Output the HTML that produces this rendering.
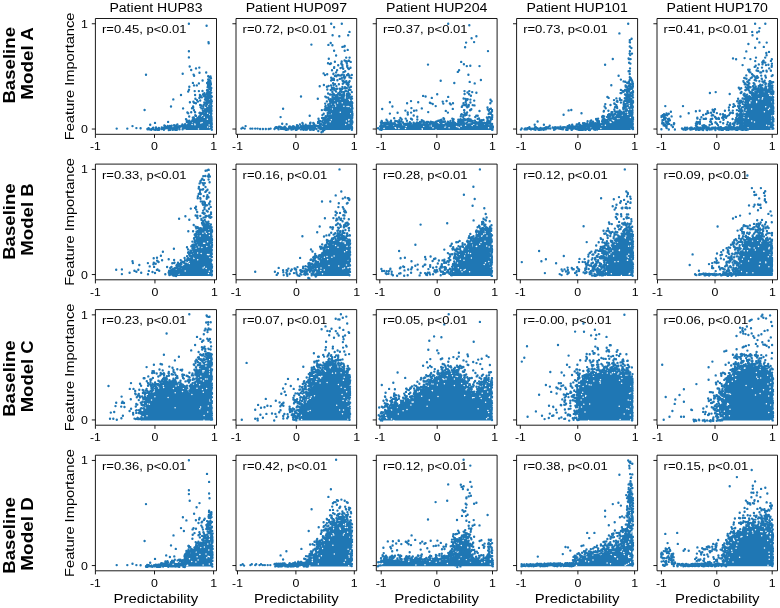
<!DOCTYPE html><html><head><meta charset="utf-8"><style>html,body{margin:0;padding:0;background:#fff;overflow:hidden;}svg{display:block;will-change:transform;}text{font-family:"Liberation Sans",sans-serif;fill:#000;}</style></head><body>
<svg width="780" height="608" viewBox="0 0 780 608">
<rect width="780" height="608" fill="#fff"/>
<defs><clipPath id="c00"><rect x="95.40" y="18.50" width="121.10" height="115.80"/></clipPath><clipPath id="c01"><rect x="236.00" y="18.50" width="120.70" height="115.80"/></clipPath><clipPath id="c02"><rect x="376.30" y="18.50" width="120.80" height="115.80"/></clipPath><clipPath id="c03"><rect x="516.60" y="18.50" width="121.00" height="115.80"/></clipPath><clipPath id="c04"><rect x="657.00" y="18.50" width="120.50" height="115.80"/></clipPath><clipPath id="c10"><rect x="95.40" y="164.10" width="121.10" height="115.70"/></clipPath><clipPath id="c11"><rect x="236.00" y="164.10" width="120.70" height="115.70"/></clipPath><clipPath id="c12"><rect x="376.30" y="164.10" width="120.80" height="115.70"/></clipPath><clipPath id="c13"><rect x="516.60" y="164.10" width="121.00" height="115.70"/></clipPath><clipPath id="c14"><rect x="657.00" y="164.10" width="120.50" height="115.70"/></clipPath><clipPath id="c20"><rect x="95.40" y="309.60" width="121.10" height="115.60"/></clipPath><clipPath id="c21"><rect x="236.00" y="309.60" width="120.70" height="115.60"/></clipPath><clipPath id="c22"><rect x="376.30" y="309.60" width="120.80" height="115.60"/></clipPath><clipPath id="c23"><rect x="516.60" y="309.60" width="121.00" height="115.60"/></clipPath><clipPath id="c24"><rect x="657.00" y="309.60" width="120.50" height="115.60"/></clipPath><clipPath id="c30"><rect x="95.40" y="455.20" width="121.10" height="115.60"/></clipPath><clipPath id="c31"><rect x="236.00" y="455.20" width="120.70" height="115.60"/></clipPath><clipPath id="c32"><rect x="376.30" y="455.20" width="120.80" height="115.60"/></clipPath><clipPath id="c33"><rect x="516.60" y="455.20" width="121.00" height="115.60"/></clipPath><clipPath id="c34"><rect x="657.00" y="455.20" width="120.50" height="115.60"/></clipPath></defs><g clip-path="url(#c00)"><path d="M185.4 130.0L211.2 130.0L211.2 98.8L209.5 95.0L207.6 102.7L204.7 112.3L198.9 117.1L192.2 120.9L187.4 124.8Z" fill="#1f77b4"/><path d="M209.8 127.5h0M209.5 99.8h0M209.2 124.9h0M207.6 113.2h0M210.5 129.9h0M209.7 114.5h0M207.7 127.0h0M204.3 117.3h0M208.4 100.2h0M202.1 122.4h0M210.5 98.9h0M209.8 97.2h0M207.5 106.0h0M208.6 104.0h0M210.9 105.8h0M201.4 116.0h0M202.5 115.2h0M207.4 119.3h0M194.8 124.0h0M195.0 124.8h0M200.8 122.9h0M192.2 122.0h0M192.1 124.5h0M198.5 129.1h0" stroke="#fff" stroke-width="1.5" stroke-linecap="round"/><path d="M211.8 129.7h0M211.6 120.7h0M211.8 124.0h0M210.9 124.9h0M211.3 116.5h0M211.1 124.6h0M211.6 118.9h0M211.4 127.1h0M211.5 117.1h0M211.4 125.4h0M211.5 124.1h0M211.5 129.3h0M211.2 99.8h0M210.6 106.8h0M211.1 100.7h0M211.1 106.0h0M211.8 126.9h0M211.4 102.4h0M211.2 107.0h0M211.4 113.7h0M211.1 104.3h0M211.5 122.7h0M211.6 123.2h0M211.1 112.7h0M211.4 111.6h0M210.7 100.1h0M211.3 124.9h0M211.0 104.0h0M211.6 122.8h0M211.5 125.1h0M211.2 128.5h0M211.5 127.5h0M211.8 101.3h0M211.6 105.9h0M211.3 108.8h0M210.8 115.0h0M211.5 110.5h0M211.1 111.0h0M211.1 100.3h0M211.1 106.0h0M211.1 97.3h0M211.0 97.3h0M210.4 96.8h0M211.8 96.4h0M210.3 97.7h0M205.0 95.0h0M208.7 97.5h0M206.5 98.6h0M205.4 99.4h0M208.4 96.8h0M207.8 97.5h0M206.8 99.0h0M209.0 95.4h0M208.6 100.5h0M206.2 100.2h0M203.1 111.0h0M200.6 107.1h0M206.1 102.5h0M206.5 104.3h0M206.7 104.3h0M202.8 110.7h0M205.5 110.9h0M204.0 104.8h0M207.6 103.1h0M204.3 102.5h0M206.3 104.7h0M207.8 102.9h0M203.4 106.8h0M198.9 116.9h0M200.0 116.7h0M200.9 113.9h0M200.5 115.0h0M199.9 112.7h0M203.1 112.2h0M199.5 113.0h0M203.4 112.6h0M203.4 111.0h0M199.4 116.2h0M195.3 119.7h0M195.1 112.2h0M198.3 117.6h0M192.5 120.5h0M197.6 118.3h0M195.8 119.4h0M197.4 118.0h0M194.0 120.1h0M194.9 119.4h0M187.4 112.5h0M192.2 121.1h0M186.8 121.9h0M189.7 123.3h0M190.9 122.0h0M187.5 124.7h0M189.2 120.8h0M188.2 122.5h0M186.7 120.5h0M186.9 127.1h0M186.7 126.0h0M186.4 127.8h0M179.3 126.1h0M185.4 126.4h0M183.4 127.1h0M185.2 127.7h0M210.2 89.4h0M208.9 76.6h0M210.2 93.5h0M207.4 91.2h0M206.9 97.1h0M211.4 103.0h0M211.2 113.8h0M210.9 84.3h0M207.2 92.8h0M208.0 97.0h0M210.0 84.2h0M207.9 92.7h0M209.3 92.9h0M207.6 97.0h0M210.2 82.9h0M208.2 76.3h0M210.0 88.2h0M211.3 88.0h0M210.7 93.1h0M210.1 82.5h0M211.3 92.6h0M206.3 99.5h0M209.3 88.5h0M211.0 78.3h0M210.2 88.4h0M211.2 119.6h0M208.5 81.4h0M207.6 87.2h0M206.8 93.7h0M208.9 82.9h0M210.8 83.1h0M208.6 95.7h0M208.0 86.7h0M209.3 84.9h0M210.3 85.7h0M208.2 82.3h0M207.1 82.9h0M208.1 90.8h0M207.2 96.0h0M207.4 91.6h0M208.4 81.4h0M211.4 125.3h0M210.3 87.0h0M210.4 81.3h0M210.9 89.9h0M210.4 91.9h0M210.5 76.4h0M209.2 87.9h0M209.3 77.1h0M209.4 81.1h0M208.2 79.5h0M207.9 84.2h0M207.5 101.2h0M208.0 83.5h0M209.6 95.1h0M211.0 96.9h0M210.4 95.7h0M209.2 79.8h0M208.0 93.3h0M207.0 90.3h0M206.7 97.9h0M208.1 93.7h0M207.9 90.5h0M208.0 85.8h0M210.9 95.6h0M207.2 93.3h0M208.9 80.6h0M207.2 93.1h0M210.2 94.5h0M209.6 94.1h0M205.0 109.3h0M210.2 86.2h0M202.5 91.0h0M210.8 97.6h0M202.8 108.5h0M206.1 106.0h0M204.4 93.3h0M211.3 116.8h0M201.5 108.4h0M211.4 124.2h0M201.8 113.2h0M195.3 115.2h0M204.6 110.9h0M193.6 119.7h0M205.5 98.9h0M206.3 103.0h0M196.0 115.9h0M205.0 95.9h0M201.8 97.2h0M197.1 100.3h0M197.9 101.6h0M202.6 113.6h0M209.0 94.3h0M188.7 121.3h0M192.0 108.2h0M203.2 94.2h0M201.6 105.5h0M188.5 123.7h0M208.1 98.5h0M210.8 95.9h0M205.9 102.9h0M211.3 97.0h0M199.4 97.9h0M193.3 118.9h0M211.3 117.6h0M189.2 116.5h0M207.9 96.8h0M199.9 96.9h0M209.1 94.5h0M201.1 114.3h0M210.2 93.0h0M204.1 96.2h0M205.2 96.7h0M191.0 121.8h0M200.2 100.5h0M192.8 117.6h0M206.2 72.5h0M200.7 95.8h0M195.9 103.2h0M189.3 86.8h0M193.4 101.8h0M186.4 119.8h0M189.0 89.8h0M194.0 110.3h0M189.9 102.2h0M192.9 82.9h0M204.3 111.4h0M186.0 119.1h0M188.2 91.5h0M188.2 113.2h0M193.2 107.8h0M202.6 80.5h0M192.7 119.7h0M194.0 85.4h0M200.1 104.9h0M205.0 99.5h0M208.4 91.6h0M193.6 74.6h0M193.8 117.4h0M203.1 94.8h0M199.5 72.7h0M196.8 85.4h0M210.3 93.9h0M161.8 129.1h0M172.8 129.7h0M168.9 127.3h0M182.8 126.6h0M165.3 127.1h0M167.9 127.8h0M180.8 126.6h0M164.3 127.4h0M150.3 129.4h0M171.6 127.6h0M167.0 128.0h0M179.5 129.2h0M180.8 126.6h0M155.6 129.4h0M168.6 127.9h0M176.8 129.7h0M168.8 129.7h0M148.7 128.2h0M173.1 129.4h0M164.8 128.6h0M157.4 129.0h0M168.8 130.0h0M166.8 127.0h0M177.3 128.0h0M151.2 129.8h0M182.6 129.3h0M147.4 128.9h0M158.9 127.9h0M175.3 127.4h0M157.5 129.7h0M177.1 129.4h0M175.3 129.8h0M175.8 129.1h0M157.5 128.9h0M183.0 128.4h0M174.3 127.0h0M164.3 128.3h0M174.8 128.2h0M155.3 129.9h0M179.2 127.7h0M183.5 126.4h0M176.0 128.8h0M165.9 128.2h0M170.2 127.7h0M184.9 127.2h0M161.4 128.7h0M149.5 129.4h0M177.0 126.8h0M157.1 128.8h0M153.4 129.2h0M155.8 129.1h0M152.4 128.7h0M172.6 128.7h0M152.9 128.0h0M156.0 127.5h0M159.1 129.7h0M153.3 127.8h0M176.7 129.6h0M170.4 129.7h0M163.9 129.2h0M185.3 128.1h0M163.9 129.8h0M173.4 128.2h0M161.6 129.0h0M184.3 128.2h0M164.3 128.2h0M147.6 129.3h0M174.6 128.6h0M173.5 129.3h0M163.1 128.4h0M165.0 126.0h0M176.0 126.0h0M174.1 125.1h0M176.5 125.2h0M164.4 125.4h0M175.7 125.8h0M164.6 126.1h0M177.4 124.4h0M161.8 127.5h0M167.7 126.0h0M171.7 125.8h0M177.3 126.6h0M183.7 125.7h0M181.4 125.8h0M185.1 124.2h0M166.6 127.0h0M169.9 126.0h0M182.4 124.4h0M116.7 128.6h0M127.3 128.6h0M132.5 126.1h0M136.4 128.1h0M140.6 128.3h0M146.0 74.8h0M144.6 110.0h0M173.3 99.4h0M171.0 106.5h0M188.9 23.8h0M206.6 25.7h0M208.5 42.1h0M208.7 43.2h0M188.9 51.3h0M188.9 57.4h0M182.7 73.8h0M189.7 66.5h0M191.2 70.0h0M196.0 68.4h0M199.3 67.6h0M155.0 122.9h0M150.2 124.8h0M168.1 121.9h0M183.1 108.4h0M181.0 95.0h0M198.9 83.4h0M194.1 75.7h0M194.7 91.1h0M195.1 95.0h0M195.4 98.8h0M194.1 102.7h0M193.1 106.5h0M198.9 91.1h0M199.9 95.0h0M191.2 112.3h0" stroke="#1f77b4" stroke-width="2.4" stroke-linecap="round"/></g><g clip-path="url(#c01)"><path d="M324.5 130.0L351.8 130.0L351.8 98.8L347.6 95.0L341.8 96.9L336.1 98.8L332.2 104.6L329.3 114.2L326.4 121.9L320.7 126.1Z" fill="#1f77b4"/><path d="M348.8 120.1h0M349.7 100.5h0M348.9 122.9h0M349.0 119.6h0M350.7 113.6h0M347.1 106.4h0M348.8 106.5h0M345.7 124.5h0M342.2 102.8h0M350.6 107.5h0M346.4 120.9h0M347.8 96.5h0M349.1 99.4h0M345.2 98.1h0M345.2 96.8h0M343.9 106.3h0M340.2 98.7h0M335.6 105.9h0M337.6 103.0h0M335.0 104.3h0M331.1 113.7h0M340.3 112.2h0M332.5 106.6h0M332.4 109.1h0M331.3 119.8h0M350.8 129.6h0M330.2 121.7h0M326.1 124.0h0M322.4 126.8h0" stroke="#fff" stroke-width="1.5" stroke-linecap="round"/><path d="M351.8 101.9h0M351.9 129.7h0M351.9 123.8h0M351.4 121.4h0M352.1 111.7h0M352.4 113.4h0M352.1 127.9h0M351.8 129.7h0M351.9 126.9h0M351.9 111.8h0M351.9 106.5h0M352.3 103.0h0M352.0 108.6h0M351.5 120.0h0M351.4 110.9h0M352.4 115.4h0M351.9 120.9h0M352.4 114.8h0M352.0 105.2h0M352.1 111.4h0M352.2 107.5h0M351.6 128.0h0M351.9 105.4h0M351.4 112.3h0M352.0 111.9h0M351.3 128.7h0M352.4 122.5h0M351.3 106.5h0M352.1 114.2h0M352.0 111.1h0M351.9 127.4h0M352.1 102.9h0M351.6 124.8h0M351.6 118.7h0M352.2 117.3h0M351.7 109.5h0M352.3 121.5h0M352.0 118.5h0M352.2 117.7h0M352.4 108.6h0M351.3 127.9h0M351.0 97.4h0M348.1 96.2h0M351.8 96.6h0M352.0 98.6h0M349.2 95.4h0M348.7 95.9h0M348.7 96.2h0M347.0 94.6h0M342.0 97.3h0M342.2 97.2h0M344.2 95.3h0M343.6 96.1h0M343.7 92.2h0M345.3 91.1h0M347.1 95.3h0M341.9 97.2h0M337.7 97.0h0M339.3 98.3h0M337.6 98.7h0M337.6 97.7h0M336.9 98.9h0M340.0 98.0h0M335.9 97.3h0M332.0 99.2h0M333.7 97.7h0M333.0 104.2h0M331.6 101.5h0M329.9 101.0h0M332.9 100.6h0M333.2 101.8h0M334.6 99.0h0M333.8 101.7h0M328.3 110.4h0M330.9 110.4h0M326.7 109.7h0M327.0 110.0h0M331.1 105.8h0M324.5 109.8h0M332.1 105.4h0M331.5 106.9h0M329.8 110.7h0M327.7 112.9h0M325.8 110.0h0M330.2 113.0h0M329.4 108.2h0M326.7 116.7h0M324.0 117.9h0M328.4 116.3h0M327.2 121.3h0M327.9 118.9h0M327.4 120.2h0M326.8 120.6h0M325.1 120.8h0M327.2 120.2h0M325.7 118.8h0M318.5 118.7h0M325.4 123.0h0M325.6 123.0h0M323.5 124.2h0M318.8 122.2h0M320.8 124.7h0M322.8 122.3h0M323.4 122.6h0M325.4 121.2h0M318.3 131.0h0M320.7 128.2h0M323.4 129.0h0M324.2 129.7h0M323.0 131.4h0M321.8 129.1h0M321.5 132.2h0M332.8 99.5h0M328.6 110.0h0M342.5 95.2h0M341.3 63.4h0M344.5 78.5h0M330.5 101.8h0M325.7 108.1h0M340.4 94.2h0M338.3 93.3h0M328.1 93.5h0M330.5 109.3h0M328.2 104.4h0M348.6 95.2h0M349.4 96.1h0M346.9 93.9h0M342.4 87.0h0M332.4 101.4h0M330.6 105.5h0M332.8 79.2h0M325.5 108.7h0M322.5 122.0h0M328.6 108.2h0M332.3 103.1h0M328.2 97.6h0M339.8 95.3h0M326.7 108.6h0M325.7 106.0h0M341.8 95.4h0M335.4 90.5h0M328.7 111.5h0M322.9 120.1h0M322.1 117.9h0M342.5 94.4h0M325.9 119.2h0M331.4 89.6h0M334.8 88.6h0M332.1 87.9h0M348.9 69.0h0M347.8 82.9h0M329.0 111.9h0M345.0 87.3h0M322.4 115.1h0M340.0 91.5h0M348.6 95.8h0M332.8 88.0h0M348.4 94.1h0M333.7 87.8h0M344.0 93.9h0M339.3 93.8h0M328.8 106.5h0M346.1 81.7h0M344.9 88.2h0M332.5 96.9h0M331.8 99.4h0M341.7 91.7h0M333.4 89.6h0M325.9 110.3h0M327.7 114.9h0M347.9 85.6h0M334.6 95.3h0M346.3 91.1h0M331.9 87.8h0M335.9 97.7h0M330.7 102.2h0M347.7 84.6h0M342.6 88.2h0M332.4 92.0h0M327.1 116.3h0M349.0 82.3h0M328.9 99.3h0M323.7 113.8h0M346.5 83.7h0M337.9 94.3h0M327.6 108.8h0M335.6 99.1h0M326.5 97.4h0M343.7 77.0h0M330.7 90.0h0M332.5 92.2h0M339.8 78.9h0M326.9 101.4h0M324.0 119.0h0M325.6 116.3h0M328.3 105.7h0M325.2 103.6h0M330.0 94.5h0M325.4 120.7h0M330.3 99.2h0M345.1 81.8h0M346.8 87.9h0M336.1 95.2h0M328.5 113.2h0M326.8 108.8h0M342.6 95.4h0M325.2 120.7h0M324.4 122.1h0M325.1 109.8h0M350.5 89.9h0M335.1 84.1h0M327.3 89.5h0M336.1 91.5h0M333.9 94.3h0M329.9 103.5h0M348.6 84.7h0M331.6 101.8h0M328.3 107.2h0M340.8 90.2h0M348.7 82.6h0M325.1 109.1h0M334.3 95.1h0M342.5 66.9h0M331.2 77.8h0M341.4 91.8h0M336.4 86.1h0M336.1 72.4h0M336.4 76.3h0M331.1 80.5h0M349.4 75.8h0M343.0 81.1h0M341.7 61.4h0M349.0 60.6h0M342.4 65.0h0M344.6 60.5h0M339.7 88.7h0M344.0 75.2h0M349.6 81.1h0M334.2 67.1h0M348.1 68.2h0M337.1 88.8h0M342.2 74.6h0M338.9 84.3h0M346.8 63.2h0M338.2 65.3h0M348.9 75.3h0M340.8 88.9h0M346.7 61.4h0M342.5 80.4h0M348.7 93.1h0M344.0 77.2h0M348.2 74.0h0M346.9 75.3h0M333.8 78.6h0M349.9 94.5h0M342.4 67.3h0M351.8 74.9h0M337.1 70.2h0M338.1 75.0h0M349.3 87.5h0M334.0 80.0h0M333.2 78.6h0M337.6 96.8h0M344.0 92.3h0M343.4 72.3h0M340.9 95.2h0M336.5 95.5h0M343.2 68.8h0M333.1 83.2h0M343.6 82.0h0M335.0 75.9h0M345.1 77.2h0M331.0 85.4h0M333.7 94.8h0M337.4 80.2h0M346.4 81.9h0M332.4 79.8h0M351.3 78.0h0M331.2 94.6h0M343.8 72.1h0M350.5 67.8h0M345.2 71.2h0M334.1 67.9h0M342.3 89.0h0M336.8 95.8h0M341.7 78.2h0M343.3 80.9h0M348.7 60.7h0M347.2 66.7h0M345.8 61.3h0M333.5 73.8h0M333.6 85.1h0M342.8 83.7h0M350.7 61.9h0M341.6 64.3h0M335.9 75.5h0M346.5 88.1h0M332.0 70.2h0M343.7 82.8h0M331.4 78.0h0M328.6 86.0h0M319.2 120.6h0M347.7 49.9h0M334.9 61.7h0M325.0 75.1h0M340.5 68.1h0M330.0 64.0h0M330.3 110.1h0M329.8 106.9h0M333.0 79.8h0M341.6 63.4h0M328.8 58.7h0M344.4 46.5h0M345.7 88.5h0M341.0 75.5h0M351.0 86.7h0M323.9 85.0h0M325.3 96.6h0M326.9 86.8h0M332.4 45.2h0M349.6 57.6h0M332.8 94.6h0M347.2 65.4h0M348.0 91.6h0M327.2 74.2h0M333.4 74.0h0M346.2 57.6h0M321.2 124.1h0M346.2 61.8h0M325.3 106.8h0M321.9 110.1h0M331.0 63.4h0M349.5 77.2h0M339.2 75.4h0M348.7 89.8h0M346.4 81.2h0M351.8 92.1h0M281.9 127.6h0M312.1 126.2h0M314.7 128.4h0M312.8 127.8h0M299.1 127.8h0M298.6 127.7h0M298.0 126.0h0M292.3 127.6h0M285.7 127.8h0M276.0 127.3h0M305.9 128.1h0M320.7 128.7h0M311.3 129.5h0M313.2 129.8h0M316.2 125.6h0M294.2 126.8h0M302.6 128.8h0M308.9 127.0h0M310.1 129.7h0M316.4 129.1h0M306.0 129.7h0M298.7 127.8h0M291.4 127.9h0M289.8 128.3h0M298.6 128.6h0M305.5 129.6h0M301.3 126.1h0M308.9 126.7h0M276.7 127.3h0M280.9 128.7h0M312.0 128.6h0M284.6 127.2h0M284.0 128.5h0M274.5 129.0h0M310.6 128.0h0M298.1 127.7h0M300.8 126.7h0M322.3 128.5h0M314.5 127.4h0M286.4 129.0h0M305.9 126.5h0M288.2 129.4h0M295.9 128.4h0M297.0 127.7h0M312.1 128.4h0M297.5 128.7h0M286.2 129.9h0M318.4 127.4h0M279.0 126.7h0M300.9 129.4h0M280.9 128.1h0M301.3 129.0h0M288.8 128.0h0M321.9 127.8h0M293.6 126.4h0M313.4 128.3h0M308.7 128.2h0M307.5 127.4h0M277.2 127.4h0M301.6 128.6h0M296.6 129.7h0M295.5 128.0h0M303.3 127.9h0M277.5 128.2h0M306.9 129.4h0M319.3 128.2h0M304.1 128.7h0M310.1 126.8h0M284.7 127.7h0M295.8 129.7h0M303.3 126.4h0M307.6 127.6h0M286.8 129.7h0M320.4 129.1h0M275.6 127.5h0M291.0 127.3h0M303.5 129.7h0M289.2 126.6h0M310.4 126.7h0M291.0 127.7h0M284.8 126.6h0M285.1 128.0h0M289.4 127.4h0M310.6 125.6h0M311.8 128.0h0M308.1 125.8h0M316.5 129.1h0M319.6 127.6h0M313.8 129.7h0M314.8 125.6h0M283.5 128.5h0M307.2 129.3h0M312.2 126.4h0M306.3 128.0h0M324.3 129.9h0M301.2 127.1h0M308.7 127.4h0M283.3 127.6h0M295.8 127.5h0M312.7 125.7h0M288.3 128.9h0M290.4 126.6h0M321.5 127.4h0M304.1 127.9h0M312.3 128.9h0M319.5 127.9h0M278.0 128.5h0M296.2 127.5h0M313.7 129.6h0M309.2 128.0h0M303.3 126.1h0M293.4 129.1h0M291.4 129.5h0M307.1 129.5h0M307.3 128.0h0M303.2 129.6h0M285.8 129.4h0M289.4 127.2h0M284.0 129.0h0M281.7 127.9h0M319.0 125.9h0M280.6 127.0h0M306.6 125.9h0M322.2 127.8h0M305.1 128.3h0M307.8 127.8h0M306.4 126.1h0M312.3 128.7h0M305.9 126.6h0M293.1 126.2h0M276.6 127.6h0M319.7 127.6h0M276.3 127.9h0M286.0 129.2h0M292.3 129.3h0M322.9 129.9h0M291.0 128.8h0M309.6 125.6h0M315.0 128.0h0M280.0 127.0h0M289.9 127.3h0M275.0 128.2h0M289.8 126.4h0M307.5 128.5h0M295.9 129.8h0M315.4 126.9h0M282.3 128.9h0M278.6 129.3h0M291.5 128.7h0M294.5 127.6h0M303.3 125.7h0M319.7 125.1h0M319.8 121.2h0M305.7 124.6h0M297.0 125.1h0M305.0 126.1h0M314.8 125.3h0M306.7 126.3h0M310.1 123.2h0M309.5 126.0h0M310.5 122.7h0M313.3 123.0h0M305.7 125.7h0M325.5 122.2h0M313.6 123.8h0M320.7 125.0h0M318.1 121.6h0M319.9 123.7h0M320.6 121.2h0M305.4 126.0h0M307.6 126.3h0M299.9 124.4h0M318.0 122.9h0M317.5 125.9h0M297.6 126.2h0M302.7 123.7h0M296.9 126.3h0M320.1 125.7h0M314.0 123.7h0M326.1 121.2h0M241.4 128.6h0M242.7 127.7h0M244.7 128.6h0M245.6 126.1h0M250.4 128.6h0M252.4 128.6h0M255.2 128.6h0M257.6 128.6h0M260.1 129.0h0M262.9 129.0h0M265.8 129.0h0M268.7 129.0h0M270.6 128.6h0M311.4 44.6h0M301.0 96.5h0M283.1 108.8h0M280.6 117.1h0M317.8 98.8h0M319.7 86.3h0M323.6 73.4h0M328.0 63.2h0M328.4 44.9h0M330.7 43.0h0M331.2 23.8h0M334.1 27.2h0M341.8 23.8h0M349.5 31.9h0M348.2 35.3h0M339.3 36.3h0M332.6 35.3h0M344.7 45.9h0M342.4 46.9h0M334.1 50.7h0M336.1 55.5h0M344.7 50.7h0M309.7 115.7h0M282.2 123.8h0M286.6 124.2h0M302.4 122.9h0" stroke="#1f77b4" stroke-width="2.4" stroke-linecap="round"/></g><g clip-path="url(#c02)"><path d="M380.8 130.0L492.4 130.0L492.4 125.8L483.8 124.8L472.2 122.9L460.7 123.8L449.1 124.8L433.7 124.8L414.5 124.8L395.2 125.4L380.8 125.8Z" fill="#1f77b4"/><path d="M491.7 126.4h0M488.6 127.8h0M473.8 124.3h0M477.1 125.1h0M461.1 126.3h0M472.2 125.6h0M465.6 125.3h0M461.8 124.5h0M459.3 127.7h0M456.5 126.4h0M458.0 127.0h0M436.0 130.0h0M446.0 125.8h0M449.1 127.8h0M445.0 127.3h0M423.7 126.2h0M431.3 125.9h0M433.0 127.8h0M422.2 128.8h0M422.4 129.9h0M429.6 125.5h0M398.9 128.6h0M405.5 128.6h0M395.8 128.2h0M406.2 126.4h0M395.2 127.5h0M384.0 128.4h0M384.1 128.5h0" stroke="#fff" stroke-width="1.5" stroke-linecap="round"/><path d="M492.9 127.6h0M492.3 129.9h0M492.9 126.5h0M492.2 127.1h0M492.6 129.0h0M487.7 125.6h0M489.8 122.9h0M489.0 123.5h0M490.9 119.1h0M491.9 124.2h0M490.7 125.0h0M489.8 126.1h0M484.3 122.8h0M485.4 125.6h0M486.7 123.3h0M490.7 126.0h0M480.3 124.8h0M476.0 123.6h0M478.0 123.6h0M481.5 121.9h0M481.3 122.8h0M477.7 118.9h0M481.6 124.8h0M475.3 123.0h0M474.7 123.1h0M483.5 119.9h0M476.3 115.6h0M472.3 123.0h0M483.0 124.7h0M481.1 121.5h0M475.7 123.5h0M463.4 123.8h0M467.1 112.5h0M467.8 120.1h0M466.3 119.6h0M460.9 120.3h0M461.6 123.4h0M470.5 120.4h0M462.1 123.1h0M467.7 121.5h0M461.2 124.1h0M462.6 120.8h0M463.9 120.6h0M465.2 120.2h0M465.1 119.5h0M461.4 124.3h0M451.3 124.6h0M458.5 123.8h0M458.2 121.7h0M450.7 124.7h0M450.5 121.0h0M456.0 123.7h0M450.5 124.6h0M452.3 118.6h0M454.1 124.3h0M454.3 123.1h0M455.1 124.4h0M460.1 120.5h0M460.5 121.9h0M457.3 123.9h0M460.0 122.6h0M444.1 124.9h0M437.7 124.9h0M446.6 123.4h0M441.5 125.3h0M449.1 125.4h0M445.0 121.5h0M436.7 124.6h0M434.7 124.2h0M440.1 122.4h0M447.4 124.9h0M436.0 124.7h0M437.7 124.1h0M444.1 119.0h0M439.2 125.2h0M444.7 124.8h0M434.6 123.2h0M445.8 124.2h0M447.2 125.4h0M440.9 124.2h0M443.7 121.5h0M433.1 122.9h0M426.3 125.3h0M424.2 122.3h0M430.7 122.7h0M416.4 124.8h0M416.0 124.8h0M426.5 122.9h0M430.4 124.2h0M421.1 124.6h0M432.2 122.2h0M420.0 124.8h0M426.9 124.9h0M423.6 121.1h0M420.9 122.1h0M421.4 124.3h0M428.7 125.2h0M420.4 124.5h0M433.1 124.4h0M416.5 123.2h0M425.6 125.3h0M419.3 123.6h0M430.6 123.0h0M418.6 124.9h0M415.6 123.6h0M414.6 124.8h0M395.3 120.9h0M395.9 125.2h0M399.8 123.4h0M413.5 124.1h0M410.2 122.6h0M409.5 123.8h0M403.6 123.8h0M397.0 125.7h0M401.0 124.3h0M412.1 119.5h0M407.7 123.5h0M409.2 125.3h0M398.5 125.6h0M400.4 117.9h0M410.0 125.4h0M407.9 125.3h0M395.3 125.7h0M411.3 125.4h0M395.2 124.0h0M413.0 125.4h0M406.3 124.9h0M398.3 122.5h0M409.8 125.5h0M409.5 125.2h0M410.1 125.0h0M383.3 125.8h0M395.2 123.5h0M384.4 124.4h0M387.5 124.4h0M394.7 124.2h0M382.8 126.3h0M391.5 124.5h0M389.5 123.6h0M393.0 123.9h0M387.9 122.8h0M386.0 123.7h0M391.0 120.7h0M390.0 124.0h0M390.3 121.9h0M384.7 124.4h0M381.7 121.0h0M389.9 125.4h0M390.6 125.5h0M391.1 125.8h0M380.1 126.4h0M378.1 128.2h0M380.9 128.2h0M379.9 129.4h0M381.4 128.5h0M381.4 129.9h0M486.2 123.0h0M460.8 122.2h0M420.0 121.9h0M427.1 123.9h0M463.2 116.9h0M456.3 124.0h0M413.6 122.8h0M383.2 123.3h0M418.1 123.9h0M426.2 122.7h0M394.4 122.8h0M428.0 121.9h0M426.9 121.9h0M472.7 121.0h0M477.6 122.8h0M462.5 119.6h0M490.9 125.4h0M414.4 123.5h0M461.8 123.2h0M448.0 123.7h0M447.9 121.8h0M401.7 119.5h0M479.6 123.4h0M410.5 123.3h0M406.9 120.7h0M475.9 123.3h0M397.4 125.0h0M460.8 116.4h0M451.8 123.1h0M452.2 122.9h0M432.2 123.0h0M436.7 121.4h0M400.2 121.7h0M436.0 121.8h0M471.2 120.5h0M410.9 123.5h0M410.3 123.9h0M423.3 122.3h0M400.7 124.5h0M434.4 122.7h0M443.5 118.1h0M442.2 124.4h0M387.3 123.5h0M414.7 124.7h0M483.7 123.3h0M380.9 122.4h0M461.1 123.7h0M405.7 118.6h0M454.8 123.1h0M441.6 124.3h0M472.4 121.2h0M392.1 125.1h0M384.3 122.9h0M391.0 124.8h0M481.8 120.1h0M430.8 121.8h0M453.9 122.4h0M391.0 124.5h0M409.9 122.3h0M452.8 118.9h0M397.0 121.1h0M407.3 124.1h0M463.1 121.0h0M399.5 121.1h0M406.2 123.7h0M480.0 122.8h0M426.1 124.3h0M389.0 124.8h0M404.8 124.2h0M413.3 124.3h0M453.6 119.3h0M387.6 121.5h0M403.0 122.4h0M399.3 120.3h0M426.3 123.9h0M385.6 122.7h0M381.3 124.2h0M380.9 125.6h0M482.6 122.8h0M443.3 121.8h0M430.6 123.9h0M479.3 123.7h0M382.0 122.0h0M398.0 125.1h0M464.1 123.3h0M463.5 122.2h0M418.4 123.2h0M436.3 123.0h0M390.3 122.4h0M480.0 120.1h0M452.8 124.2h0M401.3 121.6h0M409.7 124.2h0M381.8 125.6h0M395.9 125.1h0M399.2 124.6h0M450.3 122.6h0M462.8 121.6h0M460.5 119.2h0M433.5 122.4h0M459.2 121.1h0M480.8 123.8h0M386.3 124.6h0M434.0 123.4h0M451.0 124.0h0M423.3 124.4h0M449.2 122.9h0M475.3 117.0h0M440.4 122.6h0M461.5 121.8h0M474.2 122.9h0M486.9 124.2h0M419.5 122.6h0M394.2 118.2h0M469.7 121.0h0M438.3 120.8h0M468.7 118.8h0M417.3 119.5h0M421.8 120.2h0M408.2 124.0h0M476.3 122.1h0M391.6 122.8h0M399.4 123.3h0M449.5 124.1h0M422.7 120.6h0M423.9 124.4h0M486.3 124.1h0M400.3 125.1h0M467.7 119.3h0M487.7 122.6h0M466.3 123.3h0M459.8 121.1h0M445.5 124.2h0M482.5 124.2h0M453.3 121.2h0M464.2 119.7h0M425.8 122.6h0M441.7 121.8h0M470.3 121.6h0M400.9 125.0h0M474.9 120.8h0M422.2 124.7h0M462.4 122.9h0M386.5 119.7h0M453.0 119.9h0M446.1 124.1h0M487.0 123.9h0M467.6 121.7h0M444.4 121.7h0M487.9 120.4h0M420.8 123.8h0M485.9 124.4h0M429.3 122.8h0M433.8 123.5h0M479.0 118.4h0M479.5 121.5h0M417.0 122.4h0M455.0 122.9h0M475.8 123.1h0M385.0 124.9h0M441.5 119.8h0M436.9 124.3h0M417.6 124.0h0M411.0 118.7h0M440.7 120.9h0M458.3 119.7h0M440.3 120.1h0M479.3 122.9h0M441.6 120.6h0M424.1 124.7h0M468.5 106.5h0M464.1 110.3h0M470.6 119.4h0M466.9 100.1h0M466.6 114.8h0M468.8 104.9h0M461.7 114.2h0M467.7 99.2h0M467.2 107.3h0M462.7 119.9h0M470.4 99.6h0M463.9 119.0h0M466.0 100.4h0M470.9 95.8h0M462.5 105.6h0M461.2 114.6h0M471.3 109.3h0M464.6 94.0h0M465.7 101.9h0M466.4 100.2h0M468.4 105.5h0M463.6 103.6h0M465.7 98.9h0M467.5 92.5h0M463.5 103.3h0M469.1 94.3h0M470.1 110.3h0M472.7 105.1h0M463.5 115.3h0M463.6 98.5h0M464.4 112.6h0M469.5 115.6h0M464.3 110.2h0M466.2 104.1h0M465.0 115.4h0M487.5 118.9h0M490.6 123.8h0M489.2 113.4h0M490.9 108.6h0M487.6 123.2h0M487.3 124.5h0M490.5 120.5h0M492.2 117.0h0M492.0 110.0h0M487.5 122.4h0M490.0 121.1h0M486.9 117.5h0M487.8 109.5h0M490.8 113.7h0M488.9 110.8h0M490.2 121.8h0M492.0 119.0h0M490.1 117.4h0M487.2 121.2h0M491.3 112.3h0M489.4 113.2h0M492.2 115.3h0M492.1 123.9h0M490.1 108.9h0M489.1 122.0h0M461.8 106.9h0M413.7 115.5h0M430.6 103.1h0M491.6 101.2h0M470.6 110.0h0M470.4 102.5h0M490.3 103.3h0M488.9 117.3h0M405.4 110.6h0M452.8 108.9h0M435.7 106.1h0M474.2 100.6h0M466.7 106.3h0M474.5 105.4h0M492.0 111.3h0M477.7 115.7h0M489.2 117.1h0M411.4 108.1h0M411.1 112.6h0M446.6 101.0h0M407.8 114.5h0M447.9 112.6h0M465.2 113.6h0M479.5 111.0h0M449.9 103.4h0M407.1 103.3h0M487.5 107.5h0M432.7 104.0h0M414.0 110.8h0M428.2 112.1h0M417.3 116.7h0M467.4 106.6h0M445.8 110.9h0M488.6 114.1h0M450.8 104.4h0M464.7 105.1h0M442.7 101.6h0M453.0 103.2h0M418.2 102.3h0M407.7 112.4h0M448.2 23.8h0M469.3 25.3h0M471.6 38.2h0M476.4 36.3h0M474.1 42.1h0M466.1 42.6h0M465.1 47.2h0M488.0 51.1h0M428.0 64.6h0M461.2 61.9h0M463.9 64.2h0M466.8 66.1h0M470.3 65.7h0M479.5 66.1h0M459.1 70.3h0M457.8 71.9h0M468.4 74.8h0M440.7 80.7h0M454.3 83.0h0M469.7 81.9h0M480.9 80.0h0M474.7 83.4h0M464.5 91.1h0M469.3 91.1h0M472.2 92.1h0M476.4 92.7h0M423.1 95.9h0M425.6 96.5h0M411.0 101.1h0M389.9 102.3h0M392.4 106.5h0M382.2 109.0h0M431.8 97.9h0M437.2 94.2h0M448.2 96.9h0M443.3 103.6h0M429.9 102.7h0M421.8 108.4h0M397.6 112.7h0M389.9 113.6h0M416.4 110.4h0M490.5 99.8h0" stroke="#1f77b4" stroke-width="2.4" stroke-linecap="round"/></g><g clip-path="url(#c03)"><path d="M595.9 130.0L632.5 130.0L632.5 81.5L630.5 81.5L628.6 98.8L625.7 110.4L619.9 116.1L612.2 119.0L603.6 122.3Z" fill="#1f77b4"/><path d="M629.1 103.8h0M627.8 114.2h0M627.4 112.3h0M630.4 117.5h0M631.4 83.0h0M630.7 81.5h0M631.3 128.9h0M630.6 91.2h0M631.4 97.0h0M630.9 82.3h0M631.3 109.2h0M632.0 83.2h0M631.7 94.2h0M631.5 90.5h0M631.9 85.5h0M627.6 107.8h0M629.4 105.7h0M628.5 109.4h0M622.2 114.9h0M625.5 112.1h0M618.9 118.6h0M617.3 118.4h0M613.7 120.7h0M612.5 120.0h0M610.1 121.9h0M610.9 122.5h0M600.9 128.4h0M601.6 125.3h0M605.4 125.3h0" stroke="#fff" stroke-width="1.5" stroke-linecap="round"/><path d="M633.0 102.3h0M632.6 106.3h0M632.7 121.8h0M632.8 124.0h0M632.7 85.3h0M633.0 117.8h0M632.9 119.2h0M632.0 128.1h0M632.5 103.3h0M633.0 129.1h0M632.4 81.6h0M632.9 84.0h0M632.7 95.1h0M632.8 106.7h0M632.3 88.5h0M633.0 101.7h0M632.4 102.5h0M632.4 111.4h0M632.4 108.2h0M632.3 120.1h0M632.4 113.7h0M632.6 93.1h0M633.0 97.4h0M632.8 86.3h0M632.5 85.3h0M632.3 82.6h0M632.5 87.2h0M633.0 102.5h0M632.5 101.7h0M632.6 93.9h0M632.4 84.0h0M632.8 119.9h0M632.6 125.0h0M632.5 121.7h0M632.5 110.2h0M632.6 121.4h0M632.1 125.4h0M632.4 86.0h0M632.8 100.8h0M632.8 101.7h0M632.8 107.3h0M632.8 129.0h0M632.1 93.8h0M632.2 105.6h0M632.7 117.2h0M632.6 96.7h0M632.3 111.0h0M633.0 127.2h0M632.8 85.4h0M632.1 118.7h0M633.0 91.2h0M633.0 92.2h0M632.9 83.4h0M632.6 93.1h0M633.0 119.2h0M632.4 94.7h0M632.5 112.5h0M632.3 114.7h0M632.3 120.6h0M632.9 86.8h0M631.9 95.9h0M632.6 84.1h0M632.9 119.8h0M631.8 80.6h0M631.0 78.5h0M628.8 86.0h0M629.0 91.5h0M628.3 97.2h0M629.7 86.3h0M627.0 91.4h0M627.6 95.7h0M625.2 81.8h0M629.4 96.0h0M628.5 83.4h0M626.6 87.0h0M629.1 95.1h0M623.6 91.5h0M630.2 84.1h0M627.7 93.7h0M626.9 87.5h0M627.1 82.8h0M627.7 98.2h0M628.6 97.1h0M628.9 90.3h0M629.1 91.4h0M624.8 98.2h0M623.6 81.4h0M626.3 110.4h0M626.3 100.2h0M627.4 106.1h0M617.2 108.1h0M626.9 99.8h0M614.3 103.4h0M628.1 98.8h0M626.9 100.7h0M625.3 105.2h0M626.3 106.1h0M628.5 100.4h0M619.8 98.4h0M626.3 106.6h0M626.3 109.8h0M624.7 104.6h0M623.7 102.1h0M620.9 111.7h0M619.5 113.3h0M625.5 110.6h0M618.9 113.8h0M624.1 112.5h0M619.1 114.7h0M621.2 113.9h0M622.2 113.5h0M617.0 107.0h0M625.7 111.1h0M617.6 111.7h0M619.0 117.1h0M612.4 115.8h0M619.5 116.3h0M616.5 116.6h0M619.0 116.3h0M612.8 114.3h0M615.2 117.8h0M612.8 118.3h0M618.1 114.1h0M615.5 118.3h0M617.3 117.1h0M610.7 118.4h0M605.8 121.0h0M609.9 119.1h0M605.6 120.9h0M608.1 117.8h0M605.3 119.7h0M609.2 119.5h0M602.3 117.4h0M604.1 121.6h0M605.1 119.9h0M603.9 118.6h0M604.2 116.4h0M598.5 126.9h0M599.8 124.8h0M597.1 129.5h0M598.4 127.5h0M600.4 125.5h0M597.3 125.3h0M600.9 124.3h0M602.1 121.3h0M602.7 123.1h0M599.1 122.2h0M597.5 125.4h0M602.7 122.4h0M598.8 127.9h0M602.1 123.8h0M625.8 103.9h0M625.6 86.6h0M619.9 113.4h0M629.6 88.7h0M615.6 112.1h0M613.8 117.5h0M615.0 107.2h0M602.5 123.0h0M623.4 109.2h0M618.2 116.0h0M623.7 107.6h0M603.7 111.5h0M605.1 121.3h0M625.5 106.8h0M623.4 112.0h0M607.2 120.0h0M622.6 90.9h0M623.7 103.0h0M613.6 114.4h0M620.3 114.9h0M628.1 99.2h0M619.7 110.5h0M618.1 115.6h0M621.5 100.1h0M625.0 89.9h0M615.6 114.1h0M605.7 108.3h0M616.9 111.8h0M629.9 86.1h0M629.2 88.5h0M620.1 113.2h0M626.4 87.4h0M626.0 95.5h0M618.1 112.6h0M604.6 119.9h0M623.2 107.9h0M614.3 109.4h0M625.6 85.5h0M603.9 110.9h0M607.1 116.9h0M626.7 97.1h0M627.6 89.1h0M603.0 117.7h0M627.6 91.3h0M608.4 110.8h0M622.7 91.5h0M627.0 95.2h0M626.0 90.2h0M613.5 115.2h0M603.6 120.1h0M626.3 94.5h0M624.1 105.2h0M617.3 101.0h0M608.1 115.0h0M610.7 114.3h0M614.0 100.1h0M610.1 116.3h0M627.8 97.6h0M626.4 101.1h0M616.4 105.2h0M603.4 119.3h0M604.0 120.8h0M608.6 97.9h0M605.3 104.1h0M616.8 101.4h0M616.4 98.4h0M624.7 108.4h0M608.8 117.4h0M614.9 114.0h0M627.2 101.7h0M608.6 117.5h0M611.9 114.0h0M627.4 88.0h0M612.5 114.2h0M614.8 111.3h0M620.9 102.6h0M620.1 100.1h0M619.1 111.5h0M614.7 104.0h0M620.9 89.9h0M625.0 94.5h0M613.7 115.3h0M617.5 101.8h0M626.6 94.1h0M627.0 92.1h0M603.0 115.9h0M611.5 112.3h0M617.0 115.6h0M626.9 99.9h0M625.5 98.5h0M623.9 105.6h0M623.6 91.8h0M624.5 101.0h0M627.4 102.8h0M627.2 90.1h0M610.5 105.0h0M612.5 117.7h0M602.2 116.5h0M623.7 104.6h0M621.4 93.1h0M625.0 90.6h0M620.1 114.1h0M612.4 112.1h0M609.3 116.0h0M626.3 86.2h0M623.7 106.4h0M602.6 119.9h0M609.2 114.2h0M620.5 93.1h0M602.3 117.0h0M631.9 80.2h0M629.0 81.7h0M629.1 62.8h0M628.9 59.1h0M629.7 80.3h0M630.2 55.1h0M629.9 51.2h0M629.7 74.0h0M629.8 79.7h0M629.8 77.3h0M628.6 71.3h0M628.9 82.7h0M631.6 38.7h0M629.0 81.6h0M630.6 59.1h0M631.4 48.0h0M630.4 63.6h0M632.0 53.6h0M630.0 68.4h0M630.0 42.4h0M629.7 71.3h0M629.7 42.1h0M525.1 128.8h0M578.5 129.2h0M589.6 125.8h0M595.9 128.7h0M575.8 126.3h0M584.5 125.1h0M592.8 124.3h0M570.1 128.1h0M538.3 129.6h0M571.7 129.9h0M576.1 128.9h0M566.6 128.4h0M561.6 128.0h0M534.8 127.8h0M532.4 128.9h0M588.5 124.6h0M579.9 129.9h0M527.3 129.0h0M520.9 129.6h0M555.1 127.2h0M594.9 125.1h0M577.2 129.2h0M587.7 125.8h0M588.1 125.2h0M567.6 129.7h0M590.5 125.2h0M540.7 128.0h0M590.9 124.4h0M526.0 129.4h0M588.1 126.1h0M586.9 125.9h0M592.8 127.9h0M542.9 128.5h0M577.9 128.8h0M579.3 127.6h0M577.0 126.6h0M593.7 128.2h0M589.7 130.0h0M583.7 126.3h0M582.6 127.9h0M564.8 127.1h0M595.1 127.2h0M586.7 128.7h0M597.4 122.1h0M531.0 128.6h0M525.4 128.4h0M578.9 129.7h0M595.7 123.7h0M587.3 128.7h0M524.5 129.2h0M563.4 128.5h0M590.1 126.6h0M545.3 127.7h0M544.3 128.3h0M560.5 126.8h0M595.5 126.4h0M597.2 126.2h0M521.7 128.4h0M541.6 129.6h0M538.6 129.7h0M580.0 127.3h0M566.1 127.6h0M585.6 126.0h0M558.3 127.4h0M583.5 129.3h0M583.5 129.4h0M534.3 128.6h0M592.3 126.0h0M577.7 126.8h0M589.9 130.0h0M578.9 127.9h0M596.7 124.6h0M594.9 123.9h0M584.3 124.8h0M547.6 128.2h0M544.8 128.9h0M558.9 128.6h0M570.1 126.4h0M570.6 127.0h0M527.4 128.2h0M557.1 127.4h0M529.7 128.9h0M589.7 129.9h0M577.9 127.8h0M585.3 128.3h0M595.3 129.6h0M535.9 127.2h0M555.7 128.7h0M548.1 127.3h0M595.7 126.2h0M596.7 126.8h0M583.7 129.0h0M574.0 128.2h0M555.3 129.1h0M532.3 128.8h0M583.4 125.7h0M583.4 125.7h0M571.9 128.5h0M585.6 124.9h0M595.6 123.9h0M595.4 125.5h0M591.8 128.6h0M594.8 125.4h0M546.1 127.1h0M552.8 127.5h0M593.8 123.1h0M580.3 128.3h0M532.9 128.9h0M592.0 124.7h0M597.2 126.9h0M582.9 128.8h0M531.0 129.4h0M595.2 123.2h0M589.0 129.9h0M535.1 127.2h0M590.3 125.0h0M537.2 128.2h0M577.6 127.9h0M580.2 129.1h0M594.0 129.3h0M589.4 129.2h0M526.0 129.1h0M555.9 127.5h0M571.5 127.2h0M546.7 128.2h0M587.8 128.9h0M570.0 127.0h0M563.0 129.3h0M540.0 129.7h0M582.5 125.9h0M585.0 128.7h0M543.7 129.7h0M554.0 129.7h0M578.2 129.3h0M535.5 129.8h0M585.5 129.9h0M553.6 128.3h0M582.3 127.7h0M548.7 128.3h0M534.1 129.3h0M595.1 126.3h0M545.8 129.3h0M558.0 128.2h0M528.7 127.9h0M594.6 124.3h0M595.9 127.7h0M592.7 125.0h0M563.7 127.7h0M555.5 128.0h0M590.0 124.1h0M577.7 127.9h0M577.5 127.4h0M578.8 129.4h0M571.6 129.2h0M585.9 127.9h0M589.9 129.2h0M570.5 128.5h0M588.8 128.3h0M573.1 127.9h0M554.5 129.6h0M595.7 123.7h0M545.2 128.2h0M566.2 129.8h0M583.0 125.7h0M588.2 124.9h0M579.4 125.8h0M593.8 123.5h0M597.7 122.1h0M567.4 128.8h0M584.2 127.0h0M561.8 129.1h0M534.6 128.6h0M592.8 127.0h0M582.1 129.9h0M594.1 129.4h0M550.4 128.5h0M592.4 127.6h0M539.1 129.9h0M556.3 127.8h0M563.1 127.2h0M526.8 129.4h0M529.4 127.3h0M586.8 129.0h0M591.3 125.9h0M542.2 128.6h0M568.5 128.2h0M560.2 128.7h0M575.1 127.4h0M589.2 129.0h0M597.0 127.6h0M580.9 129.7h0M567.6 129.8h0M539.1 128.7h0M581.0 126.7h0M595.2 129.7h0M575.0 128.6h0M582.1 127.1h0M572.6 128.9h0M588.1 127.0h0M582.7 129.9h0M570.6 127.1h0M573.6 126.4h0M584.3 123.3h0M597.9 124.1h0M580.6 125.2h0M593.0 126.2h0M591.9 122.9h0M590.1 123.0h0M598.8 120.9h0M587.6 121.4h0M579.8 125.3h0M587.6 121.2h0M597.4 124.9h0M571.6 126.2h0M597.2 120.4h0M591.2 120.4h0M598.1 121.7h0M596.5 123.8h0M590.3 121.1h0M567.4 127.3h0M596.6 120.3h0M587.3 123.8h0M598.1 118.6h0M567.7 126.1h0M590.4 121.3h0M599.8 124.3h0M569.4 125.1h0M586.0 123.7h0M572.2 124.6h0M576.7 124.4h0M583.0 123.3h0M577.5 127.0h0M568.9 126.1h0M593.1 121.7h0M578.6 124.0h0M596.1 119.0h0M583.2 124.9h0M579.2 123.2h0M598.9 125.9h0M588.0 125.7h0M628.2 23.8h0M619.4 33.4h0M612.8 59.0h0M605.1 64.8h0M629.8 40.1h0M629.8 46.5h0M629.6 53.6h0M628.6 58.4h0M618.6 75.7h0M620.9 79.6h0M611.3 85.3h0M607.4 96.9h0M604.6 106.5h0M563.6 114.8h0M568.6 110.4h0M571.3 110.0h0M581.5 113.2h0M537.6 121.5h0M534.7 124.8h0M543.9 124.8h0M549.7 125.8h0" stroke="#1f77b4" stroke-width="2.4" stroke-linecap="round"/></g><g clip-path="url(#c04)"><path d="M747.4 130.0L772.8 130.0L772.8 91.1L768.6 89.2L760.9 91.1L753.2 95.0L747.4 100.7L743.6 110.4L741.7 121.9Z" fill="#1f77b4"/><path d="M768.5 109.5h0M766.6 125.3h0M771.5 120.9h0M769.5 108.2h0M754.5 122.0h0M762.2 99.0h0M769.0 125.8h0M771.2 95.7h0M769.7 95.3h0M765.7 106.7h0M771.8 116.1h0M771.0 128.9h0M771.7 118.3h0M771.7 101.9h0M768.9 93.4h0M769.9 94.9h0M762.7 97.8h0M764.1 91.6h0M758.8 98.8h0M756.6 101.4h0M758.0 93.6h0M756.6 102.5h0M750.9 100.8h0M764.4 111.7h0M746.1 110.0h0M749.7 102.3h0M751.6 109.1h0M749.9 103.1h0M743.9 117.7h0M748.4 118.2h0M744.9 112.6h0M743.6 115.5h0M742.7 121.8h0M748.0 127.8h0M751.7 120.9h0" stroke="#fff" stroke-width="1.5" stroke-linecap="round"/><path d="M666.3 127.4h0M666.5 113.5h0M666.2 121.4h0M666.0 114.9h0M666.7 128.1h0M674.0 123.1h0M662.3 122.1h0M662.2 123.6h0M663.1 123.2h0M665.9 121.6h0M666.6 125.9h0M672.9 127.0h0M668.4 120.5h0M663.7 125.4h0M661.6 115.9h0M669.1 118.7h0M661.4 129.2h0M669.2 123.9h0M663.7 123.3h0M665.3 125.9h0M667.0 122.1h0M674.9 129.5h0M662.8 116.1h0M665.1 119.2h0M665.0 115.8h0M667.2 115.3h0M663.4 123.1h0M668.2 123.3h0M662.4 120.1h0M668.0 124.0h0M663.4 119.9h0M668.8 129.5h0M671.6 116.4h0M664.0 118.0h0M669.9 120.2h0M665.6 124.6h0M663.0 114.9h0M668.3 121.4h0M664.3 116.1h0M666.5 114.4h0M673.9 124.3h0M664.0 114.3h0M667.9 119.1h0M666.4 123.0h0M661.5 117.1h0M671.4 125.2h0M665.7 117.9h0M668.8 113.7h0M674.2 123.5h0M664.7 116.5h0M698.3 128.0h0M698.5 127.9h0M734.4 128.4h0M718.2 127.8h0M695.1 128.8h0M740.2 127.2h0M718.9 129.4h0M709.8 128.5h0M706.4 129.5h0M691.0 128.7h0M744.4 127.9h0M732.7 128.8h0M742.3 129.9h0M702.8 127.8h0M690.3 129.0h0M746.4 129.6h0M734.0 127.9h0M723.8 128.6h0M726.4 128.0h0M735.9 128.6h0M723.0 128.3h0M691.1 129.4h0M722.8 128.8h0M738.0 129.0h0M687.1 127.8h0M706.4 129.2h0M696.4 128.0h0M725.3 128.7h0M696.5 128.9h0M726.6 128.2h0M701.5 129.1h0M726.8 128.7h0M690.8 127.6h0M728.5 129.9h0M718.1 128.9h0M708.4 128.2h0M745.8 129.0h0M682.7 129.1h0M715.4 127.4h0M731.9 127.8h0M744.0 127.2h0M711.4 128.1h0M735.4 128.3h0M707.1 130.0h0M729.3 128.7h0M694.6 128.3h0M739.8 127.6h0M742.9 129.7h0M727.3 128.1h0M740.5 127.9h0M735.3 129.2h0M744.7 127.1h0M686.7 129.1h0M685.6 129.7h0M698.8 127.8h0M733.8 127.3h0M686.6 128.4h0M690.5 128.4h0M745.5 127.9h0M719.3 127.5h0M741.5 128.9h0M691.9 129.2h0M697.5 129.4h0M703.6 128.2h0M715.8 128.5h0M737.1 127.3h0M737.7 129.8h0M713.3 128.1h0M717.9 128.5h0M707.1 128.7h0M739.5 127.3h0M736.0 129.2h0M701.6 128.9h0M689.5 128.5h0M738.5 127.4h0M726.4 129.8h0M691.5 129.0h0M715.2 129.2h0M704.2 128.2h0M685.0 127.7h0M731.6 127.3h0M706.7 128.0h0M738.0 128.0h0M720.0 129.3h0M734.4 129.1h0M723.6 128.7h0M709.8 129.5h0M729.4 128.3h0M727.2 127.5h0M715.4 130.0h0M717.4 128.1h0M721.3 127.9h0M699.0 128.1h0M703.5 128.6h0M723.0 129.8h0M737.6 127.7h0M696.0 129.7h0M687.2 128.7h0M721.4 129.7h0M720.2 127.3h0M727.9 129.4h0M743.0 128.3h0M736.4 129.9h0M744.8 127.7h0M699.2 129.7h0M687.2 129.1h0M743.9 129.0h0M700.6 127.9h0M700.5 129.0h0M686.8 129.3h0M683.8 129.2h0M690.4 129.6h0M710.8 129.2h0M719.4 129.6h0M691.7 127.7h0M693.2 128.9h0M726.0 127.3h0M725.3 127.4h0M716.3 128.2h0M733.3 128.8h0M699.0 129.7h0M722.3 128.9h0M720.9 129.4h0M734.6 128.5h0M731.4 127.5h0M690.8 128.7h0M700.3 127.6h0M696.7 129.3h0M718.3 127.7h0M707.7 127.6h0M695.6 128.6h0M740.4 129.3h0M709.7 128.6h0M699.6 128.6h0M685.3 128.1h0M683.9 129.4h0M737.1 128.9h0M711.6 129.4h0M698.5 129.7h0M732.8 127.7h0M683.6 129.6h0M728.7 128.4h0M707.5 129.5h0M684.3 128.7h0M736.9 127.4h0M703.1 130.0h0M696.2 129.4h0M682.0 128.4h0M698.8 129.0h0M729.7 128.3h0M772.9 107.6h0M773.2 125.1h0M773.3 108.8h0M772.6 102.5h0M772.4 97.4h0M772.8 93.6h0M772.8 117.3h0M772.8 112.9h0M772.5 124.5h0M773.4 91.9h0M772.5 126.2h0M772.8 127.9h0M773.2 103.5h0M773.0 92.4h0M772.8 91.5h0M772.9 108.0h0M772.9 97.7h0M772.9 117.9h0M773.1 119.6h0M773.1 112.0h0M773.0 102.1h0M773.0 108.8h0M773.2 113.7h0M773.4 111.4h0M773.2 93.8h0M772.3 126.7h0M773.0 109.9h0M772.5 123.5h0M773.4 91.7h0M772.6 121.8h0M772.8 106.7h0M773.3 107.3h0M773.0 99.8h0M773.4 91.9h0M772.7 117.9h0M773.4 118.9h0M773.1 92.5h0M773.2 121.4h0M772.8 91.2h0M773.1 120.8h0M772.3 118.1h0M773.4 121.2h0M773.1 97.2h0M772.7 121.2h0M772.8 93.2h0M773.1 119.9h0M773.3 128.6h0M773.1 100.5h0M772.4 122.6h0M772.8 105.6h0M772.9 106.7h0M771.3 88.7h0M768.9 89.4h0M773.2 82.1h0M769.6 87.9h0M770.2 86.7h0M772.5 91.5h0M766.1 88.7h0M761.2 89.6h0M764.9 89.8h0M760.8 87.1h0M764.4 90.6h0M768.6 89.4h0M762.7 90.7h0M766.2 89.9h0M768.7 89.8h0M766.3 90.0h0M758.6 87.8h0M755.5 87.6h0M752.4 92.7h0M755.3 91.7h0M755.8 87.0h0M754.4 94.7h0M757.6 89.0h0M753.8 93.6h0M754.3 94.9h0M755.3 94.1h0M760.9 91.4h0M749.2 98.2h0M744.3 93.6h0M747.2 97.8h0M747.5 100.2h0M748.4 99.4h0M745.6 98.5h0M745.8 99.0h0M749.7 99.3h0M747.3 97.4h0M749.0 98.5h0M752.0 95.0h0M745.7 104.3h0M745.9 105.2h0M745.6 105.5h0M740.9 109.3h0M745.2 102.7h0M739.8 103.3h0M745.4 106.6h0M737.2 101.2h0M747.2 102.1h0M742.9 107.1h0M739.4 106.5h0M744.8 108.8h0M747.7 101.2h0M742.8 114.9h0M741.5 121.3h0M740.0 115.5h0M741.8 119.9h0M742.7 119.0h0M736.2 118.0h0M736.3 118.8h0M741.4 116.6h0M736.9 115.9h0M741.8 113.8h0M739.7 115.4h0M742.4 110.5h0M742.4 120.9h0M742.2 116.6h0M741.5 114.2h0M743.8 128.8h0M744.5 128.5h0M742.8 124.8h0M742.0 127.0h0M742.2 124.6h0M742.4 122.0h0M745.1 126.2h0M746.8 128.7h0M740.7 122.6h0M742.6 122.5h0M744.0 128.5h0M747.9 129.6h0M742.1 126.4h0M746.3 98.0h0M744.8 126.3h0M745.6 129.3h0M744.7 84.2h0M748.8 80.4h0M744.7 93.9h0M742.6 98.5h0M765.8 83.5h0M752.8 89.9h0M758.3 91.3h0M760.8 88.3h0M745.6 128.2h0M758.2 71.0h0M757.2 92.5h0M738.6 103.5h0M739.9 129.0h0M763.1 61.1h0M743.4 81.1h0M753.6 88.2h0M748.4 88.4h0M742.3 110.8h0M759.8 85.5h0M745.3 90.1h0M746.3 95.6h0M772.5 90.2h0M750.7 92.9h0M753.7 94.3h0M764.4 81.9h0M771.2 86.2h0M747.3 98.7h0M738.9 117.5h0M752.7 89.8h0M756.6 92.7h0M736.9 120.5h0M740.9 100.8h0M739.3 128.6h0M738.7 106.9h0M746.1 129.9h0M761.8 79.1h0M741.3 121.9h0M743.7 82.1h0M771.8 86.1h0M770.1 81.2h0M759.8 89.6h0M744.1 129.6h0M745.8 101.6h0M749.2 96.1h0M740.7 93.0h0M758.6 89.7h0M765.4 84.5h0M739.5 100.9h0M765.3 75.8h0M745.5 104.9h0M742.6 125.3h0M739.2 103.0h0M763.5 89.9h0M768.7 83.9h0M768.5 86.3h0M769.0 89.3h0M770.0 85.1h0M763.5 82.5h0M772.4 87.8h0M757.1 76.3h0M750.5 97.1h0M742.6 103.7h0M753.0 86.2h0M740.8 112.2h0M757.2 77.9h0M759.0 91.3h0M739.4 117.4h0M747.8 85.0h0M765.5 84.6h0M755.6 77.5h0M766.5 70.7h0M747.5 100.6h0M766.0 65.1h0M759.4 81.3h0M748.1 86.5h0M745.6 95.7h0M744.6 106.4h0M765.9 87.0h0M747.0 89.5h0M739.0 111.0h0M762.5 88.3h0M738.7 119.3h0M748.0 97.7h0M738.4 127.8h0M760.3 84.8h0M747.9 97.3h0M742.0 123.2h0M745.7 96.9h0M750.1 92.0h0M769.5 81.6h0M743.1 101.4h0M738.8 114.7h0M752.8 93.1h0M746.5 101.8h0M761.3 90.3h0M742.7 114.8h0M738.0 106.3h0M756.7 89.0h0M742.0 118.1h0M741.4 126.6h0M745.7 101.8h0M762.4 85.3h0M744.8 127.3h0M748.5 98.1h0M764.1 89.6h0M757.4 90.8h0M744.4 104.9h0M751.8 94.5h0M748.8 86.2h0M754.4 84.5h0M741.0 126.4h0M765.9 77.5h0M757.7 89.4h0M742.1 111.1h0M750.6 87.2h0M741.2 88.3h0M761.9 79.1h0M770.8 88.9h0M742.4 123.3h0M749.1 90.4h0M771.7 76.1h0M754.9 89.3h0M737.6 121.2h0M742.6 124.4h0M741.5 91.9h0M749.8 92.5h0M751.5 93.3h0M744.8 127.9h0M746.0 100.9h0M769.9 85.7h0M763.8 62.4h0M739.5 110.2h0M758.7 86.1h0M771.0 89.1h0M745.7 87.2h0M737.3 124.1h0M741.5 123.2h0M741.8 107.4h0M744.6 96.4h0M736.7 114.0h0M749.1 98.1h0M747.1 94.6h0M741.8 110.7h0M771.6 83.3h0M746.2 84.5h0M756.2 78.1h0M740.4 125.3h0M743.3 126.6h0M755.2 87.2h0M743.9 126.1h0M747.7 98.6h0M741.9 123.7h0M740.9 100.9h0M749.8 87.3h0M753.0 90.1h0M739.1 123.3h0M741.5 119.0h0M741.2 113.7h0M744.5 99.1h0M749.6 69.8h0M768.9 86.0h0M738.1 122.9h0M743.8 95.1h0M742.1 115.2h0M751.7 92.3h0M743.6 94.8h0M742.5 129.9h0M756.2 92.0h0M746.2 99.3h0M738.1 128.7h0M739.9 105.7h0M747.1 100.4h0M764.9 88.6h0M739.8 89.3h0M739.5 118.7h0M757.5 92.5h0M766.7 71.6h0M771.5 81.9h0M757.3 92.8h0M771.9 63.6h0M747.9 96.7h0M741.5 124.6h0M754.7 80.1h0M745.7 129.4h0M738.1 98.7h0M742.3 111.1h0M740.9 116.8h0M761.7 78.7h0M757.5 91.5h0M758.6 87.8h0M739.1 108.3h0M772.5 85.6h0M738.8 87.8h0M741.2 92.7h0M760.7 85.4h0M746.2 129.1h0M752.3 90.2h0M697.1 122.2h0M719.0 118.9h0M721.1 129.3h0M716.9 113.1h0M728.9 107.6h0M715.0 109.2h0M702.4 125.8h0M724.7 116.8h0M732.8 110.6h0M723.1 116.9h0M723.0 114.2h0M729.8 105.0h0M697.3 118.4h0M697.0 126.5h0M715.1 117.0h0M731.8 127.1h0M734.1 123.7h0M740.2 125.6h0M706.0 114.0h0M721.0 127.3h0M715.4 122.5h0M734.5 123.4h0M723.6 115.9h0M716.6 118.7h0M707.4 113.1h0M723.2 118.3h0M712.6 109.8h0M713.9 112.1h0M700.2 119.6h0M713.8 127.7h0M722.2 117.8h0M710.7 119.5h0M733.8 126.3h0M740.8 109.6h0M713.3 115.4h0M712.3 115.0h0M736.1 128.1h0M717.6 118.6h0M734.3 125.0h0M724.7 127.9h0M712.2 118.7h0M738.9 107.4h0M734.5 122.4h0M697.4 123.7h0M729.0 110.3h0M711.1 122.0h0M726.1 117.8h0M739.4 116.9h0M723.2 116.3h0M707.6 111.2h0M738.7 118.4h0M733.2 106.9h0M704.4 127.0h0M728.7 125.4h0M715.0 128.3h0M711.9 124.1h0M715.7 122.5h0M725.0 115.1h0M723.4 119.7h0M720.3 122.0h0M714.0 111.2h0M733.6 104.3h0M729.9 126.1h0M713.1 128.6h0M712.9 110.6h0M698.4 122.3h0M736.9 110.1h0M706.4 127.4h0M711.1 112.8h0M737.2 113.7h0M735.6 122.3h0M728.9 107.5h0M741.1 101.9h0M706.4 113.7h0M741.1 114.0h0M695.9 125.6h0M726.7 127.6h0M703.2 126.9h0M734.8 105.9h0M696.2 126.1h0M723.2 123.3h0M718.6 118.0h0M697.3 117.8h0M703.7 118.9h0M736.2 127.4h0M708.7 127.4h0M741.2 124.3h0M720.3 114.3h0M714.7 128.3h0M741.5 112.0h0M738.2 121.4h0M732.9 113.0h0M699.9 123.7h0M727.0 124.4h0M735.4 119.9h0M705.6 125.9h0M712.2 127.8h0M739.5 126.8h0M716.9 123.7h0M737.9 118.6h0M718.0 125.1h0M727.3 116.1h0M708.4 112.9h0M740.3 113.4h0M727.8 122.3h0M710.8 119.5h0M703.3 129.2h0M697.5 118.6h0M713.8 110.5h0M701.4 117.3h0M723.7 119.6h0M701.3 128.7h0M732.9 123.8h0M715.8 117.8h0M716.0 118.4h0M703.4 128.9h0M735.6 129.1h0M729.9 125.2h0M704.0 125.2h0M725.7 116.7h0M739.7 114.2h0M741.5 126.2h0M695.9 123.5h0M730.8 112.8h0M732.9 129.3h0M728.9 115.1h0M724.9 110.7h0M701.1 129.4h0M730.4 125.0h0M703.2 115.0h0M729.3 126.8h0M740.2 110.6h0M706.0 118.8h0M711.7 115.6h0M726.2 128.8h0M729.9 113.6h0M711.9 123.6h0M740.1 120.4h0M709.6 125.0h0M730.2 123.3h0M699.9 122.0h0M731.2 129.4h0M705.5 118.7h0M740.2 122.1h0M706.3 126.7h0M730.2 112.9h0M726.8 129.5h0M710.1 121.6h0M732.6 119.0h0M696.7 122.0h0M736.1 59.3h0M759.0 31.4h0M766.6 55.2h0M759.6 28.1h0M759.4 42.4h0M750.4 59.1h0M756.0 57.6h0M744.6 58.1h0M771.8 59.3h0M769.0 51.9h0M752.5 35.3h0M746.3 51.4h0M744.9 78.1h0M769.6 84.0h0M761.2 72.4h0M755.7 65.8h0M754.6 84.2h0M751.8 77.4h0M762.4 81.4h0M765.2 89.0h0M771.7 66.8h0M748.7 82.9h0M765.3 62.6h0M750.8 78.1h0M771.0 82.5h0M754.7 66.9h0M758.0 88.4h0M758.8 64.4h0M764.7 80.7h0M746.3 75.4h0M749.1 71.4h0M768.4 64.7h0M760.3 72.5h0M745.1 83.4h0M769.2 68.4h0M753.3 75.5h0M755.2 61.1h0M753.6 83.1h0M761.9 89.1h0M763.2 71.0h0M757.7 68.1h0M749.4 71.6h0M770.9 70.8h0M746.5 78.8h0M744.3 78.0h0M747.3 87.8h0M755.2 79.4h0M761.2 75.6h0M754.0 83.4h0M765.4 87.1h0M762.0 67.6h0M748.2 69.7h0M745.6 90.3h0M772.6 75.2h0M755.7 86.5h0M769.8 81.3h0M754.6 76.5h0M752.1 74.3h0M756.2 80.6h0M749.3 83.5h0M765.2 57.6h0M770.8 70.6h0M750.4 72.4h0M762.3 62.3h0M747.3 81.7h0M749.4 79.9h0M770.9 60.9h0M758.1 77.4h0M756.6 70.5h0M771.8 65.6h0M763.6 60.7h0M762.5 64.2h0M665.3 106.1h0M670.9 111.7h0M683.0 106.1h0M680.5 116.5h0M688.7 113.2h0M695.9 111.3h0M699.7 110.7h0M709.9 93.0h0M715.7 92.1h0M729.7 94.0h0M733.0 58.4h0M742.6 65.1h0M755.1 23.8h0M765.3 23.8h0M752.2 31.9h0M757.1 32.4h0M757.1 38.8h0M766.7 42.6h0M763.8 46.9h0M766.3 53.0h0M748.4 44.0h0M755.1 47.8h0" stroke="#1f77b4" stroke-width="2.4" stroke-linecap="round"/></g><g clip-path="url(#c10)"><path d="M175.8 276.0L211.4 276.0L211.4 229.4L208.5 227.5L202.8 229.4L197.9 235.2L196.0 244.8L193.1 256.4L187.4 264.1L181.6 267.9Z" fill="#1f77b4"/><path d="M210.0 257.6h0M209.5 235.4h0M201.2 253.6h0M206.2 268.4h0M210.7 244.8h0M209.2 232.4h0M197.8 237.7h0M208.5 273.4h0M207.6 241.8h0M208.7 254.7h0M197.7 259.8h0M207.5 254.4h0M209.0 254.6h0M209.3 271.3h0M204.4 267.1h0M203.6 243.2h0M208.6 229.1h0M208.5 228.8h0M206.4 233.4h0M205.2 232.1h0M200.2 235.9h0M202.9 233.3h0M204.7 243.2h0M197.2 244.8h0M206.8 246.4h0M197.6 253.0h0M201.9 247.6h0M198.9 246.9h0M195.9 248.3h0M193.2 257.5h0M189.3 263.4h0M203.1 268.1h0M193.9 258.5h0M185.2 271.1h0M179.0 274.1h0M178.5 273.7h0" stroke="#fff" stroke-width="1.5" stroke-linecap="round"/><path d="M211.9 267.8h0M211.2 229.7h0M211.8 256.8h0M211.0 255.5h0M211.8 257.1h0M211.1 253.5h0M212.0 245.0h0M211.5 250.2h0M211.5 238.6h0M211.1 235.8h0M211.0 261.1h0M211.7 264.5h0M211.4 232.7h0M212.0 231.4h0M212.0 245.0h0M211.8 239.2h0M211.6 260.2h0M211.8 253.9h0M211.9 274.4h0M212.0 266.4h0M212.0 230.2h0M212.0 239.7h0M211.8 244.8h0M211.0 271.2h0M211.7 249.9h0M211.3 269.6h0M211.1 243.5h0M212.0 231.7h0M211.8 249.9h0M211.6 242.2h0M211.6 236.8h0M210.8 250.5h0M211.7 272.3h0M211.9 240.1h0M210.9 249.5h0M210.8 263.5h0M211.8 247.0h0M211.3 270.3h0M211.5 252.0h0M211.2 256.2h0M211.1 232.4h0M211.6 241.6h0M211.4 235.1h0M211.9 242.7h0M211.4 265.1h0M210.9 250.1h0M211.9 239.0h0M211.0 254.4h0M211.0 267.9h0M211.3 246.5h0M211.0 231.9h0M212.0 271.0h0M211.9 245.6h0M211.8 275.2h0M211.5 247.8h0M211.1 247.0h0M211.3 241.6h0M211.9 239.8h0M211.9 240.2h0M211.5 253.1h0M211.6 227.2h0M210.7 226.8h0M211.3 229.3h0M209.8 226.4h0M209.9 227.8h0M204.0 227.7h0M202.8 229.5h0M206.6 226.0h0M204.7 220.0h0M206.9 226.4h0M206.3 224.3h0M205.4 227.8h0M208.3 228.1h0M200.8 229.2h0M199.6 232.5h0M201.6 231.0h0M195.7 226.8h0M196.3 228.4h0M202.2 230.6h0M193.7 225.0h0M196.5 231.7h0M198.2 234.3h0M195.5 244.7h0M197.8 237.7h0M197.1 237.7h0M196.9 239.0h0M196.6 244.2h0M194.9 241.7h0M196.5 236.2h0M192.4 241.6h0M196.7 243.5h0M197.1 240.5h0M197.8 238.3h0M195.5 236.4h0M196.1 243.6h0M194.5 249.5h0M194.8 250.8h0M192.5 247.8h0M187.0 247.3h0M193.7 252.3h0M188.1 249.4h0M192.1 246.5h0M194.0 250.9h0M188.4 252.2h0M193.6 244.7h0M192.2 252.9h0M193.6 255.2h0M192.4 248.2h0M190.4 255.6h0M192.8 246.1h0M193.0 254.8h0M192.5 257.3h0M191.3 257.6h0M187.2 260.8h0M189.4 255.3h0M189.7 259.1h0M187.4 259.0h0M191.5 259.0h0M189.9 259.8h0M188.9 259.3h0M190.5 258.5h0M190.3 255.7h0M187.3 259.5h0M182.4 267.6h0M186.0 264.2h0M182.8 267.3h0M186.8 264.5h0M181.2 267.2h0M184.1 262.0h0M187.3 264.8h0M184.8 266.2h0M186.5 264.4h0M179.3 271.9h0M175.6 273.8h0M176.1 276.1h0M171.8 270.9h0M180.7 269.9h0M175.3 272.1h0M173.5 271.3h0M178.4 272.3h0M178.3 272.2h0M178.7 272.7h0M180.2 266.9h0M174.1 270.6h0M174.1 271.5h0M210.9 224.4h0M180.4 265.4h0M197.8 231.0h0M198.7 231.5h0M196.3 240.9h0M194.0 238.2h0M178.0 272.3h0M191.4 250.7h0M200.7 231.8h0M177.7 273.2h0M180.7 260.2h0M196.4 236.8h0M206.0 226.5h0M176.5 274.0h0M177.0 265.0h0M186.5 263.6h0M196.5 236.6h0M208.4 225.5h0M174.8 274.5h0M197.7 231.8h0M200.8 228.1h0M173.4 275.5h0M192.1 255.4h0M176.4 265.5h0M174.2 268.4h0M177.0 264.7h0M193.0 246.1h0M205.0 225.7h0M194.3 250.9h0M205.1 226.4h0M195.2 234.2h0M196.3 233.8h0M192.6 256.4h0M178.6 264.5h0M197.7 227.1h0M181.4 266.8h0M206.6 227.8h0M192.1 252.6h0M197.1 238.4h0M182.5 261.8h0M206.6 222.5h0M194.7 234.8h0M177.8 268.1h0M194.7 242.4h0M201.7 229.9h0M170.3 268.0h0M203.4 228.3h0M198.4 227.9h0M202.0 222.9h0M200.6 230.8h0M208.0 223.7h0M174.8 273.5h0M194.3 248.3h0M180.5 266.3h0M208.7 227.5h0M193.8 248.3h0M197.3 237.9h0M191.4 256.3h0M172.1 272.2h0M207.6 227.4h0M190.1 255.3h0M169.4 275.1h0M183.5 262.3h0M197.1 237.6h0M197.6 227.1h0M184.6 258.0h0M203.8 227.3h0M192.7 255.2h0M184.0 262.7h0M190.4 250.7h0M196.9 239.8h0M171.5 267.0h0M191.3 246.3h0M184.9 265.1h0M204.1 226.8h0M193.3 249.5h0M194.4 239.6h0M194.9 245.2h0M189.1 254.0h0M179.5 264.3h0M190.3 252.9h0M194.3 247.5h0M194.9 242.2h0M176.5 273.6h0M189.7 255.8h0M175.1 275.5h0M188.1 252.7h0M183.8 266.2h0M188.6 258.8h0M180.9 262.9h0M185.0 260.3h0M197.5 227.7h0M179.9 268.6h0M197.6 227.9h0M199.3 232.6h0M184.4 262.7h0M177.0 268.0h0M203.5 222.8h0M198.7 230.2h0M194.8 246.9h0M188.3 258.3h0M176.8 266.9h0M204.9 224.4h0M181.4 264.0h0M195.8 236.6h0M187.1 256.3h0M189.6 259.2h0M178.4 269.1h0M178.7 266.1h0M178.0 262.7h0M190.5 259.8h0M189.2 253.5h0M195.6 237.1h0M185.7 260.4h0M175.6 272.7h0M172.7 269.1h0M192.4 244.9h0M174.4 272.1h0M201.0 228.8h0M188.6 259.7h0M203.8 224.3h0M205.5 227.5h0M208.5 197.3h0M202.5 224.6h0M200.1 190.6h0M200.7 194.0h0M207.5 223.5h0M205.7 221.6h0M202.6 212.9h0M205.5 216.2h0M210.3 217.1h0M207.7 211.5h0M209.0 208.7h0M211.0 228.0h0M200.5 198.7h0M202.9 221.0h0M202.5 201.7h0M206.9 205.2h0M204.6 208.9h0M203.2 189.2h0M200.6 182.2h0M197.5 218.0h0M209.4 217.3h0M196.2 209.6h0M203.6 223.0h0M196.0 206.7h0M197.2 212.0h0M197.1 216.0h0M203.7 196.1h0M203.5 217.6h0M204.0 201.6h0M204.7 213.5h0M211.4 217.1h0M199.6 229.0h0M210.7 206.9h0M204.9 203.5h0M208.8 223.6h0M200.3 216.0h0M209.6 215.8h0M204.5 207.5h0M203.6 185.0h0M204.0 213.7h0M208.4 221.6h0M203.2 210.6h0M206.3 191.0h0M206.7 198.7h0M198.7 188.5h0M206.7 215.9h0M203.3 225.3h0M199.6 183.4h0M204.6 227.7h0M204.0 180.1h0M204.9 202.4h0M201.4 218.9h0M210.2 201.5h0M211.0 214.0h0M206.6 225.5h0M197.4 215.7h0M206.7 210.8h0M198.9 186.9h0M205.7 205.5h0M205.4 191.9h0M197.7 198.3h0M202.5 203.6h0M200.8 201.4h0M203.5 213.2h0M195.6 215.5h0M209.1 203.4h0M202.6 189.5h0M209.4 204.4h0M211.0 212.5h0M207.4 195.3h0M208.9 216.2h0M200.0 192.4h0M205.5 187.0h0M198.7 194.0h0M200.2 197.9h0M210.5 217.8h0M207.6 226.1h0M203.1 204.8h0M207.5 189.8h0M200.5 189.7h0M209.4 192.8h0M209.2 215.5h0M206.9 196.9h0M197.1 216.5h0M201.5 220.0h0M197.9 196.2h0M204.9 204.8h0M205.6 217.2h0M208.6 176.7h0M207.9 176.3h0M208.8 174.5h0M207.1 170.4h0M201.6 179.7h0M209.6 182.2h0M208.6 179.5h0M205.3 176.0h0M208.7 169.9h0M204.8 183.1h0M202.3 178.6h0M203.3 176.1h0M173.8 274.1h0M154.1 266.9h0M156.9 269.9h0M152.5 272.0h0M162.1 260.3h0M158.6 262.0h0M165.3 274.2h0M148.8 270.9h0M149.7 266.4h0M148.0 274.3h0M174.2 263.1h0M160.9 255.8h0M157.0 257.8h0M174.5 262.6h0M174.1 260.0h0M157.1 260.6h0M153.4 264.3h0M155.0 273.0h0M155.7 263.8h0M157.5 269.4h0M167.1 267.0h0M153.8 262.6h0M159.2 270.7h0M175.1 268.0h0M172.3 263.3h0M175.3 270.4h0M168.8 272.3h0M178.3 269.5h0M169.1 271.9h0M171.8 274.2h0M176.2 271.0h0M171.4 270.1h0M178.8 270.9h0M174.3 275.2h0M171.1 271.8h0M176.2 274.8h0M171.2 271.8h0M175.7 273.1h0M173.7 271.9h0M169.8 274.9h0M169.0 273.7h0M172.2 270.7h0M174.4 272.9h0M168.7 272.5h0M172.7 275.1h0M177.3 272.3h0M173.3 275.1h0M169.2 270.7h0M177.5 268.9h0M170.1 274.1h0M170.0 274.7h0M170.8 270.5h0M169.6 274.9h0M176.9 271.4h0M170.9 270.6h0M170.8 272.5h0M172.3 274.6h0M173.6 272.9h0M176.6 273.8h0M169.4 271.9h0M175.4 271.3h0M175.2 271.1h0M177.7 269.7h0M179.5 270.7h0M173.1 269.4h0M116.2 269.8h0M121.9 269.4h0M121.9 274.1h0M132.5 261.2h0M132.9 263.1h0M129.6 272.7h0M134.4 270.8h0M136.4 271.8h0M138.3 269.8h0M141.2 272.7h0M139.3 265.0h0M147.9 263.1h0M153.7 258.3h0M157.5 261.2h0M162.9 251.7h0M168.7 259.2h0M173.9 248.7h0M179.1 218.8h0M185.4 216.3h0M189.3 219.8h0M190.8 208.6h0M195.1 207.9h0M193.1 231.3h0M188.3 231.3h0M205.6 170.7h0M208.5 169.8h0M209.9 176.5h0M200.4 181.3h0M202.8 183.2h0" stroke="#1f77b4" stroke-width="2.4" stroke-linecap="round"/></g><g clip-path="url(#c11)"><path d="M316.8 276.0L349.5 276.0L349.5 239.0L343.8 237.1L338.0 239.0L332.2 242.9L326.4 248.7L322.6 256.4L318.7 264.1L313.0 269.8Z" fill="#1f77b4"/><path d="M346.5 264.9h0M348.4 260.4h0M347.9 267.7h0M340.2 241.6h0M338.7 266.0h0M344.6 251.7h0M346.7 250.6h0M344.5 267.9h0M342.9 268.8h0M347.0 246.6h0M348.5 245.3h0M345.4 243.0h0M348.8 267.7h0M346.5 239.2h0M343.2 241.8h0M345.1 243.5h0M341.1 241.0h0M344.8 242.0h0M338.0 247.3h0M335.6 245.6h0M332.9 244.1h0M328.3 248.4h0M334.1 256.1h0M331.9 257.3h0M327.0 256.5h0M329.0 265.6h0M327.6 259.5h0M324.4 257.3h0M321.0 268.1h0M322.5 273.7h0M324.3 270.1h0M320.8 270.6h0M317.3 268.7h0M315.5 272.1h0" stroke="#fff" stroke-width="1.5" stroke-linecap="round"/><path d="M350.1 243.3h0M349.6 264.6h0M350.1 254.8h0M349.3 261.0h0M349.4 275.3h0M349.3 243.7h0M349.1 275.1h0M349.9 240.9h0M349.7 241.0h0M349.4 252.3h0M350.0 265.5h0M349.1 265.1h0M350.0 252.4h0M349.6 239.8h0M349.3 250.0h0M349.8 259.5h0M349.5 240.5h0M349.4 256.2h0M349.3 243.4h0M349.6 244.3h0M349.4 271.9h0M349.7 258.4h0M349.2 241.2h0M349.3 257.5h0M349.1 264.6h0M349.9 261.2h0M349.4 275.0h0M349.9 259.3h0M349.3 257.0h0M349.7 269.0h0M349.0 262.2h0M349.9 244.4h0M350.0 271.9h0M349.0 245.0h0M350.0 247.4h0M349.7 248.4h0M349.5 251.0h0M348.9 258.3h0M350.0 251.9h0M349.2 275.1h0M349.4 252.9h0M349.2 251.3h0M349.4 241.1h0M349.2 248.7h0M349.7 250.0h0M349.9 240.7h0M349.5 270.4h0M349.7 261.4h0M346.3 238.5h0M346.6 235.7h0M349.7 235.1h0M346.0 237.4h0M349.5 235.6h0M347.6 235.7h0M345.1 238.0h0M349.9 235.5h0M339.3 237.2h0M343.7 237.2h0M343.8 237.2h0M340.1 238.3h0M339.8 238.7h0M341.9 235.1h0M340.5 235.0h0M338.8 235.2h0M334.8 237.0h0M333.5 238.2h0M332.6 243.4h0M333.8 242.4h0M329.2 235.2h0M334.6 241.6h0M336.2 240.9h0M333.1 242.3h0M332.2 242.4h0M324.7 246.7h0M324.0 236.5h0M329.1 244.6h0M326.7 246.4h0M331.9 242.8h0M330.4 243.9h0M328.3 246.9h0M331.7 243.7h0M330.5 245.0h0M325.0 247.2h0M323.7 251.3h0M324.0 247.7h0M322.6 255.7h0M324.6 251.4h0M324.5 248.6h0M324.1 254.5h0M325.6 250.8h0M322.3 255.5h0M323.0 254.9h0M321.7 255.2h0M323.9 249.9h0M319.7 259.1h0M320.7 260.5h0M320.2 258.5h0M318.1 257.1h0M312.5 251.5h0M318.4 258.5h0M322.2 257.1h0M319.4 258.9h0M314.3 259.8h0M321.4 256.7h0M315.6 260.9h0M319.1 264.4h0M315.6 263.7h0M312.3 266.1h0M314.9 264.1h0M318.0 265.3h0M317.6 264.7h0M316.2 265.3h0M315.8 266.1h0M318.1 265.2h0M318.7 264.0h0M311.6 267.8h0M312.8 273.2h0M315.8 276.5h0M308.3 277.9h0M316.4 275.5h0M309.4 278.4h0M316.6 274.9h0M312.3 270.3h0M316.3 275.2h0M312.7 273.9h0M315.2 274.5h0M310.6 259.9h0M343.8 236.1h0M321.8 256.9h0M342.0 234.4h0M334.6 233.8h0M308.5 264.0h0M316.0 255.9h0M343.1 232.7h0M311.7 275.3h0M315.3 267.1h0M337.9 223.5h0M329.3 234.7h0M331.4 240.6h0M310.5 270.0h0M337.7 236.3h0M305.6 269.2h0M343.4 236.2h0M345.6 226.0h0M314.3 275.0h0M316.8 264.0h0M339.1 234.7h0M317.7 262.4h0M324.4 248.3h0M315.2 253.9h0M307.7 274.2h0M342.8 230.9h0M349.0 230.4h0M301.2 270.4h0M319.2 255.6h0M312.7 270.1h0M312.2 270.7h0M343.8 226.8h0M338.2 230.1h0M349.0 228.0h0M305.5 266.2h0M313.4 257.8h0M316.0 265.2h0M313.9 266.9h0M329.9 241.7h0M342.6 221.3h0M318.1 262.0h0M320.9 257.4h0M340.1 237.4h0M326.4 235.4h0M332.5 227.5h0M322.2 244.4h0M342.1 236.3h0M315.1 258.3h0M306.8 274.0h0M315.5 262.4h0M337.5 234.9h0M328.3 240.8h0M319.4 255.2h0M331.5 243.5h0M323.4 254.4h0M348.0 224.8h0M338.0 227.6h0M344.7 237.2h0M332.0 240.3h0M305.4 274.8h0M319.5 259.2h0M304.5 273.7h0M344.1 225.1h0M311.1 259.5h0M343.0 230.7h0M348.7 224.1h0M327.6 240.5h0M313.1 261.2h0M319.5 259.0h0M313.2 257.4h0M322.2 253.2h0M333.6 234.6h0M326.9 240.0h0M343.2 236.5h0M326.3 247.6h0M314.0 271.5h0M322.5 248.3h0M330.3 241.2h0M302.1 271.7h0M347.2 233.4h0M314.0 266.2h0M345.4 230.0h0M336.6 224.6h0M320.3 256.2h0M329.4 245.2h0M313.8 274.3h0M344.5 233.0h0M321.7 247.1h0M341.1 237.4h0M333.5 238.6h0M331.5 239.6h0M331.2 232.7h0M329.3 244.6h0M338.1 238.8h0M315.2 255.7h0M310.5 270.1h0M313.8 258.9h0M314.8 266.2h0M309.2 266.8h0M324.3 249.8h0M347.1 233.4h0M329.1 243.5h0M338.6 237.5h0M314.5 256.4h0M320.5 247.1h0M327.4 243.3h0M321.6 254.9h0M325.6 246.2h0M340.4 231.1h0M326.2 244.7h0M313.1 260.2h0M321.2 254.8h0M324.1 252.0h0M326.9 240.5h0M308.4 263.5h0M313.0 265.8h0M312.4 264.0h0M315.4 275.1h0M325.0 245.4h0M318.7 255.8h0M316.3 257.0h0M340.0 224.5h0M322.2 255.7h0M332.1 238.4h0M320.8 248.8h0M342.7 236.8h0M311.7 270.2h0M327.1 242.2h0M303.2 266.7h0M315.5 263.2h0M340.0 212.9h0M345.1 210.8h0M340.3 219.1h0M336.2 220.4h0M346.0 212.3h0M338.2 237.6h0M333.0 227.4h0M347.6 203.0h0M344.8 212.2h0M336.7 218.7h0M344.5 215.5h0M346.9 203.5h0M336.3 236.4h0M346.3 222.9h0M343.6 208.7h0M345.1 197.5h0M339.2 234.2h0M342.8 207.1h0M345.5 223.5h0M340.6 219.9h0M348.8 219.2h0M347.8 198.3h0M335.6 211.8h0M339.8 231.7h0M349.4 199.2h0M336.0 225.1h0M341.2 218.7h0M349.2 200.1h0M332.5 229.0h0M337.5 219.5h0M346.6 226.0h0M333.4 238.8h0M337.4 230.8h0M330.4 227.2h0M339.9 238.3h0M337.8 233.2h0M333.4 218.1h0M340.5 232.4h0M347.5 222.7h0M343.3 215.3h0M335.6 215.2h0M347.7 223.7h0M344.2 218.5h0M335.8 239.3h0M338.4 207.1h0M340.7 225.7h0M338.8 203.2h0M340.7 226.7h0M338.9 228.1h0M343.9 227.4h0M335.3 233.3h0M339.0 217.4h0M336.8 213.0h0M348.6 228.1h0M344.2 211.2h0M283.3 272.2h0M296.4 272.2h0M276.7 274.9h0M299.4 275.9h0M294.0 273.1h0M294.6 268.5h0M288.4 268.6h0M295.1 269.2h0M283.7 275.1h0M286.9 274.1h0M297.5 267.1h0M300.3 270.3h0M287.3 271.0h0M296.5 273.5h0M287.3 275.7h0M297.6 275.3h0M286.6 270.3h0M296.1 269.8h0M290.9 270.8h0M301.0 271.5h0M289.7 273.8h0M289.6 274.0h0M307.6 266.6h0M317.0 262.0h0M314.7 267.1h0M311.6 263.7h0M304.3 271.2h0M310.0 264.6h0M314.0 264.9h0M308.4 269.7h0M309.8 271.8h0M317.0 263.7h0M309.5 263.0h0M305.7 271.9h0M311.1 266.2h0M300.4 273.7h0M308.6 267.9h0M310.4 268.7h0M311.6 273.7h0M304.2 274.2h0M301.5 274.6h0M310.2 264.4h0M313.2 267.4h0M306.7 273.0h0M313.1 268.1h0M303.0 268.2h0M307.2 270.8h0M303.3 268.4h0M302.8 271.2h0M305.6 274.5h0M306.2 269.5h0M309.0 265.1h0M255.2 271.8h0M274.9 271.8h0M277.9 273.3h0M278.7 267.9h0M283.1 270.2h0M286.4 272.7h0M291.8 269.4h0M295.6 268.9h0M300.1 257.9h0M302.4 236.2h0M311.0 249.4h0M317.2 232.3h0M319.7 226.5h0M320.1 246.7h0M322.0 201.5h0M330.3 201.5h0M324.9 218.3h0M335.7 195.4h0M341.3 191.5h0M339.5 169.4h0M348.6 198.1h0M342.8 198.6h0" stroke="#1f77b4" stroke-width="2.4" stroke-linecap="round"/></g><g clip-path="url(#c12)"><path d="M451.0 276.0L491.5 276.0L491.5 241.0L487.6 230.4L482.8 228.5L479.9 237.1L474.1 245.8L466.4 251.6L458.7 257.3L453.9 266.0Z" fill="#1f77b4"/><path d="M490.3 264.0h0M485.5 262.7h0M490.6 267.7h0M490.6 252.7h0M489.2 247.0h0M485.0 241.2h0M490.7 268.4h0M469.6 271.7h0M490.5 257.8h0M486.7 246.0h0M488.8 261.5h0M484.2 264.4h0M487.0 235.9h0M483.6 234.1h0M485.2 231.1h0M485.1 233.3h0M481.5 236.3h0M482.0 235.7h0M483.8 229.2h0M479.7 244.2h0M476.2 246.5h0M476.7 246.2h0M481.0 242.5h0M471.4 258.1h0M470.5 253.6h0M468.4 252.9h0M465.3 253.5h0M464.6 256.0h0M464.0 260.2h0M464.0 270.3h0M460.2 259.3h0M457.5 263.1h0M465.2 269.4h0M458.3 267.8h0M460.8 269.7h0M453.6 271.3h0M462.0 271.8h0" stroke="#fff" stroke-width="1.5" stroke-linecap="round"/><path d="M491.0 259.7h0M491.7 259.1h0M491.4 273.6h0M491.3 246.9h0M491.9 257.2h0M491.8 248.2h0M491.0 264.0h0M492.0 249.4h0M491.8 256.2h0M491.4 275.6h0M491.9 252.4h0M491.1 265.4h0M491.9 258.9h0M491.7 271.4h0M491.5 242.3h0M491.9 262.7h0M491.3 252.4h0M491.8 271.9h0M491.7 270.8h0M491.6 250.0h0M492.0 271.0h0M492.0 249.3h0M491.0 260.6h0M491.7 260.3h0M491.3 249.2h0M490.9 260.3h0M491.9 262.0h0M491.6 248.9h0M491.9 271.0h0M491.5 254.9h0M491.5 262.2h0M491.8 260.5h0M491.2 269.5h0M491.6 264.4h0M491.8 241.3h0M492.0 250.9h0M491.7 256.9h0M491.9 245.9h0M491.6 272.3h0M491.9 275.9h0M491.8 249.2h0M491.4 252.9h0M491.5 268.0h0M491.6 272.6h0M490.9 268.7h0M488.3 233.6h0M489.4 235.7h0M489.9 234.3h0M489.9 233.8h0M490.1 235.2h0M488.5 233.5h0M491.6 239.7h0M490.9 240.3h0M492.0 235.3h0M491.5 239.2h0M491.4 236.1h0M488.2 231.4h0M490.7 237.8h0M487.5 231.6h0M489.9 237.8h0M486.7 230.1h0M486.1 227.1h0M483.2 228.2h0M486.0 229.4h0M486.0 229.9h0M484.5 229.3h0M486.3 228.7h0M476.1 231.2h0M481.1 230.7h0M482.3 229.2h0M479.2 231.5h0M482.0 232.6h0M476.6 230.5h0M480.2 228.6h0M481.2 230.7h0M480.1 236.1h0M481.3 232.4h0M482.3 228.9h0M480.7 234.0h0M475.7 238.6h0M478.5 239.3h0M475.5 239.8h0M477.6 239.0h0M478.4 236.1h0M477.2 242.1h0M476.3 237.1h0M474.9 241.2h0M479.3 238.2h0M475.7 242.8h0M477.0 241.4h0M474.4 245.5h0M473.7 242.1h0M476.2 240.9h0M470.0 248.4h0M473.9 246.2h0M468.2 247.2h0M466.9 251.8h0M465.8 250.3h0M466.3 246.8h0M466.9 251.6h0M471.3 247.5h0M470.0 249.5h0M473.7 245.9h0M468.1 246.4h0M470.6 248.1h0M459.4 256.2h0M457.8 252.1h0M458.0 249.3h0M462.3 254.4h0M459.5 257.1h0M454.9 249.8h0M461.0 253.3h0M457.9 255.1h0M460.0 249.2h0M460.8 254.5h0M464.0 251.7h0M463.3 252.9h0M454.1 264.9h0M450.3 260.0h0M458.0 258.9h0M454.8 257.3h0M457.0 260.7h0M457.3 258.6h0M455.8 256.9h0M457.5 258.1h0M457.8 258.3h0M455.3 263.7h0M458.9 258.3h0M459.0 257.9h0M454.6 262.2h0M453.0 265.7h0M448.4 272.6h0M451.3 274.1h0M451.0 275.0h0M452.4 270.6h0M449.5 273.7h0M451.8 275.3h0M453.4 269.2h0M449.9 268.8h0M452.1 266.6h0M446.8 272.3h0M450.2 273.2h0M450.9 271.2h0M450.9 271.2h0M464.9 252.5h0M467.1 250.9h0M489.9 234.0h0M466.2 246.8h0M456.9 248.5h0M471.3 246.3h0M468.1 242.4h0M474.2 244.4h0M452.4 248.8h0M444.3 267.2h0M482.3 229.3h0M467.0 248.2h0M460.7 250.7h0M471.0 245.0h0M456.1 250.3h0M476.3 232.2h0M462.7 251.9h0M452.9 264.6h0M462.6 243.3h0M468.2 244.8h0M445.8 269.6h0M477.0 240.9h0M491.2 230.7h0M474.0 244.6h0M449.7 254.4h0M475.5 242.5h0M473.3 238.7h0M489.8 232.1h0M470.5 237.9h0M473.1 243.4h0M482.1 221.9h0M454.2 261.5h0M451.8 271.2h0M482.5 228.3h0M488.1 229.8h0M458.5 246.3h0M462.6 254.0h0M452.6 269.0h0M476.6 241.6h0M464.9 244.5h0M486.8 227.8h0M489.7 221.3h0M471.4 238.4h0M457.0 254.3h0M476.5 235.3h0M474.9 238.5h0M455.4 250.5h0M444.4 259.8h0M461.2 252.3h0M469.2 248.2h0M450.4 246.0h0M467.3 245.7h0M490.1 228.6h0M478.3 231.5h0M471.9 237.3h0M491.3 228.8h0M464.4 249.6h0M470.1 243.9h0M450.7 273.0h0M448.7 258.2h0M457.3 259.7h0M441.8 267.6h0M460.5 252.2h0M478.8 234.8h0M453.1 263.9h0M469.5 244.9h0M453.2 247.2h0M454.2 257.3h0M451.8 243.7h0M470.3 233.9h0M448.3 271.5h0M483.5 222.9h0M444.2 262.9h0M455.9 258.7h0M463.4 253.4h0M468.5 244.3h0M468.7 237.9h0M441.8 264.8h0M473.8 243.4h0M450.4 268.9h0M477.6 227.3h0M440.3 270.4h0M462.2 252.3h0M448.7 261.8h0M458.1 242.1h0M471.1 244.0h0M456.3 251.3h0M473.8 244.0h0M479.1 232.9h0M477.5 238.9h0M468.6 245.4h0M455.5 253.6h0M450.1 256.6h0M473.5 236.3h0M464.6 248.4h0M458.3 252.9h0M454.7 253.4h0M444.7 273.8h0M460.3 247.4h0M447.5 261.3h0M445.1 273.5h0M490.2 230.8h0M467.6 240.6h0M466.9 249.7h0M476.3 237.4h0M470.8 239.9h0M441.8 264.3h0M490.1 228.1h0M487.9 228.4h0M487.5 228.1h0M450.8 245.8h0M469.4 241.8h0M479.1 225.8h0M489.3 228.6h0M491.0 234.2h0M460.6 250.7h0M491.2 228.7h0M476.9 238.3h0M479.7 236.1h0M475.0 240.2h0M476.7 234.7h0M463.5 251.2h0M489.5 234.6h0M482.5 223.5h0M474.9 242.8h0M460.6 255.3h0M485.4 219.9h0M487.0 227.8h0M490.0 226.8h0M475.2 244.0h0M442.9 271.7h0M467.0 241.4h0M483.5 218.7h0M448.1 270.3h0M456.3 242.3h0M459.3 252.9h0M481.4 231.3h0M467.9 250.4h0M485.4 224.7h0M459.4 256.3h0M472.9 241.2h0M455.7 257.0h0M457.8 254.1h0M481.4 228.7h0M484.3 225.3h0M452.2 254.3h0M460.8 246.6h0M444.4 261.5h0M439.7 268.7h0M458.1 255.7h0M459.6 240.9h0M455.4 257.6h0M482.0 224.2h0M469.3 243.6h0M483.0 221.7h0M470.4 241.6h0M451.0 254.4h0M462.6 245.0h0M489.2 233.4h0M449.8 260.0h0M479.6 226.8h0M469.2 236.3h0M489.1 233.6h0M485.9 220.4h0M460.3 251.8h0M474.8 239.6h0M487.1 229.8h0M456.4 250.0h0M461.6 254.7h0M486.6 230.0h0M484.3 225.7h0M453.2 248.6h0M448.3 271.0h0M485.4 228.1h0M448.6 264.6h0M461.1 252.7h0M465.0 249.1h0M491.2 236.4h0M486.8 228.1h0M462.9 246.7h0M466.9 249.8h0M452.7 249.5h0M452.3 267.0h0M454.8 254.9h0M454.0 258.4h0M457.3 259.7h0M470.1 245.5h0M447.9 253.1h0M472.8 240.7h0M469.0 247.0h0M434.1 259.0h0M411.9 267.4h0M425.1 273.1h0M443.8 273.0h0M408.2 269.5h0M437.8 263.5h0M446.1 262.8h0M407.7 275.3h0M429.4 272.8h0M436.8 270.0h0M425.3 264.6h0M427.1 275.0h0M443.0 274.1h0M424.7 264.7h0M430.6 256.5h0M427.9 272.6h0M423.0 266.4h0M433.1 274.2h0M411.2 269.2h0M420.6 273.0h0M399.9 268.2h0M435.8 272.3h0M412.1 267.5h0M444.8 269.8h0M415.3 265.8h0M442.5 260.4h0M442.1 266.7h0M434.7 270.2h0M404.2 275.7h0M430.2 266.8h0M427.2 273.7h0M411.5 261.2h0M428.4 269.1h0M404.5 270.4h0M438.9 260.5h0M411.1 272.7h0M432.6 261.0h0M400.6 267.5h0M417.7 264.6h0M404.1 267.0h0M440.8 266.8h0M437.4 271.4h0M435.4 258.5h0M433.1 267.8h0M399.1 273.6h0M445.9 268.0h0M440.7 275.2h0M425.7 259.2h0M445.3 267.1h0M397.1 275.8h0M430.1 274.5h0M403.2 266.4h0M400.5 273.3h0M419.6 275.4h0M426.0 274.5h0M435.2 271.5h0M436.4 267.0h0M430.2 265.1h0M441.1 271.7h0M425.1 257.0h0M434.4 271.5h0M417.6 269.6h0M391.7 274.3h0M385.7 273.2h0M388.8 271.3h0M390.3 269.3h0M384.1 270.9h0M386.6 271.3h0M392.9 275.2h0M391.7 271.8h0M390.4 268.6h0M382.1 271.0h0M381.4 268.9h0M386.6 274.1h0M388.5 273.7h0M399.1 251.0h0M400.6 258.3h0M404.9 257.7h0M415.4 244.8h0M420.6 224.6h0M447.2 223.3h0M444.3 249.6h0M463.9 194.8h0M473.4 186.7h0M474.7 199.0h0M472.6 205.8h0M473.6 220.4h0M479.9 169.4h0M491.5 225.2h0M484.3 208.3h0M485.7 214.0h0M486.6 217.5h0" stroke="#1f77b4" stroke-width="2.4" stroke-linecap="round"/></g><g clip-path="url(#c13)"><path d="M604.6 276.0L632.5 276.0L632.5 231.3L629.6 228.5L624.8 233.3L619.0 239.0L613.2 244.8L608.4 253.5L605.5 264.1Z" fill="#1f77b4"/><path d="M628.8 254.2h0M630.7 245.9h0M627.4 260.2h0M627.2 256.0h0M629.7 273.4h0M628.6 246.3h0M627.6 260.2h0M631.6 258.6h0M629.9 241.3h0M621.4 275.5h0M629.1 274.0h0M628.2 257.4h0M631.4 271.9h0M631.2 232.2h0M631.9 238.1h0M631.6 230.7h0M625.3 237.9h0M625.9 236.0h0M625.1 237.6h0M617.5 241.9h0M619.3 250.5h0M615.1 244.2h0M612.8 251.1h0M610.9 252.8h0M619.5 250.0h0M618.1 261.6h0M613.6 255.9h0M609.6 254.2h0M614.9 261.8h0M606.0 275.7h0M607.6 264.5h0M611.3 273.7h0M606.4 271.5h0" stroke="#fff" stroke-width="1.5" stroke-linecap="round"/><path d="M632.3 270.8h0M632.9 255.0h0M632.5 266.0h0M632.4 246.0h0M632.7 255.7h0M632.5 269.3h0M632.8 266.5h0M632.7 258.3h0M633.0 264.3h0M632.3 257.7h0M632.1 270.8h0M632.8 268.5h0M632.3 275.0h0M632.4 269.1h0M631.9 272.4h0M632.6 272.4h0M632.7 270.9h0M632.4 255.3h0M632.7 248.5h0M632.6 242.7h0M632.6 238.8h0M632.4 250.5h0M633.0 255.8h0M632.0 251.7h0M631.9 246.2h0M632.4 266.4h0M632.7 268.0h0M633.0 241.4h0M632.5 262.5h0M633.0 246.8h0M632.2 234.3h0M632.9 253.3h0M632.2 264.8h0M632.2 272.9h0M632.8 259.2h0M632.6 275.7h0M632.9 264.4h0M632.9 234.6h0M632.8 244.4h0M632.8 258.6h0M631.9 269.4h0M631.9 240.2h0M632.4 240.4h0M632.4 231.6h0M632.7 248.6h0M632.3 238.0h0M632.7 243.4h0M632.3 253.2h0M631.9 257.5h0M632.9 252.1h0M632.5 247.8h0M632.0 254.7h0M632.9 259.1h0M632.7 234.8h0M633.0 257.7h0M632.9 241.8h0M632.3 244.2h0M632.9 236.1h0M632.2 226.7h0M630.7 230.3h0M629.5 228.5h0M631.5 230.7h0M630.9 230.3h0M624.0 232.1h0M626.6 228.6h0M627.4 227.2h0M623.2 231.3h0M627.8 230.4h0M627.3 231.2h0M624.2 230.0h0M629.9 228.8h0M619.7 237.2h0M617.3 232.3h0M624.7 233.5h0M619.8 238.5h0M623.3 234.3h0M618.4 238.2h0M624.2 234.5h0M621.3 236.2h0M622.2 235.2h0M623.6 234.2h0M618.0 235.6h0M618.0 238.3h0M618.3 240.0h0M613.7 237.1h0M610.4 233.3h0M618.8 240.0h0M616.0 240.9h0M618.0 240.7h0M614.6 243.1h0M610.9 240.7h0M611.1 241.6h0M608.3 249.5h0M604.6 242.6h0M604.8 251.1h0M609.7 249.1h0M611.8 245.3h0M606.4 244.7h0M604.4 245.9h0M608.2 247.3h0M612.0 245.1h0M606.7 249.2h0M605.2 248.4h0M612.3 245.9h0M609.5 251.8h0M603.8 254.3h0M605.5 253.0h0M605.7 259.3h0M606.6 259.9h0M603.5 253.4h0M606.7 260.1h0M605.7 257.9h0M607.6 253.5h0M604.9 252.7h0M596.8 255.9h0M606.6 258.1h0M603.5 255.3h0M604.6 254.1h0M604.2 262.6h0M605.1 274.7h0M597.9 273.8h0M604.8 265.5h0M605.4 264.8h0M603.2 274.1h0M602.2 267.0h0M604.3 268.5h0M602.2 275.1h0M603.6 273.6h0M600.3 270.6h0M604.5 270.7h0M592.8 268.8h0M604.2 264.9h0M604.0 271.5h0M597.7 268.3h0M601.2 274.0h0M611.6 241.9h0M622.7 234.0h0M604.5 258.5h0M606.6 230.9h0M621.5 227.1h0M602.7 249.0h0M606.4 257.4h0M595.3 252.6h0M617.5 225.8h0M614.6 234.0h0M600.3 248.9h0M594.2 267.4h0M626.7 225.1h0M626.9 214.5h0M604.1 248.2h0M616.3 238.8h0M600.7 238.1h0M597.1 269.3h0M611.1 232.5h0M597.3 256.7h0M601.5 275.2h0M600.5 265.0h0M594.5 274.0h0M623.8 234.1h0M619.1 221.9h0M598.5 254.2h0M601.5 275.3h0M590.2 274.0h0M623.8 219.1h0M624.1 232.7h0M596.5 269.6h0M603.5 230.8h0M606.6 245.4h0M630.5 223.8h0M602.3 272.0h0M604.6 243.0h0M595.7 259.6h0M610.3 248.8h0M603.8 260.6h0M604.4 266.9h0M629.1 226.1h0M601.3 267.2h0M604.5 261.0h0M631.5 230.0h0M597.8 272.5h0M621.1 214.3h0M592.5 258.1h0M608.5 230.6h0M609.2 251.8h0M606.5 254.8h0M623.9 233.1h0M593.4 271.0h0M625.4 229.0h0M591.6 273.1h0M615.1 240.5h0M620.5 236.9h0M614.5 233.4h0M599.9 257.9h0M629.0 227.4h0M601.0 264.8h0M626.8 218.3h0M627.5 223.5h0M618.2 235.8h0M603.4 256.5h0M609.4 231.8h0M598.7 242.3h0M603.4 265.2h0M601.0 264.0h0M619.0 229.4h0M614.4 235.2h0M612.5 231.9h0M629.4 224.1h0M604.7 262.2h0M600.6 269.7h0M607.9 228.4h0M605.9 252.1h0M592.7 267.3h0M586.1 263.7h0M598.6 269.3h0M603.8 274.6h0M596.2 245.5h0M595.2 264.4h0M601.6 256.5h0M615.6 231.7h0M600.9 238.7h0M612.6 243.0h0M630.3 227.8h0M625.9 229.7h0M616.9 218.7h0M598.9 269.5h0M602.4 242.3h0M619.5 225.5h0M595.6 275.9h0M605.7 233.5h0M620.5 229.0h0M604.5 268.4h0M589.7 265.5h0M588.0 262.4h0M631.0 229.2h0M601.7 268.6h0M590.5 272.8h0M595.8 263.9h0M599.3 265.9h0M626.5 227.7h0M623.4 224.6h0M618.9 236.1h0M620.3 237.3h0M599.7 263.3h0M598.1 261.5h0M608.5 246.2h0M592.9 262.8h0M593.4 254.5h0M599.7 269.8h0M618.2 226.7h0M622.2 223.4h0M610.9 233.6h0M606.5 243.2h0M612.4 241.3h0M607.7 238.0h0M604.1 270.5h0M599.5 257.1h0M628.2 214.4h0M610.0 247.9h0M597.1 250.4h0M602.5 266.9h0M607.7 235.5h0M606.7 249.4h0M595.0 252.2h0M606.9 241.2h0M608.4 243.5h0M601.5 275.0h0M597.2 272.0h0M621.3 216.2h0M603.0 275.3h0M603.6 251.1h0M603.2 274.5h0M614.9 228.6h0M600.8 250.1h0M593.9 265.8h0M592.4 254.6h0M600.9 256.9h0M626.3 217.5h0M603.8 273.5h0M613.7 238.4h0M596.2 261.7h0M595.3 266.5h0M598.0 273.0h0M621.6 233.6h0M607.2 235.4h0M602.9 239.8h0M588.7 269.0h0M618.9 236.8h0M624.5 231.3h0M591.8 259.6h0M626.5 230.0h0M616.4 234.4h0M613.0 244.8h0M602.6 258.4h0M631.3 219.1h0M599.9 271.8h0M600.3 258.3h0M626.6 226.8h0M628.7 217.9h0M604.3 233.7h0M596.3 265.3h0M610.3 236.0h0M588.5 254.6h0M603.4 270.6h0M605.2 245.4h0M593.3 270.5h0M623.4 223.5h0M611.8 224.1h0M624.8 222.7h0M614.6 209.6h0M627.0 217.3h0M627.8 193.0h0M626.5 207.4h0M620.9 201.2h0M617.5 214.4h0M631.5 221.2h0M609.4 223.8h0M630.7 198.8h0M609.0 222.5h0M615.8 217.0h0M629.7 208.0h0M627.9 201.7h0M622.2 208.4h0M630.7 223.4h0M625.5 207.7h0M629.7 224.5h0M612.7 206.2h0M626.1 204.0h0M627.9 193.9h0M620.2 202.7h0M630.4 202.9h0M622.4 207.8h0M615.8 207.8h0M624.1 199.9h0M627.2 208.2h0M616.5 213.9h0M630.2 196.6h0M616.5 204.7h0M625.5 224.2h0M621.7 208.1h0M625.3 224.7h0M568.7 272.8h0M572.5 269.2h0M579.0 271.0h0M579.1 269.4h0M573.7 269.3h0M571.8 268.0h0M567.6 267.6h0M576.9 275.1h0M577.2 267.3h0M566.0 271.5h0M576.7 271.1h0M562.5 271.1h0M577.9 268.6h0M576.4 272.4h0M568.4 272.3h0M575.1 273.0h0M567.9 270.0h0M561.6 275.1h0M568.1 273.1h0M568.5 273.0h0M601.8 258.3h0M589.8 252.9h0M600.3 272.2h0M605.7 252.8h0M585.3 268.5h0M586.4 266.9h0M602.5 250.6h0M602.5 246.6h0M586.6 272.3h0M602.5 250.7h0M601.9 256.9h0M583.6 272.4h0M599.6 275.0h0M589.8 274.0h0M600.8 250.9h0M585.2 270.3h0M606.6 253.4h0M591.4 251.6h0M587.8 264.8h0M603.9 273.4h0M606.9 252.1h0M604.8 257.1h0M591.9 270.5h0M602.2 252.9h0M584.6 259.1h0M586.0 264.5h0M590.0 273.7h0M588.5 260.8h0M594.9 259.4h0M604.4 247.6h0M593.8 268.8h0M598.1 260.3h0M585.9 272.9h0M582.7 261.9h0M604.8 253.6h0M591.2 265.7h0M600.8 247.0h0M596.5 270.6h0M595.8 250.5h0M585.1 262.2h0M595.2 257.9h0M602.7 247.9h0M597.3 275.0h0M588.3 256.6h0M601.2 256.3h0M594.3 275.8h0M599.4 273.0h0M586.2 269.0h0M596.4 274.6h0M598.5 270.2h0M603.5 265.5h0M595.3 269.4h0M596.7 263.1h0M589.5 272.5h0M599.0 250.9h0M591.5 263.4h0M592.1 275.5h0M601.0 272.3h0M590.8 271.2h0M585.0 273.3h0M521.8 262.1h0M539.1 251.0h0M541.4 261.2h0M545.9 259.2h0M544.9 273.1h0M556.1 263.3h0M559.7 274.1h0M563.8 256.0h0M561.6 269.4h0M564.5 269.4h0M568.6 272.1h0M567.4 274.1h0M583.6 226.2h0M586.7 242.1h0M601.1 198.3h0M613.8 199.2h0M619.0 197.1h0M626.3 191.5h0M624.8 169.4h0M627.1 196.3h0M630.5 202.5h0M579.5 258.9h0M579.0 262.1h0" stroke="#1f77b4" stroke-width="2.4" stroke-linecap="round"/></g><g clip-path="url(#c14)"><path d="M738.8 276.0L771.5 276.0L771.5 246.7L766.7 241.9L760.9 239.0L753.2 239.0L746.5 241.9L742.6 248.7L739.7 260.2Z" fill="#1f77b4"/><path d="M760.1 262.2h0M768.9 248.8h0M769.1 248.0h0M765.8 262.7h0M768.9 266.7h0M754.2 247.9h0M759.4 265.7h0M770.6 252.4h0M770.1 254.7h0M768.3 256.8h0M769.4 247.2h0M763.9 251.2h0M761.6 240.9h0M758.5 246.5h0M760.6 242.9h0M757.7 240.3h0M752.5 241.0h0M748.7 247.1h0M747.5 250.8h0M755.4 250.1h0M749.9 247.7h0M742.4 259.3h0M750.7 257.6h0M743.8 256.7h0M744.2 250.7h0M748.6 261.0h0M752.9 272.8h0M741.0 263.6h0M746.8 272.7h0M741.4 271.5h0M765.7 262.1h0" stroke="#fff" stroke-width="1.5" stroke-linecap="round"/><path d="M771.8 259.2h0M771.5 255.2h0M771.6 273.2h0M771.9 259.6h0M771.0 251.4h0M771.4 253.9h0M771.8 258.4h0M772.0 248.4h0M771.3 247.3h0M771.0 247.3h0M771.8 258.5h0M772.0 259.5h0M771.2 259.1h0M771.4 266.4h0M771.9 264.4h0M771.5 267.3h0M771.6 259.2h0M772.0 259.0h0M771.5 268.8h0M771.4 259.5h0M771.7 255.0h0M771.9 263.2h0M771.8 260.5h0M771.3 262.6h0M771.8 273.3h0M772.0 247.5h0M771.4 272.3h0M771.9 258.6h0M772.0 269.3h0M771.6 264.5h0M771.6 258.9h0M771.4 269.7h0M771.0 251.8h0M771.7 262.4h0M772.0 270.3h0M771.8 248.3h0M771.5 247.4h0M771.2 250.3h0M771.3 240.8h0M768.6 243.3h0M770.0 242.1h0M769.2 245.3h0M771.2 243.3h0M767.1 242.5h0M770.2 245.0h0M767.0 242.5h0M768.3 242.4h0M766.1 238.8h0M765.6 240.5h0M763.9 241.0h0M761.7 238.0h0M761.3 239.0h0M761.2 238.8h0M766.3 240.9h0M760.9 239.3h0M763.7 240.7h0M760.3 238.6h0M756.4 238.8h0M754.9 238.5h0M758.3 239.0h0M756.2 238.6h0M754.3 233.5h0M754.0 233.6h0M759.5 236.4h0M753.6 238.0h0M756.6 236.3h0M753.3 239.4h0M747.3 241.9h0M748.3 240.3h0M745.4 236.5h0M752.4 238.7h0M748.2 241.5h0M749.1 240.8h0M746.9 237.2h0M750.4 240.6h0M746.4 242.6h0M742.3 244.4h0M743.0 245.9h0M745.4 244.9h0M743.4 245.0h0M744.3 246.6h0M741.1 241.8h0M744.2 246.0h0M746.1 242.4h0M745.0 244.1h0M738.9 259.4h0M738.0 250.1h0M740.6 256.4h0M739.3 249.4h0M740.7 256.8h0M740.5 252.2h0M740.3 258.6h0M740.9 254.5h0M739.6 257.2h0M741.4 252.7h0M741.8 254.0h0M741.1 256.3h0M738.8 258.6h0M739.9 257.5h0M739.2 259.0h0M735.8 253.1h0M736.8 262.3h0M736.8 271.1h0M738.9 267.7h0M737.9 271.2h0M735.2 262.3h0M738.5 273.3h0M730.2 266.2h0M735.6 261.5h0M738.0 271.7h0M736.5 273.5h0M737.8 270.4h0M740.0 261.1h0M738.0 265.2h0M739.6 271.4h0M736.6 269.7h0M738.3 270.9h0M733.4 265.3h0M739.5 263.3h0M735.8 270.8h0M734.3 260.7h0M731.5 258.4h0M753.0 237.2h0M737.6 262.8h0M735.1 262.9h0M743.1 245.5h0M731.5 257.1h0M741.6 238.9h0M766.0 222.3h0M726.4 262.8h0M736.5 244.2h0M737.6 269.0h0M759.5 237.4h0M740.6 256.4h0M771.9 253.0h0M771.7 251.2h0M771.5 271.4h0M737.6 253.6h0M771.9 253.3h0M762.3 225.4h0M739.5 263.6h0M771.7 257.7h0M771.9 259.6h0M726.6 275.1h0M772.0 232.9h0M745.6 240.3h0M771.8 246.4h0M762.0 219.9h0M735.1 247.5h0M760.7 222.4h0M735.5 249.4h0M728.7 247.5h0M735.7 270.5h0M771.4 270.5h0M745.8 237.1h0M729.0 261.8h0M756.3 231.1h0M731.1 267.2h0M735.7 239.1h0M771.9 266.6h0M739.4 247.3h0M747.1 233.1h0M765.3 240.7h0M772.0 261.8h0M734.5 269.4h0M739.6 253.1h0M745.0 242.4h0M734.9 269.0h0M731.0 244.8h0M771.3 250.8h0M739.1 235.8h0M772.1 271.0h0M771.7 241.8h0M742.1 231.6h0M735.6 270.1h0M765.7 228.2h0M736.5 262.1h0M733.5 268.0h0M767.5 233.3h0M772.0 258.0h0M730.2 259.3h0M749.7 232.8h0M756.3 226.4h0M754.1 227.2h0M733.0 270.8h0M758.6 229.9h0M748.0 237.2h0M770.0 238.5h0M726.6 264.4h0M752.7 235.5h0M763.9 236.5h0M760.5 229.7h0M739.7 245.2h0M742.5 242.2h0M771.6 243.5h0M744.1 239.7h0M759.8 224.0h0M772.0 265.1h0M735.5 252.6h0M738.8 248.9h0M728.4 262.0h0M738.9 266.9h0M739.2 266.7h0M730.6 257.3h0M741.3 239.8h0M731.5 275.8h0M750.6 239.0h0M739.0 238.3h0M742.3 229.0h0M726.1 272.4h0M756.8 237.9h0M737.2 247.9h0M737.0 265.4h0M734.2 242.7h0M750.5 229.2h0M735.4 271.2h0M762.8 234.1h0M734.1 257.3h0M735.0 249.6h0M732.3 259.2h0M736.3 268.6h0M749.8 238.2h0M752.5 236.1h0M759.7 229.3h0M730.0 272.8h0M727.0 273.7h0M741.9 228.2h0M758.3 223.8h0M767.5 226.5h0M727.1 261.8h0M772.0 260.4h0M758.5 223.8h0M757.8 237.9h0M771.8 267.2h0M758.9 225.3h0M733.7 271.9h0M732.8 242.4h0M736.8 240.6h0M771.8 222.3h0M771.3 233.3h0M761.9 233.3h0M732.6 262.4h0M732.6 244.1h0M730.6 259.0h0M767.6 238.9h0M753.1 229.0h0M733.4 264.4h0M753.3 227.6h0M765.0 224.4h0M736.7 256.4h0M747.3 238.8h0M730.1 247.8h0M730.1 261.3h0M741.9 238.6h0M762.4 235.7h0M771.3 259.4h0M758.6 228.1h0M741.7 238.8h0M762.6 229.6h0M759.8 232.3h0M757.2 235.5h0M727.7 252.6h0M730.3 258.5h0M760.9 235.9h0M771.8 252.8h0M763.4 226.4h0M758.8 226.3h0M766.2 240.4h0M743.0 236.2h0M735.9 275.6h0M742.6 238.0h0M723.4 271.9h0M734.5 254.2h0M736.8 253.6h0M771.4 266.7h0M767.9 227.6h0M734.1 247.1h0M734.2 240.5h0M756.5 224.9h0M755.5 231.7h0M740.1 241.7h0M757.6 230.2h0M739.9 257.4h0M771.7 233.8h0M734.3 240.3h0M758.7 233.0h0M748.9 234.1h0M759.8 229.6h0M729.2 262.6h0M728.1 271.3h0M724.7 269.5h0M757.7 232.2h0M723.3 269.0h0M738.3 268.6h0M761.9 233.1h0M763.3 228.7h0M747.3 232.7h0M768.3 239.8h0M756.6 224.1h0M731.5 275.4h0M757.9 226.9h0M728.0 271.0h0M744.8 240.7h0M743.2 233.3h0M735.8 275.1h0M761.2 237.6h0M760.0 228.4h0M766.9 231.0h0M737.6 256.4h0M740.9 239.3h0M738.6 265.9h0M747.7 226.5h0M731.3 273.2h0M735.5 249.2h0M733.8 268.3h0M771.8 245.7h0M740.6 229.8h0M740.7 248.6h0M767.3 237.6h0M758.9 234.8h0M737.0 253.1h0M757.9 227.3h0M771.6 240.6h0M749.6 228.6h0M730.6 260.2h0M757.2 220.2h0M747.6 228.1h0M761.4 233.8h0M729.5 260.6h0M765.6 227.4h0M745.7 226.0h0M726.3 265.6h0M729.2 254.1h0M771.4 240.6h0M747.1 238.2h0M740.2 254.5h0M743.4 245.4h0M772.0 239.8h0M759.2 233.8h0M763.1 231.2h0M755.6 237.4h0M768.6 228.0h0M738.8 263.6h0M743.9 232.3h0M732.5 269.4h0M737.8 252.1h0M763.2 230.8h0M731.2 274.0h0M737.5 243.1h0M771.9 240.5h0M731.5 255.9h0M771.6 264.4h0M754.0 223.9h0M745.5 236.5h0M743.9 225.1h0M736.1 268.0h0M739.7 248.9h0M737.6 230.6h0M751.8 229.0h0M733.4 244.8h0M737.8 264.8h0M736.6 270.2h0M738.8 241.9h0M759.2 235.8h0M771.2 244.6h0M734.1 268.8h0M728.8 257.4h0M741.2 251.5h0M749.3 239.2h0M743.8 233.8h0M733.7 246.1h0M771.6 249.4h0M731.7 256.9h0M753.3 238.9h0M743.5 226.2h0M749.9 225.4h0M732.2 253.8h0M735.7 263.4h0M746.0 235.8h0M742.5 233.4h0M766.1 234.8h0M771.5 244.9h0M758.4 237.1h0M738.6 250.4h0M732.8 274.8h0M763.0 239.5h0M728.4 250.9h0M755.5 229.6h0M771.5 249.3h0M729.2 270.5h0M769.0 233.1h0M730.1 274.1h0M727.5 274.3h0M733.7 273.8h0M725.3 274.9h0M704.0 274.0h0M715.6 275.2h0M699.3 274.9h0M727.7 273.9h0M704.2 274.5h0M716.0 275.1h0M732.7 274.5h0M720.2 274.2h0M722.0 275.0h0M714.3 274.5h0M727.0 274.4h0M695.6 274.7h0M723.3 274.7h0M719.3 274.2h0M696.4 275.1h0M723.2 273.9h0M706.3 273.9h0M737.5 273.9h0M730.1 275.1h0M716.8 274.5h0M731.2 275.2h0M735.4 273.7h0M709.3 273.9h0M724.6 273.9h0M714.1 275.0h0M771.6 273.8h0M707.2 274.1h0M726.6 273.9h0M708.1 274.3h0M771.9 273.8h0M710.7 274.1h0M735.4 274.7h0M711.7 274.1h0M729.8 274.4h0M727.4 275.0h0M708.7 274.8h0M771.7 274.9h0M705.7 273.9h0M712.6 274.2h0M717.6 274.6h0M707.3 274.7h0M712.8 274.7h0M721.0 275.2h0M703.6 273.7h0M721.8 275.2h0M729.0 273.7h0M738.1 275.0h0M705.4 275.2h0M717.1 274.5h0M699.8 274.7h0M726.6 275.2h0M716.5 274.2h0M703.7 274.3h0M728.6 274.9h0M716.8 274.7h0M732.0 274.1h0M703.2 273.7h0M705.3 273.7h0M704.6 275.2h0M701.4 274.3h0M711.3 274.2h0M729.0 274.3h0M699.5 274.0h0M708.9 274.0h0M726.5 275.1h0M699.2 274.6h0M753.7 206.6h0M764.0 192.9h0M760.7 207.6h0M764.9 199.2h0M768.4 213.9h0M766.1 202.2h0M760.8 207.9h0M759.2 198.4h0M749.8 213.6h0M754.6 204.8h0M758.0 210.2h0M760.4 204.7h0M770.5 211.4h0M758.7 204.8h0M754.5 195.0h0M765.2 191.2h0M721.2 252.1h0M715.9 258.4h0M725.3 272.4h0M709.1 275.5h0M712.1 266.1h0M716.5 262.4h0M728.4 268.9h0M718.5 262.6h0M714.4 273.7h0M721.5 268.1h0M716.8 260.5h0M718.8 274.5h0M714.7 262.2h0M728.3 257.8h0M720.5 255.2h0M723.9 259.4h0M726.6 261.9h0M723.3 274.4h0M727.1 270.7h0M719.2 267.3h0M723.2 250.3h0M712.1 268.0h0M722.0 254.6h0M728.0 250.2h0M709.7 274.9h0M725.1 266.4h0M720.2 269.4h0M727.2 265.6h0M719.1 266.8h0M713.2 268.1h0M728.4 252.3h0M716.6 263.0h0M726.6 248.3h0M727.9 275.9h0M720.9 258.4h0M726.3 256.1h0M715.7 271.1h0M727.7 252.1h0M728.6 267.6h0M722.7 268.3h0M692.6 254.4h0M689.7 265.0h0M698.9 270.8h0M695.1 274.3h0M717.6 226.5h0M717.0 253.5h0M709.0 264.1h0M712.2 263.1h0M735.9 216.9h0M740.1 215.6h0M733.0 218.5h0M747.4 175.5h0M751.9 188.1h0M760.9 188.1h0M754.2 191.9h0M756.1 194.8h0M764.8 195.7h0M764.8 200.6h0M749.0 205.4h0M758.0 204.4h0M771.5 215.6h0M771.9 235.2h0" stroke="#1f77b4" stroke-width="2.4" stroke-linecap="round"/></g><g clip-path="url(#c20)"><path d="M141.2 420.6L211.4 420.6L211.4 358.1L207.6 357.1L203.7 363.9L199.9 371.6L196.0 381.2L192.2 388.9L188.3 390.8L184.5 387.9L180.6 385.0L175.8 381.6L168.1 381.6L162.3 382.7L156.6 385.4L152.3 389.9L148.5 397.6L144.6 408.1Z" fill="#1f77b4"/><path d="M207.7 412.0h0M209.8 371.4h0M206.5 360.6h0M204.1 415.5h0M210.1 400.0h0M200.6 407.0h0M204.1 370.8h0M210.0 400.9h0M206.6 388.4h0M207.1 378.9h0M210.1 399.4h0M202.5 389.4h0M204.0 420.2h0M203.3 392.3h0M209.5 369.0h0M198.4 377.3h0M209.5 373.9h0M208.3 406.0h0M201.1 379.7h0M203.5 381.1h0M199.9 408.7h0M205.9 366.0h0M205.4 363.6h0M206.6 362.9h0M209.7 359.5h0M203.0 372.0h0M202.9 370.8h0M205.5 379.0h0M200.8 376.3h0M196.4 383.2h0M199.6 384.7h0M197.0 388.2h0M191.9 394.5h0M189.1 391.5h0M182.5 391.4h0M175.2 392.8h0M183.4 388.2h0M176.0 385.9h0M178.4 385.2h0M173.4 388.4h0M175.1 407.7h0M163.3 385.8h0M163.7 387.5h0M157.7 386.6h0M158.6 387.9h0M168.1 397.6h0M154.1 389.9h0M154.1 391.5h0M152.8 392.1h0M154.9 396.7h0M149.4 404.3h0M147.6 403.7h0M145.5 408.0h0M151.5 399.9h0M147.0 415.7h0M143.1 416.7h0" stroke="#fff" stroke-width="1.5" stroke-linecap="round"/><path d="M211.8 376.6h0M211.2 372.3h0M211.3 387.7h0M211.3 403.0h0M211.8 362.7h0M210.9 384.4h0M211.3 390.0h0M211.6 412.9h0M211.6 365.3h0M211.8 385.3h0M211.3 406.9h0M211.9 364.1h0M211.3 417.0h0M211.2 373.6h0M211.8 401.1h0M211.9 397.3h0M211.8 383.5h0M211.3 387.0h0M211.1 413.7h0M210.9 415.9h0M211.5 388.0h0M211.7 365.6h0M212.0 393.8h0M211.7 359.0h0M211.9 387.4h0M211.5 384.0h0M211.1 380.8h0M211.8 363.3h0M211.6 408.7h0M211.8 401.7h0M211.6 411.9h0M211.6 402.4h0M211.2 417.2h0M211.0 396.0h0M211.4 369.5h0M211.3 403.5h0M211.0 391.4h0M211.8 403.1h0M211.0 400.1h0M211.8 392.8h0M211.1 386.9h0M211.2 405.6h0M211.8 418.0h0M211.4 376.3h0M211.3 405.9h0M211.4 362.2h0M211.6 389.1h0M211.7 388.7h0M211.5 397.5h0M211.7 377.8h0M211.3 376.3h0M210.9 370.6h0M211.6 370.8h0M211.4 392.4h0M211.3 370.6h0M211.2 396.4h0M211.6 401.0h0M211.0 372.1h0M210.9 375.5h0M211.7 379.0h0M211.1 419.6h0M211.6 375.9h0M211.3 410.1h0M211.4 410.9h0M211.3 363.1h0M211.3 394.1h0M211.3 375.1h0M210.9 399.8h0M211.8 415.5h0M211.4 387.7h0M211.7 379.2h0M210.9 377.9h0M211.9 413.6h0M211.7 407.8h0M211.7 401.3h0M211.3 360.3h0M212.0 419.5h0M212.0 369.4h0M211.7 402.0h0M211.7 359.5h0M211.7 363.8h0M209.9 357.5h0M211.8 354.5h0M208.0 355.6h0M208.2 357.2h0M210.5 355.7h0M211.1 358.0h0M204.5 356.4h0M206.9 357.9h0M202.6 360.2h0M202.3 361.6h0M207.7 357.5h0M204.2 359.9h0M204.6 359.6h0M207.3 358.5h0M206.5 359.4h0M200.9 359.2h0M202.8 365.7h0M198.1 362.2h0M202.8 366.1h0M200.0 367.3h0M199.4 369.9h0M196.7 369.7h0M200.6 370.7h0M199.4 364.8h0M202.6 366.6h0M202.3 367.8h0M201.5 368.8h0M194.3 379.2h0M198.5 375.1h0M200.1 371.8h0M192.7 379.8h0M197.5 375.1h0M196.7 380.6h0M195.5 374.0h0M196.0 374.1h0M197.9 376.6h0M195.5 371.7h0M198.4 373.1h0M196.7 372.5h0M196.4 378.3h0M197.4 375.7h0M194.3 385.6h0M192.2 388.1h0M195.2 383.5h0M189.8 386.3h0M189.7 386.0h0M192.6 383.2h0M192.4 388.6h0M191.3 386.4h0M194.1 385.9h0M195.4 382.2h0M191.5 385.1h0M190.8 389.3h0M186.4 386.3h0M189.4 390.9h0M189.7 390.3h0M192.1 388.9h0M186.3 386.3h0M186.0 389.0h0M191.9 385.3h0M190.8 385.4h0M187.0 388.4h0M187.0 385.8h0M186.6 387.2h0M184.5 387.1h0M183.2 386.8h0M181.5 384.3h0M183.2 386.0h0M184.2 385.9h0M185.5 381.4h0M181.0 385.1h0M176.2 382.4h0M180.0 385.2h0M180.9 384.0h0M180.4 382.5h0M178.8 382.6h0M180.5 380.8h0M182.6 376.3h0M173.7 381.4h0M175.2 380.1h0M173.4 381.0h0M175.0 380.9h0M169.5 380.1h0M168.9 375.8h0M170.7 381.7h0M175.4 380.7h0M169.3 381.0h0M174.4 381.0h0M164.8 378.5h0M165.0 382.2h0M163.8 373.1h0M162.3 380.4h0M163.3 382.4h0M167.0 381.6h0M166.4 380.3h0M163.0 378.8h0M160.1 384.4h0M158.3 385.1h0M161.2 383.8h0M158.5 381.0h0M158.4 384.1h0M159.9 381.7h0M160.9 381.7h0M156.5 384.1h0M149.6 384.1h0M153.5 386.4h0M155.8 386.4h0M154.4 385.4h0M151.6 387.5h0M152.6 388.3h0M154.5 385.9h0M156.2 386.7h0M149.0 395.0h0M149.0 395.8h0M149.0 393.6h0M147.4 391.0h0M142.9 393.0h0M151.1 393.5h0M152.8 390.3h0M150.8 394.0h0M148.5 396.1h0M151.8 391.7h0M142.7 390.0h0M144.5 402.1h0M146.9 400.7h0M135.7 394.2h0M147.6 397.4h0M147.2 401.2h0M147.5 399.8h0M146.3 402.7h0M142.8 405.0h0M145.2 398.9h0M146.5 400.8h0M144.6 405.4h0M140.7 402.6h0M148.2 397.9h0M144.4 405.7h0M142.9 412.5h0M137.5 417.9h0M144.3 410.3h0M139.3 419.0h0M142.0 414.7h0M137.7 418.0h0M141.3 417.2h0M142.7 412.9h0M141.4 418.8h0M141.2 419.2h0M143.3 414.7h0M141.5 408.3h0M133.2 414.6h0M138.8 413.0h0M144.1 411.5h0M143.6 408.4h0M143.8 408.2h0M156.0 384.3h0M192.7 386.4h0M143.7 378.3h0M136.3 412.9h0M187.7 380.7h0M141.9 412.1h0M134.5 418.6h0M139.9 397.5h0M144.9 401.6h0M193.3 378.5h0M173.5 378.6h0M154.2 372.8h0M144.3 409.1h0M206.5 357.4h0M206.3 355.1h0M196.9 360.5h0M166.8 379.0h0M149.1 392.3h0M197.1 370.7h0M146.8 397.9h0M139.0 410.3h0M190.7 388.7h0M196.4 375.5h0M177.5 378.0h0M142.1 396.4h0M189.3 377.1h0M200.3 363.7h0M186.6 375.8h0M150.5 382.1h0M168.8 373.6h0M152.2 373.0h0M160.3 375.2h0M148.3 376.4h0M197.8 365.3h0M211.1 346.4h0M199.1 359.0h0M196.7 373.9h0M151.4 379.4h0M156.7 373.5h0M177.2 376.2h0M176.9 376.6h0M147.6 396.2h0M181.9 370.6h0M200.0 363.3h0M208.6 349.1h0M191.0 384.8h0M139.7 396.3h0M139.3 389.7h0M188.5 379.8h0M137.8 419.1h0M142.2 413.5h0M172.3 381.1h0M189.5 381.1h0M208.4 340.7h0M195.4 361.1h0M138.0 395.5h0M210.7 357.7h0M152.9 377.9h0M143.1 392.9h0M209.8 357.5h0M182.2 385.4h0M193.4 375.4h0M202.1 355.5h0M139.8 396.5h0M211.4 357.7h0M173.0 380.5h0M187.3 388.2h0M207.5 353.2h0M144.6 398.3h0M195.7 374.7h0M151.1 391.0h0M203.5 358.9h0M194.4 369.7h0M197.9 371.8h0M143.3 390.3h0M146.0 402.2h0M145.6 399.6h0M200.2 354.5h0M198.6 370.6h0M177.3 369.2h0M209.1 357.5h0M164.2 374.0h0M198.9 357.2h0M155.1 382.5h0M154.5 385.4h0M160.7 373.0h0M164.1 377.6h0M201.1 365.8h0M192.5 373.4h0M175.3 380.1h0M198.0 357.4h0M175.2 380.0h0M194.6 382.4h0M205.5 351.4h0M197.7 371.7h0M140.4 410.7h0M172.9 374.6h0M142.2 414.0h0M163.2 381.4h0M201.2 367.1h0M135.8 406.5h0M187.8 376.3h0M142.7 414.1h0M151.4 388.0h0M145.2 402.8h0M176.1 377.9h0M164.8 380.4h0M189.4 372.8h0M175.5 374.8h0M190.7 387.1h0M154.3 384.5h0M200.8 360.1h0M144.9 396.6h0M133.1 413.0h0M150.8 384.6h0M148.0 385.8h0M158.3 376.5h0M147.9 392.8h0M142.4 401.7h0M173.5 370.0h0M148.1 383.2h0M196.4 370.6h0M191.9 375.3h0M195.4 374.0h0M146.8 381.2h0M153.0 387.8h0M152.1 388.7h0M151.0 385.7h0M204.5 348.5h0M196.0 367.3h0M198.6 352.0h0M152.5 383.8h0M159.5 369.5h0M142.9 413.2h0M144.9 404.2h0M208.6 355.6h0M143.4 399.2h0M196.4 359.8h0M139.9 412.8h0M147.5 399.4h0M150.6 380.2h0M188.9 382.5h0M180.6 369.9h0M182.8 384.8h0M191.3 385.0h0M193.8 364.4h0M152.0 385.1h0M137.3 404.6h0M141.1 385.8h0M207.5 356.8h0M150.6 390.8h0M144.4 392.5h0M168.5 373.2h0M182.8 374.8h0M185.6 388.4h0M196.0 367.4h0M136.3 403.9h0M161.5 374.0h0M153.8 371.1h0M138.6 394.4h0M208.9 353.2h0M162.0 380.1h0M152.5 371.1h0M162.7 370.4h0M161.8 373.9h0M172.5 367.7h0M150.8 385.7h0M198.4 372.6h0M203.5 362.7h0M145.8 390.5h0M160.6 364.0h0M146.0 393.1h0M172.6 380.6h0M158.4 380.6h0M144.5 378.2h0M173.5 371.8h0M203.3 347.9h0M204.2 362.7h0M190.1 380.3h0M142.9 405.4h0M194.4 365.1h0M204.1 360.0h0M186.6 386.6h0M183.8 378.6h0M171.7 374.2h0M142.9 397.8h0M208.4 348.6h0M184.0 374.9h0M165.7 381.8h0M189.6 377.6h0M136.7 410.1h0M157.7 384.1h0M139.2 419.0h0M205.4 349.0h0M197.4 376.7h0M141.4 403.7h0M162.0 364.4h0M164.0 375.2h0M183.1 378.0h0M140.8 408.5h0M182.2 369.8h0M166.4 377.5h0M144.2 408.4h0M174.6 372.6h0M169.3 366.6h0M140.6 413.6h0M168.8 371.9h0M182.3 374.7h0M210.5 353.7h0M203.5 354.1h0M139.4 410.7h0M156.8 384.1h0M144.9 394.5h0M166.9 376.3h0M175.7 381.5h0M141.6 404.7h0M150.3 379.5h0M200.1 370.9h0M195.6 362.8h0M146.6 388.9h0M209.2 339.8h0M205.1 351.2h0M201.9 347.3h0M202.2 349.6h0M207.5 330.1h0M208.2 324.6h0M208.6 316.9h0M210.7 322.2h0M203.3 340.5h0M203.0 354.9h0M211.1 356.7h0M205.9 354.0h0M208.6 328.4h0M209.3 354.1h0M205.5 328.7h0M208.2 322.2h0M210.6 342.3h0M208.9 329.4h0M204.7 330.4h0M210.6 349.5h0M207.5 332.1h0M204.6 346.8h0M202.0 341.8h0M207.3 338.7h0M209.9 338.9h0M209.1 316.9h0M203.8 334.2h0M201.2 354.9h0M207.0 316.3h0M210.6 329.4h0M121.2 406.6h0M129.8 388.9h0M115.5 406.1h0M136.8 397.2h0M135.2 390.9h0M135.2 393.4h0M138.8 394.0h0M110.8 412.6h0M131.1 408.7h0M121.4 418.3h0M124.5 407.0h0M138.8 400.1h0M124.0 403.0h0M135.8 419.1h0M116.8 419.8h0M122.5 401.6h0M130.8 399.3h0M136.0 410.6h0M189.3 314.2h0M166.6 333.5h0M108.5 386.0h0M110.0 418.7h0M113.3 418.7h0M114.2 412.0h0M116.2 402.7h0M121.6 396.6h0M121.9 402.9h0M122.9 415.8h0M129.6 411.0h0M131.0 383.1h0M133.5 388.9h0M140.0 383.7h0M146.6 367.1h0M153.9 364.8h0M163.9 354.8h0M178.9 356.8h0M174.9 360.4h0M191.2 350.4h0M197.0 336.9h0M200.4 338.9h0M195.1 345.0h0M206.6 315.4h0M209.5 316.7h0M206.2 322.5h0" stroke="#1f77b4" stroke-width="2.4" stroke-linecap="round"/></g><g clip-path="url(#c21)"><path d="M298.5 420.6L349.5 420.6L349.5 374.5L344.7 371.6L338.0 367.7L332.2 363.9L328.4 364.8L322.6 370.6L316.8 374.5L313.0 380.2L310.1 388.9L306.2 398.5L302.4 406.2L299.5 412.0Z" fill="#1f77b4"/><path d="M348.0 419.2h0M344.2 377.3h0M346.6 391.7h0M341.2 387.2h0M336.7 405.3h0M343.5 410.0h0M342.1 394.4h0M348.2 399.7h0M343.1 400.5h0M348.3 406.4h0M338.4 384.5h0M339.6 410.0h0M344.1 397.4h0M346.8 401.3h0M345.0 388.6h0M342.5 413.8h0M345.6 373.1h0M343.4 380.3h0M335.6 373.1h0M341.1 372.7h0M331.4 365.9h0M332.5 373.2h0M327.1 382.4h0M330.0 367.1h0M325.5 371.3h0M324.7 370.3h0M330.3 367.8h0M321.9 376.2h0M320.6 377.9h0M319.0 376.8h0M320.8 377.1h0M316.8 379.3h0M319.4 376.7h0M316.0 381.6h0M312.5 385.8h0M320.1 383.0h0M314.5 395.7h0M311.2 396.8h0M307.7 397.1h0M310.3 398.3h0M306.1 402.1h0M307.3 399.9h0M307.9 399.6h0M310.2 410.4h0M308.1 411.3h0M301.6 419.4h0M301.4 415.2h0M299.9 416.0h0" stroke="#fff" stroke-width="1.5" stroke-linecap="round"/><path d="M349.4 416.8h0M349.2 411.1h0M349.5 402.7h0M349.6 383.7h0M349.7 387.9h0M349.7 406.6h0M349.1 376.1h0M349.0 414.1h0M349.5 411.0h0M349.2 403.9h0M349.6 419.7h0M349.3 412.0h0M349.3 399.2h0M349.4 395.5h0M349.6 378.0h0M349.5 377.0h0M349.9 380.6h0M349.5 387.6h0M349.8 413.6h0M349.5 417.3h0M349.6 389.2h0M349.0 387.1h0M350.0 392.0h0M350.0 395.3h0M349.7 394.0h0M349.8 383.1h0M349.9 389.0h0M349.8 390.5h0M349.3 393.4h0M349.6 412.5h0M349.6 414.8h0M350.1 380.2h0M349.3 418.7h0M349.9 381.9h0M349.8 408.6h0M349.9 381.2h0M349.9 402.6h0M349.9 381.6h0M349.8 403.2h0M349.6 416.0h0M349.5 380.4h0M349.9 397.6h0M349.2 409.6h0M350.1 414.0h0M350.0 386.7h0M349.8 376.6h0M349.0 388.6h0M349.0 379.8h0M349.6 375.3h0M350.1 402.8h0M349.0 397.7h0M350.1 380.4h0M349.2 408.3h0M349.6 414.9h0M349.9 394.2h0M349.9 393.9h0M349.5 398.1h0M349.9 377.5h0M350.0 393.6h0M349.6 413.5h0M347.8 371.6h0M347.5 371.8h0M346.0 371.4h0M345.1 372.4h0M347.2 373.3h0M347.2 372.6h0M346.9 371.0h0M342.3 370.3h0M343.6 371.0h0M341.2 370.0h0M339.3 368.1h0M343.7 369.9h0M344.2 368.8h0M340.8 369.2h0M340.2 369.6h0M344.2 366.5h0M339.6 367.9h0M336.2 367.0h0M335.4 360.5h0M338.6 363.9h0M334.5 365.7h0M337.9 363.4h0M333.3 363.1h0M339.2 365.8h0M333.1 364.5h0M334.6 360.8h0M329.6 362.5h0M330.9 364.8h0M328.8 361.1h0M331.6 364.3h0M329.7 364.3h0M324.8 368.4h0M324.8 366.8h0M321.9 369.7h0M324.3 365.4h0M323.2 370.7h0M328.0 365.9h0M325.1 368.8h0M326.0 366.0h0M325.4 366.1h0M324.3 364.4h0M317.6 366.7h0M318.9 371.4h0M320.4 367.9h0M319.6 370.5h0M318.0 373.9h0M314.0 367.3h0M317.6 374.5h0M315.9 372.0h0M317.7 373.0h0M314.2 379.1h0M308.8 374.1h0M313.1 379.0h0M316.0 375.6h0M312.4 379.1h0M311.6 379.3h0M310.1 375.2h0M314.3 377.4h0M314.7 376.3h0M311.3 383.2h0M310.8 387.2h0M310.0 386.1h0M311.9 384.3h0M312.7 382.5h0M311.8 385.4h0M309.9 380.8h0M302.8 384.0h0M310.6 384.9h0M311.4 383.3h0M308.3 385.9h0M310.6 387.5h0M309.0 390.2h0M306.3 394.0h0M307.1 396.3h0M305.7 392.4h0M308.1 395.3h0M308.3 389.6h0M306.3 397.1h0M309.2 390.2h0M302.1 391.1h0M308.3 393.2h0M304.0 396.3h0M309.0 388.7h0M302.6 389.1h0M306.6 396.3h0M302.0 400.9h0M299.7 403.0h0M304.8 401.3h0M302.2 404.2h0M301.2 403.4h0M297.8 402.5h0M304.1 399.5h0M304.4 397.7h0M303.3 405.4h0M303.2 399.0h0M304.8 402.1h0M300.8 410.6h0M298.1 410.4h0M299.8 411.7h0M298.8 410.2h0M301.5 405.8h0M301.0 408.8h0M299.2 409.9h0M299.1 410.9h0M299.9 413.3h0M299.3 415.6h0M296.2 419.8h0M296.2 413.1h0M297.7 415.4h0M295.6 418.9h0M299.4 414.7h0M294.9 411.7h0M299.5 415.4h0M299.5 416.2h0M299.5 415.3h0M333.5 364.7h0M338.9 363.3h0M304.8 385.9h0M305.8 398.6h0M331.3 359.3h0M348.6 368.2h0M297.7 418.1h0M300.7 392.7h0M332.1 362.9h0M343.4 369.4h0M296.4 410.4h0M300.3 397.8h0M299.8 386.5h0M328.1 363.0h0M313.2 371.6h0M329.2 361.4h0M336.6 365.8h0M332.0 358.2h0M295.5 393.4h0M287.2 418.2h0M347.8 365.9h0M304.8 383.2h0M334.7 352.0h0M309.4 377.8h0M311.7 369.2h0M299.4 410.7h0M318.2 370.1h0M330.6 361.8h0M346.1 345.6h0M308.8 382.9h0M316.4 370.5h0M338.3 360.5h0M314.2 376.1h0M293.4 399.6h0M340.3 360.0h0M335.5 362.7h0M303.2 397.9h0M324.6 368.1h0M300.2 400.3h0M328.7 364.1h0M294.1 409.2h0M297.7 393.5h0M335.0 357.1h0M327.5 356.4h0M293.0 417.5h0M309.0 385.7h0M336.5 360.0h0M294.1 414.3h0M328.4 359.9h0M338.1 359.0h0M336.2 355.4h0M341.4 369.1h0M311.2 382.8h0M342.4 367.1h0M319.1 372.1h0M305.6 385.8h0M314.5 362.4h0M320.4 364.7h0M308.2 381.4h0M323.3 362.6h0M312.7 375.8h0M312.6 380.4h0M315.6 375.3h0M294.5 416.5h0M319.0 364.7h0M341.0 364.0h0M318.5 360.6h0M327.3 365.8h0M289.7 408.6h0M329.3 362.6h0M296.1 412.6h0M304.3 389.0h0M288.1 416.8h0M343.9 365.3h0M317.0 361.7h0M302.5 387.1h0M329.0 353.5h0M310.0 373.0h0M340.5 365.4h0M334.0 364.7h0M331.2 355.1h0M301.5 407.0h0M296.3 420.4h0M316.2 372.6h0M311.3 379.1h0M290.7 409.1h0M311.4 372.6h0M328.0 355.3h0M299.2 401.9h0M304.2 392.6h0M308.4 382.8h0M312.0 373.9h0M292.3 414.3h0M295.2 412.2h0M322.1 365.5h0M290.8 409.7h0M295.1 402.0h0M345.5 354.7h0M325.4 350.0h0M327.6 364.3h0M315.1 372.0h0M336.3 360.6h0M327.9 361.9h0M294.4 402.6h0M313.8 367.0h0M318.1 356.8h0M332.3 357.2h0M347.2 368.8h0M294.2 395.6h0M297.7 403.4h0M290.5 410.1h0M308.1 392.7h0M304.2 381.1h0M304.3 402.2h0M335.5 365.0h0M317.1 370.9h0M305.6 398.6h0M316.5 361.0h0M296.7 407.4h0M310.3 382.1h0M289.6 406.7h0M290.2 410.0h0M293.4 397.8h0M311.7 375.8h0M299.2 394.9h0M313.1 379.8h0M326.8 364.7h0M325.7 363.9h0M297.0 401.8h0M348.7 369.8h0M295.3 416.0h0M344.3 351.5h0M294.5 400.0h0M297.6 413.8h0M319.6 370.4h0M326.4 362.1h0M301.9 406.7h0M344.3 371.3h0M296.9 406.8h0M319.5 367.3h0M300.1 389.5h0M332.2 360.0h0M293.2 419.5h0M292.9 408.5h0M299.4 389.8h0M333.7 363.7h0M299.7 407.1h0M303.2 391.0h0M322.9 367.6h0M305.9 384.1h0M323.9 367.6h0M303.1 397.5h0M300.5 409.6h0M299.7 402.9h0M316.9 365.8h0M294.1 419.7h0M326.1 366.5h0M297.1 399.2h0M323.2 354.9h0M317.2 363.9h0M329.2 363.8h0M320.6 371.7h0M296.6 401.5h0M332.7 362.3h0M329.1 358.7h0M310.0 376.1h0M294.6 402.2h0M295.7 400.2h0M294.2 403.0h0M297.7 410.3h0M339.9 351.8h0M338.2 357.0h0M332.9 361.0h0M302.0 387.2h0M311.7 367.6h0M326.4 362.5h0M310.3 381.9h0M331.0 362.4h0M305.8 386.9h0M341.4 363.0h0M309.4 379.4h0M299.3 407.2h0M308.3 380.2h0M297.7 406.1h0M299.7 404.3h0M324.1 356.6h0M338.2 355.4h0M314.3 361.7h0M296.8 416.9h0M313.5 372.9h0M303.9 381.8h0M305.2 387.7h0M337.6 350.5h0M299.0 394.2h0M342.5 359.4h0M305.6 392.2h0M343.2 363.8h0M317.9 369.5h0M318.8 356.8h0M306.7 377.5h0M349.1 354.1h0M297.9 416.1h0M306.8 381.9h0M292.5 410.6h0M292.0 411.5h0M306.7 393.5h0M309.1 383.5h0M311.7 370.4h0M306.5 395.6h0M343.5 364.0h0M298.3 414.0h0M347.6 372.7h0M306.0 389.1h0M319.2 372.7h0M301.8 405.8h0M300.6 397.0h0M330.7 355.7h0M311.0 379.6h0M349.5 368.9h0M301.1 397.2h0M306.4 391.6h0M294.0 403.4h0M324.7 364.2h0M338.2 356.0h0M302.6 393.6h0M314.9 369.2h0M313.7 376.4h0M313.6 369.1h0M295.3 417.1h0M331.6 363.8h0M342.9 342.1h0M338.3 319.4h0M332.8 348.4h0M345.1 335.4h0M343.1 336.7h0M331.5 328.7h0M337.4 333.4h0M339.7 327.8h0M349.1 332.9h0M339.5 319.5h0M343.3 329.9h0M343.1 347.6h0M327.4 330.9h0M326.1 341.7h0M325.9 347.2h0M338.7 335.5h0M334.0 337.8h0M329.2 335.2h0M346.3 316.6h0M335.8 331.1h0M343.6 339.2h0M332.9 346.6h0M291.7 415.1h0M257.7 420.4h0M283.3 418.5h0M274.2 420.5h0M279.2 412.3h0M287.6 414.3h0M285.9 395.1h0M267.4 405.7h0M270.8 406.1h0M290.0 412.0h0M282.1 404.0h0M281.3 393.8h0M293.6 415.9h0M283.4 405.7h0M284.4 414.0h0M275.8 400.7h0M283.2 416.0h0M284.7 391.7h0M272.0 413.5h0M279.6 402.4h0M280.5 410.2h0M289.6 409.7h0M260.4 414.8h0M283.5 402.8h0M281.3 405.1h0M246.6 362.9h0M241.8 419.7h0M255.2 409.7h0M258.1 404.9h0M261.0 407.7h0M264.5 407.2h0M265.8 398.9h0M266.4 413.9h0M255.2 418.7h0M257.6 418.7h0M262.9 417.8h0M275.4 413.9h0M276.4 416.8h0M280.3 406.2h0M283.1 388.5h0M285.6 384.1h0M288.0 378.9h0M290.8 386.0h0M293.7 388.9h0M298.0 379.3h0M303.3 366.8h0M313.9 353.3h0M321.6 329.2h0M325.5 326.4h0M329.9 331.2h0M335.7 318.7h0M340.9 314.2h0M347.2 323.5h0M348.6 332.1h0M342.8 317.7h0M346.6 346.6h0" stroke="#1f77b4" stroke-width="2.4" stroke-linecap="round"/></g><g clip-path="url(#c22)"><path d="M381.8 420.6L491.5 420.6L491.5 381.2L488.6 378.3L483.8 384.1L479.9 390.8L476.1 396.6L472.2 394.7L468.4 387.0L463.6 381.2L457.8 374.5L451.0 371.6L443.3 372.5L437.6 376.4L432.8 381.2L427.0 385.0L422.2 390.8L414.5 397.6L404.9 403.3L395.2 407.2L387.5 411.0L381.8 414.9Z" fill="#1f77b4"/><path d="M490.7 394.7h0M488.7 412.4h0M485.6 402.2h0M486.6 418.7h0M489.7 387.5h0M489.3 397.4h0M487.9 410.6h0M490.6 408.9h0M490.0 396.7h0M485.9 389.1h0M487.7 392.1h0M488.0 417.4h0M478.1 408.8h0M489.2 382.4h0M487.3 381.3h0M485.8 383.7h0M489.9 380.0h0M485.6 385.6h0M484.5 389.2h0M479.9 396.2h0M482.2 393.3h0M481.2 398.5h0M472.6 397.7h0M474.0 397.4h0M466.1 389.8h0M467.1 388.4h0M464.7 395.5h0M464.2 385.5h0M461.6 383.4h0M457.7 376.5h0M454.4 385.5h0M456.2 376.2h0M454.4 378.9h0M451.5 373.3h0M452.5 375.8h0M446.0 378.9h0M447.2 375.4h0M443.9 379.4h0M442.9 378.8h0M444.4 383.7h0M438.5 381.1h0M437.4 384.9h0M431.2 383.8h0M428.3 386.3h0M433.0 384.1h0M432.2 390.5h0M432.4 390.7h0M438.0 396.6h0M421.7 396.2h0M429.3 400.1h0M427.1 406.2h0M413.2 401.9h0M410.9 404.9h0M411.4 400.5h0M412.1 401.9h0M407.0 409.4h0M397.1 407.5h0M403.1 410.7h0M393.8 420.5h0M391.6 410.0h0M398.3 413.9h0M386.8 418.2h0M391.5 419.1h0M385.7 415.3h0M386.2 417.5h0" stroke="#fff" stroke-width="1.5" stroke-linecap="round"/><path d="M491.5 402.1h0M491.0 389.1h0M491.5 385.5h0M491.3 403.0h0M492.0 403.1h0M491.9 397.4h0M492.0 384.3h0M491.2 400.8h0M492.0 396.7h0M491.4 387.6h0M491.3 386.9h0M491.7 383.1h0M491.8 413.4h0M490.9 409.4h0M491.4 397.1h0M491.3 409.4h0M491.2 401.8h0M491.9 385.5h0M491.4 391.5h0M491.7 401.0h0M491.3 400.7h0M491.5 394.3h0M492.0 382.1h0M491.6 408.3h0M490.9 417.3h0M490.9 411.8h0M491.6 386.7h0M491.8 396.8h0M491.0 392.8h0M491.1 391.6h0M491.9 387.6h0M491.8 383.0h0M491.7 408.7h0M491.8 402.8h0M491.3 406.1h0M491.5 386.9h0M491.5 382.5h0M491.6 413.7h0M491.7 384.2h0M491.6 410.8h0M491.8 407.6h0M491.7 392.3h0M491.4 411.6h0M491.6 419.1h0M491.7 416.3h0M491.3 401.5h0M491.8 408.9h0M491.7 417.8h0M490.9 394.2h0M492.0 420.0h0M491.3 396.4h0M491.9 378.3h0M488.6 379.1h0M492.0 378.3h0M491.7 380.2h0M491.6 380.0h0M482.5 381.9h0M484.6 383.5h0M484.5 378.3h0M484.0 381.3h0M484.6 380.5h0M485.7 379.4h0M485.7 382.5h0M487.6 380.0h0M485.9 381.1h0M481.2 388.0h0M479.6 384.5h0M481.1 385.0h0M481.2 384.5h0M481.4 387.4h0M480.6 382.9h0M479.0 389.4h0M483.8 384.8h0M478.8 386.9h0M479.4 388.2h0M478.4 394.0h0M479.2 392.6h0M479.2 391.6h0M475.5 395.2h0M477.5 394.7h0M474.2 391.6h0M475.6 394.2h0M474.7 393.7h0M476.9 391.8h0M474.9 395.0h0M472.4 394.9h0M474.5 394.8h0M472.6 395.5h0M476.5 386.7h0M474.3 395.6h0M471.4 389.6h0M477.4 389.2h0M470.8 392.0h0M471.2 391.4h0M468.1 387.2h0M473.7 385.6h0M468.8 388.8h0M470.3 389.1h0M469.3 389.1h0M469.2 387.6h0M472.9 393.7h0M465.9 381.5h0M466.1 383.4h0M464.1 382.0h0M469.1 385.1h0M465.0 382.1h0M468.9 378.5h0M465.6 383.2h0M464.8 382.6h0M465.4 384.0h0M462.9 371.5h0M459.8 377.2h0M464.6 378.2h0M462.8 380.8h0M460.6 376.1h0M458.5 375.2h0M462.2 379.2h0M464.4 380.0h0M461.0 377.1h0M460.4 374.5h0M460.8 375.2h0M454.3 369.8h0M457.2 374.5h0M457.0 365.7h0M453.8 372.6h0M452.8 371.3h0M453.3 370.7h0M451.8 370.1h0M455.5 372.5h0M458.5 369.8h0M446.3 371.9h0M448.1 365.5h0M449.0 370.4h0M443.5 373.0h0M449.2 371.6h0M448.6 371.1h0M444.2 372.5h0M449.5 372.3h0M445.7 367.3h0M447.1 372.5h0M438.2 374.2h0M438.8 373.3h0M439.9 373.7h0M442.1 373.0h0M439.5 375.1h0M442.6 373.1h0M437.4 373.6h0M434.8 369.1h0M439.1 374.6h0M436.8 377.3h0M433.8 380.6h0M434.2 379.7h0M431.3 376.6h0M432.0 378.1h0M428.0 367.6h0M433.1 375.2h0M434.2 375.6h0M435.6 379.2h0M426.3 383.9h0M430.5 381.1h0M430.2 380.8h0M431.4 381.2h0M425.3 381.5h0M432.2 380.9h0M430.2 383.4h0M427.7 383.8h0M429.5 382.0h0M422.3 389.3h0M424.4 386.9h0M422.9 389.5h0M422.0 389.4h0M425.2 387.6h0M424.4 386.1h0M420.8 386.9h0M423.1 389.8h0M422.7 387.0h0M423.2 389.0h0M417.6 394.0h0M415.2 394.9h0M414.4 396.8h0M419.3 393.9h0M418.7 393.9h0M415.0 395.7h0M420.8 392.7h0M416.6 393.4h0M408.9 390.1h0M415.9 393.5h0M414.6 390.7h0M417.1 395.7h0M416.9 389.5h0M412.1 399.0h0M411.5 398.5h0M411.1 396.4h0M406.4 400.7h0M411.4 399.2h0M406.0 402.1h0M407.4 399.7h0M405.9 399.9h0M412.4 396.5h0M410.0 396.7h0M411.1 400.3h0M408.1 400.8h0M410.1 393.1h0M412.2 396.1h0M405.0 403.1h0M402.6 402.4h0M401.7 404.3h0M403.2 404.2h0M402.7 404.6h0M395.2 405.3h0M397.7 405.7h0M394.5 404.8h0M402.9 401.0h0M395.7 400.7h0M400.9 404.9h0M394.6 399.0h0M404.1 402.8h0M399.7 405.1h0M395.0 407.4h0M391.3 407.7h0M385.2 405.9h0M388.0 410.5h0M394.1 407.1h0M389.4 410.6h0M394.4 408.2h0M386.6 403.6h0M383.5 400.7h0M388.3 408.6h0M393.9 406.1h0M380.8 413.4h0M387.4 410.9h0M382.2 413.2h0M381.4 413.5h0M387.0 411.7h0M385.4 411.2h0M385.4 411.2h0M382.7 412.4h0M379.2 407.5h0M382.2 420.5h0M382.0 418.8h0M380.0 416.7h0M381.4 416.2h0M378.7 415.2h0M379.6 419.0h0M381.6 416.3h0M380.9 420.4h0M468.0 378.5h0M474.9 394.4h0M482.8 384.3h0M449.2 366.6h0M461.7 368.1h0M469.0 379.9h0M456.0 370.4h0M491.5 387.8h0M453.5 371.7h0M437.9 371.9h0M389.1 407.3h0M431.2 373.0h0M385.6 411.7h0M426.6 381.4h0M423.9 378.1h0M401.1 403.0h0M414.9 390.8h0M467.6 383.0h0M388.7 409.5h0M479.1 381.4h0M415.9 391.5h0M471.8 378.0h0M403.1 402.9h0M431.0 379.4h0M430.7 377.0h0M414.1 388.5h0M462.1 379.5h0M399.2 396.4h0M408.9 400.0h0M414.3 392.8h0M403.1 397.7h0M458.1 366.8h0M459.5 368.3h0M432.4 380.6h0M430.8 373.9h0M491.4 404.5h0M449.0 371.1h0M393.0 408.0h0M437.8 371.2h0M484.2 380.1h0M481.6 382.1h0M458.6 369.2h0M418.2 394.3h0M402.5 403.4h0M453.8 369.0h0M491.7 405.6h0M396.0 402.5h0M473.2 384.4h0M428.2 376.1h0M421.4 378.5h0M469.7 388.0h0M453.7 370.2h0M463.4 367.0h0M472.2 391.6h0M407.5 398.7h0M477.8 389.2h0M410.3 392.8h0M410.7 397.5h0M473.6 393.0h0M445.2 365.8h0M429.9 375.3h0M480.2 383.5h0M489.0 372.5h0M419.6 388.5h0M403.3 398.3h0M476.5 395.5h0M464.8 369.9h0M479.9 389.7h0M387.9 404.5h0M415.9 395.4h0M469.8 384.9h0M439.0 373.9h0M461.4 375.4h0M395.5 405.8h0M398.5 395.5h0M387.1 400.5h0M441.6 369.3h0M479.6 377.7h0M438.1 370.6h0M406.1 397.5h0M455.4 372.1h0M392.0 407.1h0M394.9 402.1h0M465.0 381.6h0M400.9 400.8h0M441.2 367.0h0M385.7 410.8h0M457.3 366.7h0M386.9 406.0h0M397.5 405.9h0M471.7 389.0h0M386.0 405.0h0M393.8 407.6h0M485.0 380.1h0M391.9 404.6h0M435.2 378.8h0M418.2 394.1h0M424.0 384.6h0M421.2 377.9h0M476.1 393.9h0M395.7 399.0h0M396.3 404.1h0M423.6 385.5h0M464.8 377.2h0M406.0 401.6h0M469.8 378.3h0M443.2 371.3h0M447.0 371.7h0M478.2 391.4h0M411.5 397.2h0M467.6 364.8h0M425.2 386.5h0M476.4 395.1h0M491.9 393.3h0M472.4 392.0h0M486.1 377.8h0M460.1 365.7h0M464.8 375.8h0M413.8 394.1h0M426.2 375.1h0M381.7 413.3h0M486.6 375.7h0M454.0 372.0h0M392.3 406.4h0M480.8 384.8h0M464.2 380.4h0M490.0 372.5h0M390.9 397.6h0M407.8 398.9h0M431.6 380.9h0M438.0 374.4h0M484.7 378.7h0M442.9 367.6h0M427.4 380.5h0M404.9 395.3h0M491.4 387.8h0M427.2 376.0h0M396.1 406.8h0M418.6 389.8h0M423.6 380.8h0M414.1 393.3h0M475.0 394.6h0M481.1 382.5h0M395.2 397.9h0M420.7 379.6h0M476.9 392.9h0M458.4 375.0h0M461.5 366.8h0M479.4 384.0h0M446.1 368.9h0M425.0 377.5h0M391.6 400.3h0M421.1 391.8h0M434.9 377.9h0M419.7 388.1h0M419.2 393.2h0M447.9 369.2h0M445.0 370.1h0M469.6 388.6h0M407.1 389.6h0M474.2 382.3h0M409.0 393.9h0M458.4 373.1h0M471.3 386.6h0M403.2 401.0h0M491.7 409.3h0M473.8 393.0h0M466.6 382.6h0M480.0 388.7h0M472.4 393.6h0M491.6 393.6h0M477.5 375.4h0M491.5 391.2h0M423.2 389.6h0M479.1 390.3h0M489.1 375.1h0M458.3 370.3h0M387.4 407.1h0M455.7 371.4h0M385.1 409.9h0M430.3 381.2h0M474.3 394.9h0M397.0 399.9h0M473.0 393.3h0M463.6 371.9h0M392.7 404.8h0M426.7 381.2h0M390.1 405.5h0M412.0 386.4h0M391.8 400.3h0M437.6 372.6h0M487.8 379.1h0M423.7 381.5h0M387.3 406.8h0M415.2 396.8h0M454.0 371.2h0M452.5 371.6h0M415.3 390.8h0M473.2 394.6h0M451.2 367.5h0M414.4 385.4h0M481.4 381.8h0M475.1 380.9h0M416.4 395.7h0M469.8 384.3h0M444.2 364.4h0M384.6 407.0h0M477.2 383.3h0M456.9 370.1h0M425.3 377.6h0M418.1 388.1h0M417.9 387.4h0M476.7 376.4h0M431.6 380.4h0M457.6 371.2h0M491.4 385.0h0M471.0 389.5h0M428.7 379.6h0M467.2 377.3h0M456.6 372.4h0M475.7 395.5h0M391.5 402.5h0M455.0 367.8h0M417.4 381.7h0M393.1 398.8h0M404.7 398.5h0M464.3 375.3h0M431.0 381.2h0M407.7 401.2h0M458.3 370.8h0M477.2 389.0h0M429.0 382.3h0M471.5 387.0h0M479.3 389.9h0M479.3 383.6h0M456.8 373.5h0M421.8 389.9h0M441.6 372.5h0M433.0 375.8h0M417.2 387.4h0M396.4 400.1h0M473.5 392.4h0M404.9 398.5h0M381.4 412.3h0M475.2 394.4h0M418.3 390.2h0M483.1 374.6h0M488.6 377.8h0M468.4 380.4h0M454.7 370.3h0M467.5 354.5h0M450.7 366.3h0M481.9 375.8h0M481.2 378.7h0M463.5 360.4h0M459.6 375.4h0M458.9 352.7h0M440.8 359.2h0M434.3 371.6h0M456.9 358.8h0M468.2 380.9h0M419.4 383.8h0M442.2 358.5h0M439.1 373.6h0M491.0 372.1h0M442.4 370.0h0M481.7 358.7h0M442.7 364.0h0M478.2 359.6h0M464.2 371.6h0M481.1 384.3h0M424.5 377.8h0M448.3 361.8h0M464.2 377.5h0M483.7 383.8h0M430.1 366.0h0M418.6 387.9h0M466.2 374.5h0M473.2 370.4h0M455.4 371.7h0M480.3 364.1h0M475.4 373.0h0M482.2 368.9h0M431.6 367.1h0M468.3 365.0h0M473.2 386.6h0M418.2 390.2h0M476.5 363.1h0M421.0 389.9h0M489.9 365.0h0M385.6 410.1h0M394.2 394.6h0M406.0 391.9h0M395.9 395.3h0M384.7 403.2h0M421.8 390.5h0M410.5 387.7h0M423.3 387.8h0M394.3 393.4h0M385.0 396.5h0M383.4 412.5h0M405.8 397.0h0M410.1 388.8h0M391.2 404.9h0M410.3 388.4h0M394.6 403.0h0M415.3 391.7h0M404.2 393.6h0M406.5 388.8h0M390.3 401.1h0M385.2 396.9h0M382.9 407.5h0M386.3 399.5h0M397.2 403.8h0M394.0 395.9h0M415.6 393.9h0M396.2 398.1h0M381.8 406.7h0M416.2 386.0h0M410.8 388.2h0M394.7 406.3h0M390.0 408.4h0M414.2 396.4h0M406.1 388.6h0M404.4 403.4h0M406.8 396.1h0M394.2 393.8h0M391.3 402.9h0M398.9 398.8h0M392.2 401.9h0M448.7 314.2h0M444.3 324.4h0M479.9 321.9h0M473.7 341.7h0M434.1 336.4h0M441.4 337.3h0M429.3 340.8h0M428.3 349.8h0M437.2 350.4h0M438.5 353.3h0M430.3 359.1h0M427.0 362.3h0M423.1 365.8h0M397.6 372.5h0M405.2 377.9h0M393.3 382.7h0M381.8 385.0h0M389.1 388.9h0M385.6 392.7h0M394.9 389.3h0M486.6 355.8h0M488.6 357.1h0M468.0 356.2h0M466.4 361.6h0M473.2 362.0h0M458.7 356.6h0M453.4 357.1h0M449.1 358.5h0" stroke="#1f77b4" stroke-width="2.4" stroke-linecap="round"/></g><g clip-path="url(#c23)"><path d="M578.6 420.6L632.1 420.6L632.1 376.4L627.6 373.5L620.9 371.2L613.2 369.6L605.5 371.2L597.8 373.1L590.1 376.0L584.3 380.2L580.5 386.0L579.0 394.7Z" fill="#1f77b4"/><path d="M628.7 409.2h0M630.8 406.8h0M630.9 386.2h0M630.9 392.9h0M619.2 406.3h0M628.2 399.9h0M621.9 378.5h0M630.3 400.6h0M630.3 414.9h0M620.1 419.6h0M631.0 420.2h0M626.9 408.7h0M624.2 414.0h0M629.5 393.4h0M630.8 419.6h0M621.6 383.3h0M628.2 375.2h0M626.0 375.2h0M621.2 375.4h0M619.5 380.3h0M618.8 372.8h0M617.9 374.1h0M614.5 372.5h0M607.3 373.0h0M612.5 372.7h0M610.9 373.9h0M600.3 382.9h0M600.5 379.7h0M602.2 373.3h0M593.5 376.2h0M599.9 381.6h0M593.8 380.9h0M587.4 380.3h0M589.2 384.7h0M586.5 384.1h0M591.1 385.0h0M582.7 392.3h0M583.1 386.6h0M581.6 394.5h0M583.1 397.2h0M581.5 406.9h0M581.1 400.1h0M585.6 396.3h0M588.6 420.6h0M585.8 395.6h0M589.7 404.0h0M583.8 404.3h0M585.0 412.1h0" stroke="#fff" stroke-width="1.5" stroke-linecap="round"/><path d="M632.3 406.3h0M632.2 418.6h0M631.7 384.0h0M632.3 400.9h0M632.5 397.9h0M632.5 415.9h0M632.3 414.2h0M632.2 412.4h0M632.3 402.1h0M632.2 383.1h0M631.9 376.5h0M632.1 402.5h0M632.6 382.5h0M632.3 419.9h0M632.2 410.0h0M631.9 387.7h0M632.1 399.7h0M632.6 390.8h0M632.3 418.6h0M631.8 399.7h0M632.4 408.0h0M632.4 389.7h0M631.5 381.9h0M631.9 380.9h0M632.0 404.4h0M632.2 382.7h0M631.6 402.2h0M632.6 412.7h0M632.2 407.2h0M632.4 386.4h0M632.3 382.2h0M632.2 385.3h0M631.8 402.2h0M632.4 383.8h0M632.4 401.0h0M632.5 396.0h0M632.1 420.4h0M632.0 411.1h0M632.2 395.2h0M632.5 388.2h0M631.6 407.3h0M632.3 418.2h0M632.0 389.1h0M631.7 418.4h0M632.5 381.0h0M631.6 403.2h0M632.4 396.1h0M632.3 388.3h0M631.6 382.0h0M632.4 378.7h0M631.9 396.2h0M631.9 418.1h0M631.6 401.6h0M631.5 384.8h0M632.4 384.6h0M632.6 407.0h0M632.1 405.5h0M629.2 375.2h0M629.4 374.3h0M629.8 374.5h0M632.5 374.1h0M631.9 367.4h0M630.2 372.5h0M629.3 374.3h0M626.4 373.3h0M628.1 364.9h0M628.4 370.7h0M624.3 369.7h0M622.9 372.5h0M626.6 371.9h0M623.4 371.1h0M624.9 373.1h0M626.5 370.6h0M615.3 367.7h0M613.3 369.1h0M616.8 368.4h0M616.9 369.1h0M619.1 370.0h0M618.3 370.3h0M614.4 365.1h0M618.4 365.8h0M619.3 371.2h0M618.3 369.5h0M619.3 371.0h0M609.2 370.8h0M607.3 368.7h0M611.2 369.7h0M605.4 366.7h0M612.6 369.2h0M608.1 365.3h0M606.7 371.1h0M611.7 369.8h0M606.2 370.7h0M611.7 369.9h0M597.4 370.1h0M602.7 371.5h0M600.7 372.3h0M601.1 372.8h0M601.4 370.8h0M602.0 372.2h0M604.3 370.0h0M601.4 363.9h0M605.1 370.6h0M605.5 371.5h0M593.9 374.9h0M592.1 373.4h0M591.2 375.1h0M591.1 373.2h0M590.6 375.6h0M590.8 375.7h0M590.9 376.1h0M593.8 372.0h0M592.3 371.7h0M594.6 368.9h0M588.1 376.7h0M584.1 379.5h0M582.5 376.1h0M587.5 378.3h0M583.1 378.4h0M588.9 377.5h0M584.7 375.3h0M585.3 378.4h0M584.4 375.7h0M583.1 382.8h0M583.2 382.3h0M580.8 382.8h0M582.0 384.5h0M578.9 382.8h0M581.2 381.5h0M579.4 378.2h0M581.3 384.9h0M584.0 381.1h0M579.2 386.1h0M575.8 385.8h0M578.9 393.5h0M580.1 391.0h0M577.2 390.6h0M577.2 389.0h0M580.1 386.7h0M580.3 388.1h0M579.4 392.4h0M576.7 386.3h0M576.2 391.9h0M579.3 389.5h0M576.5 397.6h0M579.1 418.6h0M577.7 404.8h0M576.3 418.1h0M574.0 400.5h0M577.9 395.0h0M578.2 402.8h0M578.4 404.2h0M577.8 420.0h0M576.5 412.4h0M579.0 411.3h0M578.8 400.4h0M579.2 416.5h0M579.0 414.8h0M578.9 409.6h0M572.8 418.2h0M576.2 400.5h0M578.2 398.5h0M578.3 419.5h0M573.5 396.2h0M576.8 413.0h0M575.6 401.5h0M578.0 419.4h0M574.8 417.7h0M577.0 419.6h0M578.8 400.6h0M578.4 397.5h0M577.1 403.8h0M574.4 410.8h0M578.5 419.9h0M578.2 400.8h0M579.1 400.0h0M576.0 407.3h0M588.7 369.0h0M577.5 407.1h0M565.9 396.3h0M589.4 374.8h0M578.7 399.0h0M576.2 401.0h0M573.6 397.4h0M597.4 362.2h0M564.8 397.5h0M616.1 367.1h0M563.8 394.5h0M583.5 375.8h0M581.0 381.5h0M618.2 366.4h0M566.9 393.8h0M592.6 361.6h0M578.2 377.7h0M573.8 413.9h0M574.7 371.4h0M565.3 387.6h0M599.6 371.3h0M627.7 360.8h0M611.2 356.6h0M613.1 355.9h0M598.0 349.2h0M603.5 358.8h0M568.1 394.1h0M588.0 375.3h0M616.4 368.5h0M599.3 370.1h0M570.5 408.6h0M619.1 356.0h0M586.5 377.3h0M572.7 400.2h0M578.1 400.2h0M576.8 410.6h0M621.9 362.2h0M608.7 350.1h0M628.5 367.4h0M612.2 363.4h0M564.5 401.8h0M575.2 413.5h0M626.8 370.8h0M574.6 397.7h0M616.8 368.5h0M577.7 403.4h0M576.6 373.1h0M593.6 353.7h0M577.6 372.5h0M572.4 387.8h0M582.5 377.1h0M569.9 414.9h0M592.3 368.9h0M576.4 406.1h0M569.2 420.6h0M577.9 379.4h0M577.0 395.2h0M574.2 395.0h0M626.7 370.7h0M613.8 364.0h0M604.0 367.3h0M577.3 413.6h0M581.2 383.8h0M623.5 361.3h0M574.3 390.4h0M576.5 381.1h0M628.0 372.7h0M564.9 409.5h0M609.0 369.6h0M597.3 367.4h0M577.4 413.6h0M571.2 392.5h0M627.7 364.9h0M603.8 369.7h0M571.4 386.4h0M627.3 360.9h0M606.9 366.8h0M586.5 375.3h0M562.3 399.4h0M561.4 417.4h0M588.6 371.4h0M625.4 372.4h0M603.7 370.6h0M589.6 374.1h0M579.1 390.6h0M613.6 366.0h0M598.4 366.9h0M626.6 368.1h0M576.4 412.7h0M593.0 372.7h0M570.3 400.7h0M611.9 367.3h0M565.7 395.1h0M578.2 412.1h0M623.1 359.5h0M576.1 401.7h0M591.2 372.6h0M585.6 378.0h0M591.4 369.1h0M590.7 362.5h0M589.3 371.1h0M583.3 371.0h0M577.3 394.0h0M588.3 372.1h0M612.1 369.0h0M575.6 414.6h0M578.1 375.0h0M597.3 361.3h0M559.1 418.4h0M604.9 367.0h0M568.7 409.0h0M632.4 379.4h0M560.8 404.9h0M585.1 377.2h0M586.3 374.5h0M574.2 390.7h0M577.2 391.7h0M629.2 366.7h0M616.0 359.3h0M567.8 414.6h0M602.6 365.5h0M621.1 365.5h0M576.6 398.6h0M585.7 375.7h0M582.8 380.1h0M578.7 404.9h0M587.1 367.1h0M632.2 417.6h0M593.6 353.3h0M608.3 365.5h0M577.1 369.5h0M577.1 387.2h0M614.4 358.8h0M575.4 405.7h0M593.4 360.5h0M577.2 412.8h0M632.4 393.2h0M589.8 360.5h0M577.4 405.5h0M609.1 351.6h0M626.9 368.2h0M611.2 369.3h0M575.0 380.1h0M598.5 368.7h0M615.3 364.7h0M632.1 403.9h0M622.3 368.2h0M576.4 369.4h0M576.4 417.6h0M627.2 371.8h0M617.5 350.1h0M593.1 372.9h0M613.6 362.5h0M587.5 374.1h0M578.9 397.7h0M572.9 395.4h0M570.5 405.9h0M575.0 411.9h0M596.7 370.3h0M570.2 415.7h0M614.6 367.6h0M620.3 353.9h0M593.4 365.3h0M610.5 367.7h0M602.5 370.8h0M608.5 355.9h0M572.0 375.0h0M624.8 365.5h0M579.6 370.0h0M576.9 394.8h0M577.7 395.0h0M622.5 360.3h0M609.5 364.6h0M579.0 375.8h0M595.9 372.9h0M603.9 368.9h0M573.1 418.7h0M621.7 370.3h0M570.2 403.1h0M578.7 396.8h0M615.6 369.2h0M632.1 398.5h0M577.1 384.9h0M579.5 377.7h0M623.2 368.8h0M578.5 393.4h0M613.6 368.6h0M592.9 369.4h0M613.5 365.3h0M573.6 419.7h0M622.7 366.9h0M579.7 373.8h0M617.5 363.0h0M606.6 351.2h0M627.6 369.4h0M564.3 404.8h0M573.3 382.4h0M601.1 370.4h0M567.8 415.2h0M591.8 365.0h0M605.8 367.5h0M620.5 362.4h0M606.7 347.7h0M616.7 351.7h0M626.4 354.2h0M580.2 360.2h0M598.4 364.6h0M605.7 358.9h0M597.6 347.9h0M589.7 354.2h0M609.9 345.3h0M594.6 353.2h0M613.4 360.3h0M610.7 345.3h0M587.4 370.5h0M599.0 360.0h0M609.3 358.8h0M607.6 350.1h0M592.3 366.4h0M592.6 351.1h0M586.9 357.9h0M625.7 370.3h0M598.4 354.6h0M586.7 353.9h0M616.7 355.1h0M623.2 364.0h0M607.1 362.6h0M630.0 372.4h0M619.1 369.4h0M601.4 358.0h0M616.9 366.1h0M586.8 358.7h0M597.1 364.8h0M614.6 369.4h0M608.9 363.0h0M577.4 364.8h0M602.9 369.7h0M586.3 356.6h0M595.3 346.6h0M585.7 360.8h0M570.3 392.9h0M557.8 388.5h0M570.6 391.6h0M565.1 400.2h0M566.1 403.7h0M544.6 419.1h0M563.2 385.4h0M565.1 418.8h0M556.6 393.5h0M560.9 383.2h0M568.5 397.1h0M558.8 383.3h0M570.7 385.9h0M561.2 405.2h0M570.7 383.8h0M556.8 412.6h0M553.3 407.1h0M553.4 415.5h0M549.9 386.6h0M568.4 414.5h0M548.8 418.0h0M564.3 418.9h0M564.4 401.3h0M566.0 389.1h0M553.2 406.7h0M556.1 409.8h0M561.4 386.1h0M571.7 396.5h0M549.0 405.8h0M549.8 413.6h0M560.4 389.2h0M552.2 415.9h0M565.6 412.8h0M551.2 391.9h0M565.5 404.6h0M521.8 361.6h0M524.3 357.7h0M527.0 346.2h0M558.0 345.0h0M575.1 331.6h0M584.0 331.7h0M594.9 329.8h0M591.1 335.4h0M596.3 335.0h0M599.2 334.1h0M595.5 338.9h0M606.5 336.9h0M624.4 314.8h0M583.4 323.5h0M568.6 355.6h0M567.0 364.8h0M569.5 367.1h0M550.3 372.0h0M545.9 385.0h0M527.6 416.8h0M535.9 411.4h0M542.0 415.8h0M539.1 394.7h0M556.4 387.5h0M561.6 372.5h0M564.1 375.4h0" stroke="#1f77b4" stroke-width="2.4" stroke-linecap="round"/></g><g clip-path="url(#c24)"><path d="M722.4 420.6L772.5 420.6L772.5 377.3L766.7 371.6L760.9 367.7L755.1 365.4L749.4 363.9L743.6 365.4L737.8 367.7L732.0 373.5L726.3 383.1L723.4 394.7L722.0 408.1Z" fill="#1f77b4"/><path d="M755.5 395.1h0M766.4 403.8h0M770.9 420.5h0M768.7 395.9h0M770.0 390.8h0M770.0 387.0h0M760.1 393.5h0M770.6 390.3h0M771.6 381.4h0M770.7 405.1h0M768.8 412.4h0M770.7 377.7h0M770.8 382.6h0M763.5 389.7h0M767.9 383.9h0M760.7 377.9h0M767.7 375.3h0M752.3 388.5h0M760.1 369.6h0M757.8 378.5h0M756.4 372.6h0M756.6 377.1h0M754.3 366.0h0M746.1 385.4h0M744.4 368.3h0M745.0 368.0h0M739.9 370.4h0M740.4 367.5h0M735.8 375.5h0M736.7 370.4h0M738.9 370.3h0M735.6 379.5h0M732.6 376.2h0M732.3 381.2h0M728.4 383.8h0M728.1 384.3h0M727.0 393.6h0M729.1 393.7h0M730.5 394.2h0M727.7 403.4h0M724.2 398.5h0M727.3 404.9h0M728.5 404.2h0M729.4 415.8h0M724.2 415.8h0M724.4 411.2h0M730.0 409.2h0" stroke="#fff" stroke-width="1.5" stroke-linecap="round"/><path d="M772.2 385.8h0M773.0 379.2h0M772.4 398.3h0M772.5 413.5h0M773.0 412.9h0M772.3 408.6h0M772.5 377.6h0M772.5 401.6h0M772.1 391.9h0M772.8 383.7h0M772.7 408.2h0M772.8 403.8h0M772.6 391.6h0M772.5 393.6h0M772.1 396.0h0M772.7 413.3h0M772.2 381.3h0M771.9 406.8h0M772.0 393.4h0M772.8 411.8h0M771.9 407.7h0M772.0 385.8h0M773.0 412.3h0M772.6 383.8h0M772.5 386.0h0M772.8 394.7h0M772.0 393.6h0M773.0 378.5h0M772.3 390.8h0M772.5 384.2h0M772.4 408.9h0M772.5 409.1h0M772.4 384.5h0M773.0 389.8h0M772.3 393.5h0M773.0 391.4h0M772.3 394.9h0M772.4 379.1h0M772.4 385.2h0M771.9 389.4h0M772.4 381.7h0M773.0 415.6h0M773.0 413.6h0M773.0 417.3h0M772.3 418.9h0M772.7 420.4h0M772.3 378.5h0M772.9 402.4h0M772.1 393.7h0M772.5 405.7h0M772.7 400.6h0M772.1 387.7h0M772.8 383.0h0M772.4 406.4h0M772.3 398.7h0M772.4 395.3h0M768.3 371.7h0M772.7 369.3h0M769.8 375.2h0M772.0 376.6h0M770.1 374.7h0M770.5 373.2h0M768.2 373.1h0M770.3 369.6h0M771.7 377.2h0M767.4 371.0h0M766.9 372.2h0M765.8 366.3h0M764.1 369.9h0M762.6 368.9h0M762.3 368.3h0M765.6 369.0h0M769.0 367.2h0M762.0 368.1h0M763.6 369.8h0M764.6 366.0h0M758.4 362.6h0M759.0 366.9h0M756.2 363.6h0M760.6 363.4h0M758.0 366.6h0M757.9 366.6h0M756.8 366.6h0M758.7 366.9h0M751.6 361.3h0M753.4 364.2h0M751.8 358.2h0M754.5 364.0h0M754.6 365.7h0M752.6 363.9h0M751.1 364.1h0M748.2 361.6h0M743.9 365.4h0M746.1 355.1h0M747.0 359.9h0M748.6 364.5h0M744.8 365.0h0M744.7 355.8h0M739.5 366.5h0M738.7 364.3h0M741.7 360.9h0M734.2 357.6h0M741.7 366.0h0M741.2 362.4h0M743.1 365.8h0M737.2 358.9h0M735.8 369.5h0M730.5 369.9h0M736.2 370.1h0M735.5 368.1h0M735.4 369.8h0M733.0 369.6h0M737.0 367.7h0M733.3 369.9h0M725.6 364.7h0M734.4 369.6h0M735.0 366.4h0M727.3 381.8h0M729.6 373.3h0M724.5 373.2h0M727.1 380.5h0M728.9 378.6h0M729.9 375.0h0M727.4 381.0h0M728.7 380.1h0M728.9 378.0h0M728.9 373.1h0M721.3 375.8h0M725.1 374.0h0M728.2 378.9h0M726.6 382.1h0M726.4 382.4h0M724.5 387.2h0M719.4 390.9h0M719.2 392.8h0M723.9 394.1h0M721.6 384.3h0M722.6 391.5h0M725.2 389.7h0M720.1 393.5h0M726.1 384.1h0M722.0 393.9h0M724.3 386.2h0M724.7 386.4h0M726.5 384.2h0M724.5 385.0h0M725.0 385.4h0M726.2 384.5h0M714.7 398.3h0M718.5 406.0h0M722.9 402.4h0M721.0 398.9h0M716.8 404.3h0M722.5 396.1h0M721.3 395.0h0M721.9 404.4h0M718.9 403.5h0M723.1 401.7h0M722.8 395.9h0M720.0 397.8h0M716.3 396.1h0M721.5 407.1h0M719.0 396.8h0M722.5 407.1h0M721.8 405.2h0M721.2 399.5h0M722.5 415.7h0M722.2 410.3h0M721.0 416.2h0M719.0 410.8h0M720.7 420.4h0M720.3 413.8h0M721.5 419.7h0M720.9 412.8h0M721.6 411.0h0M717.0 411.0h0M720.2 414.0h0M720.0 409.3h0M721.8 412.4h0M722.0 415.1h0M720.1 412.7h0M718.4 417.1h0M734.6 363.4h0M722.2 400.8h0M708.2 398.5h0M711.5 413.6h0M752.4 364.0h0M738.4 364.6h0M739.6 366.1h0M728.0 379.2h0M716.8 406.9h0M742.2 362.6h0M755.9 356.1h0M722.3 399.1h0M711.0 392.1h0M721.8 419.6h0M741.6 353.9h0M720.1 407.6h0M755.0 364.6h0M714.9 409.1h0M714.6 406.4h0M770.3 373.9h0M736.7 354.4h0M770.9 373.8h0M768.9 347.3h0M738.0 364.0h0M764.0 363.7h0M717.7 417.0h0M717.4 395.8h0M734.4 368.8h0M764.3 367.8h0M738.4 363.1h0M713.3 408.1h0M740.0 366.9h0M766.2 355.4h0M762.8 366.9h0M757.3 363.3h0M748.9 359.8h0M749.5 359.8h0M717.7 398.8h0M718.3 397.7h0M750.4 354.1h0M737.7 366.0h0M729.9 376.7h0M717.8 396.6h0M719.9 399.5h0M759.4 358.5h0M743.8 364.9h0M759.9 365.9h0M732.5 369.0h0M763.7 366.6h0M708.1 415.0h0M752.4 361.5h0M722.0 393.6h0M728.2 376.3h0M758.4 360.2h0M719.2 399.3h0M755.9 363.5h0M741.0 354.7h0M737.3 367.7h0M720.7 394.2h0M722.0 408.6h0M742.0 355.6h0M719.6 404.9h0M722.1 401.3h0M761.0 366.0h0M727.0 378.1h0M771.7 358.4h0M742.7 347.4h0M743.8 346.7h0M758.8 366.3h0M757.5 340.1h0M726.4 378.3h0M718.5 388.4h0M747.2 360.9h0M734.8 364.2h0M760.4 361.1h0M765.8 370.4h0M722.6 402.2h0M761.2 358.2h0M716.4 395.3h0M715.3 405.4h0M715.0 413.2h0M764.9 344.8h0M723.8 386.3h0M770.3 370.2h0M740.8 358.7h0M717.3 418.2h0M704.4 420.0h0M744.2 354.5h0M732.9 354.7h0M703.3 408.5h0M745.9 346.0h0M713.4 417.5h0M749.8 355.3h0M747.5 356.2h0M723.0 372.6h0M729.1 378.4h0M732.2 371.5h0M743.1 361.7h0M733.1 369.3h0M712.9 392.5h0M759.2 365.3h0M719.4 389.5h0M712.3 402.7h0M734.0 369.0h0M772.0 352.9h0M718.5 400.3h0M756.0 354.4h0M743.6 361.0h0M721.0 373.5h0M715.9 382.7h0M724.3 379.9h0M752.4 360.8h0M735.6 355.8h0M772.1 372.6h0M741.7 362.1h0M735.7 362.3h0M740.8 354.2h0M709.9 392.1h0M741.1 365.6h0M717.0 414.4h0M736.6 349.3h0M716.2 384.3h0M742.1 354.2h0M721.2 398.9h0M770.6 366.0h0M734.2 369.8h0M748.0 363.0h0M756.2 361.3h0M748.8 345.1h0M759.4 362.7h0M718.9 398.0h0M756.6 352.0h0M767.3 365.8h0M721.2 391.5h0M717.5 418.7h0M769.9 371.5h0M722.0 386.0h0M758.9 362.5h0M722.2 420.3h0M757.8 362.4h0M714.8 397.4h0M769.9 373.4h0M748.6 363.0h0M757.5 346.2h0M746.1 358.1h0M755.9 343.9h0M747.4 350.6h0M713.7 409.2h0M708.8 401.0h0M713.7 401.8h0M726.9 381.0h0M725.0 384.8h0M728.8 362.8h0M717.9 381.4h0M720.0 382.9h0M765.3 360.1h0M705.6 412.0h0M771.1 375.6h0M721.5 373.8h0M716.5 408.6h0M735.7 356.1h0M711.8 407.2h0M761.4 365.5h0M737.9 366.8h0M716.9 415.3h0M722.3 389.9h0M736.9 364.3h0M761.3 355.1h0M717.6 388.5h0M714.1 398.5h0M735.5 356.7h0M767.2 368.4h0M748.7 355.6h0M727.9 376.5h0M768.0 365.8h0M713.1 418.9h0M716.0 416.3h0M725.5 378.7h0M772.1 375.7h0M706.7 406.5h0M739.3 357.2h0M733.7 364.0h0M710.9 399.7h0M757.1 357.6h0M705.0 414.1h0M751.6 355.4h0M716.0 413.5h0M718.0 410.1h0M741.3 356.1h0M754.9 355.2h0M722.3 404.9h0M771.9 374.8h0M745.7 364.3h0M766.6 345.8h0M731.2 365.5h0M733.5 371.6h0M752.0 363.6h0M741.1 363.0h0M711.1 403.0h0M720.1 399.0h0M765.6 369.2h0M719.1 388.7h0M740.4 357.7h0M709.1 400.7h0M723.0 391.2h0M764.6 362.4h0M768.2 364.0h0M762.3 342.3h0M757.8 355.7h0M722.4 386.2h0M734.1 371.0h0M750.4 356.2h0M722.5 389.0h0M737.5 363.8h0M763.5 357.0h0M709.0 414.4h0M717.8 414.2h0M720.3 406.0h0M720.0 414.6h0M703.2 411.9h0M714.0 395.6h0M714.4 397.1h0M718.2 401.6h0M733.8 369.7h0M715.1 410.5h0M749.1 363.5h0M737.4 356.6h0M771.7 368.4h0M736.2 358.1h0M709.0 413.8h0M754.3 337.8h0M751.0 328.3h0M743.2 333.6h0M746.9 326.5h0M766.1 318.4h0M763.4 317.8h0M753.3 336.1h0M745.2 329.4h0M751.7 333.4h0M761.4 334.3h0M742.4 330.2h0M750.8 320.0h0M771.2 322.0h0M768.7 340.7h0M743.1 331.5h0M764.6 330.9h0M740.5 332.2h0M749.6 321.0h0M763.3 344.6h0M770.8 337.4h0M758.5 335.4h0M761.5 316.3h0M695.1 420.5h0M699.2 420.3h0M719.0 420.4h0M716.8 420.8h0M709.6 420.9h0M710.6 420.1h0M720.0 420.4h0M712.9 420.4h0M719.7 420.0h0M696.2 420.8h0M713.2 420.9h0M695.4 419.9h0M719.9 420.3h0M702.8 420.5h0M720.3 420.5h0M710.7 421.2h0M707.1 420.5h0M704.9 421.2h0M713.3 419.8h0M694.1 421.2h0M662.2 364.8h0M665.7 397.0h0M663.7 419.7h0M669.5 416.8h0M672.4 411.0h0M674.7 403.9h0M675.3 399.5h0M679.5 395.0h0M683.9 389.3h0M683.9 401.8h0M681.1 416.8h0M683.9 416.8h0M691.3 409.7h0M692.0 410.1h0M693.6 419.7h0M696.4 384.1h0M698.9 419.7h0M708.6 367.3h0M708.6 379.7h0M712.4 361.6h0M715.7 375.4h0M724.3 351.4h0M726.3 350.8h0M736.5 336.0h0M740.1 327.7h0M742.6 328.3h0M745.5 334.1h0M748.4 335.0h0M751.7 319.6h0M758.4 318.7h0M762.4 314.8h0M770.1 315.4h0M772.1 326.0h0M772.1 345.0h0M767.6 330.2h0" stroke="#1f77b4" stroke-width="2.4" stroke-linecap="round"/></g><g clip-path="url(#c30)"><path d="M177.7 566.6L212.0 566.6L212.0 535.8L210.1 532.0L207.6 537.7L202.8 544.5L197.0 548.9L191.2 553.5L185.4 558.9Z" fill="#1f77b4"/><path d="M207.8 544.1h0M209.3 563.9h0M209.4 556.7h0M199.9 554.6h0M209.3 539.2h0M203.1 565.1h0M208.1 556.3h0M208.8 549.9h0M206.0 554.0h0M206.8 557.8h0M210.1 534.5h0M209.9 534.9h0M209.4 536.5h0M211.4 542.1h0M203.9 544.1h0M211.0 543.1h0M200.7 547.4h0M204.4 546.9h0M197.1 556.8h0M198.1 560.1h0M196.2 552.0h0M191.7 561.4h0M189.5 558.7h0M195.9 562.0h0M187.7 565.2h0M184.2 566.4h0M187.0 565.6h0" stroke="#fff" stroke-width="1.5" stroke-linecap="round"/><path d="M211.9 555.5h0M211.5 552.0h0M212.3 566.6h0M212.1 545.8h0M212.6 548.6h0M211.5 552.4h0M211.6 558.3h0M212.4 539.8h0M212.2 536.2h0M211.5 561.3h0M212.3 542.8h0M211.7 537.6h0M212.4 560.4h0M212.5 557.8h0M212.3 542.7h0M212.3 555.6h0M212.4 554.9h0M212.4 555.8h0M211.6 542.0h0M212.4 537.2h0M212.5 540.3h0M211.8 554.4h0M211.9 538.5h0M212.6 549.0h0M212.0 545.5h0M212.5 554.2h0M211.8 560.4h0M212.5 546.1h0M212.3 538.4h0M211.8 542.9h0M212.4 552.3h0M212.4 561.0h0M212.0 551.5h0M212.2 564.2h0M212.1 548.0h0M212.0 553.6h0M211.8 539.2h0M211.5 557.7h0M211.9 539.5h0M212.5 541.7h0M209.9 533.0h0M212.6 533.5h0M212.5 533.7h0M211.1 534.4h0M212.2 530.9h0M211.3 533.9h0M209.0 532.2h0M204.0 533.5h0M207.1 534.6h0M208.0 537.9h0M205.9 535.1h0M207.5 537.3h0M207.6 531.6h0M207.4 534.6h0M203.1 544.2h0M206.5 539.9h0M205.7 536.6h0M206.6 538.6h0M202.9 542.1h0M200.7 542.8h0M203.7 543.9h0M207.7 538.0h0M204.3 543.2h0M206.1 540.2h0M203.7 538.4h0M196.2 545.0h0M195.7 542.1h0M201.9 545.7h0M200.0 545.8h0M196.1 545.4h0M201.0 545.6h0M197.2 547.3h0M198.9 547.6h0M197.2 549.0h0M192.4 552.4h0M194.6 550.2h0M191.8 552.5h0M191.9 551.5h0M191.2 549.5h0M195.0 548.9h0M195.6 550.4h0M191.8 550.7h0M188.5 549.4h0M190.9 554.2h0M189.2 553.1h0M188.1 554.7h0M188.2 552.2h0M186.4 552.7h0M186.2 555.4h0M187.4 556.1h0M186.5 553.4h0M185.3 554.5h0M189.3 555.7h0M169.9 557.0h0M181.3 563.6h0M178.8 563.3h0M180.4 564.7h0M177.7 566.1h0M178.3 565.6h0M176.7 564.6h0M180.8 561.0h0M185.1 559.3h0M181.9 561.8h0M180.5 564.6h0M179.5 563.5h0M180.6 560.0h0M179.1 559.6h0M187.4 555.0h0M194.1 550.6h0M209.7 532.8h0M197.3 547.2h0M206.3 528.9h0M197.3 548.3h0M192.7 534.7h0M204.0 519.9h0M194.0 549.9h0M196.2 548.0h0M187.9 551.2h0M196.1 548.6h0M184.5 556.3h0M194.4 549.6h0M188.4 546.0h0M211.7 534.9h0M203.7 539.9h0M191.8 549.3h0M211.4 512.3h0M195.0 549.7h0M186.9 556.5h0M210.3 530.5h0M201.3 525.6h0M198.5 523.0h0M199.6 517.9h0M207.0 538.1h0M210.4 521.0h0M209.8 529.1h0M185.0 554.5h0M195.3 550.2h0M197.6 545.6h0M190.3 547.3h0M208.0 536.6h0M184.7 558.2h0M211.6 517.1h0M207.1 521.1h0M210.2 524.8h0M194.5 533.1h0M185.3 556.6h0M196.4 543.6h0M202.5 544.1h0M211.8 527.6h0M192.4 538.8h0M196.0 528.7h0M211.6 526.9h0M210.7 532.6h0M203.4 532.2h0M208.0 529.2h0M193.8 550.7h0M206.9 526.7h0M193.0 551.9h0M188.9 545.9h0M198.5 535.3h0M199.4 532.3h0M195.9 520.3h0M202.3 527.4h0M194.7 547.8h0M200.0 544.0h0M209.0 512.0h0M199.8 544.9h0M184.6 555.7h0M206.7 528.6h0M207.7 527.9h0M194.3 551.0h0M206.4 524.9h0M196.5 546.8h0M205.0 537.9h0M192.6 529.4h0M193.5 528.3h0M203.9 540.9h0M198.5 542.6h0M184.7 559.5h0M190.3 550.6h0M207.1 527.1h0M186.4 550.9h0M197.2 543.1h0M202.2 539.7h0M195.0 550.2h0M199.0 543.9h0M203.0 529.6h0M187.6 551.2h0M204.3 535.8h0M201.9 544.0h0M195.8 547.0h0M199.1 519.4h0M189.1 547.3h0M189.8 551.6h0M202.1 535.9h0M198.4 547.2h0M199.9 534.2h0M205.5 535.5h0M198.4 541.8h0M202.2 521.6h0M194.4 547.8h0M211.7 530.6h0M199.1 547.3h0M210.4 521.2h0M199.9 537.4h0M211.9 522.0h0M206.6 529.1h0M193.3 550.4h0M203.9 537.5h0M211.4 512.6h0M186.9 556.6h0M201.7 545.1h0M209.8 527.6h0M201.6 522.4h0M190.2 554.3h0M204.7 518.7h0M185.5 557.8h0M211.0 530.9h0M211.2 513.6h0M208.5 523.2h0M211.9 534.7h0M210.6 529.2h0M211.2 521.7h0M210.6 514.2h0M209.1 511.6h0M210.9 522.9h0M210.3 523.2h0M208.8 517.7h0M208.6 516.5h0M210.2 512.6h0M210.2 524.3h0M210.3 527.8h0M211.9 526.7h0M211.4 513.9h0M210.8 533.3h0M210.6 529.6h0M210.2 517.9h0M209.8 524.8h0M208.8 532.9h0M207.5 524.0h0M208.9 515.0h0M210.0 515.4h0M209.0 515.4h0M208.5 525.8h0M209.1 523.9h0M210.4 518.2h0M208.8 529.3h0M210.2 517.4h0M208.4 521.7h0M211.1 515.0h0M208.3 522.8h0M211.3 533.6h0M179.2 566.9h0M160.3 566.8h0M165.0 565.8h0M165.9 564.1h0M169.3 565.3h0M146.1 566.8h0M157.4 564.9h0M156.4 565.8h0M176.6 566.2h0M174.9 564.7h0M154.1 565.2h0M158.5 566.9h0M160.1 566.7h0M152.2 566.7h0M178.1 564.7h0M157.4 565.1h0M171.2 564.3h0M163.9 564.6h0M158.3 565.5h0M149.0 565.9h0M156.1 564.9h0M169.8 564.3h0M157.1 565.2h0M166.1 564.1h0M161.8 564.3h0M160.1 565.5h0M167.2 565.0h0M167.5 566.0h0M156.7 566.7h0M148.6 565.5h0M163.1 566.5h0M147.0 566.2h0M166.3 565.1h0M148.8 565.1h0M174.6 563.8h0M173.2 566.3h0M148.7 565.1h0M170.2 566.0h0M158.7 564.6h0M176.4 564.5h0M169.7 565.1h0M177.2 565.1h0M154.4 566.4h0M168.3 566.7h0M184.8 567.0h0M160.6 566.4h0M146.0 566.3h0M171.4 566.2h0M170.6 566.3h0M155.8 564.6h0M177.5 566.4h0M151.5 565.8h0M150.5 566.4h0M175.2 564.6h0M159.3 564.6h0M175.2 566.6h0M151.8 566.6h0M160.6 566.5h0M147.5 566.9h0M166.7 564.3h0M171.5 565.1h0M183.3 566.7h0M177.1 564.1h0M158.4 565.2h0M151.4 565.8h0M167.2 565.9h0M161.9 564.6h0M177.8 565.1h0M161.7 565.1h0M177.5 565.2h0M178.8 565.2h0M147.2 565.0h0M170.7 566.2h0M152.1 566.3h0M176.1 564.3h0M166.1 565.9h0M160.9 564.2h0M151.6 566.1h0M176.8 565.6h0M171.2 566.2h0M172.2 566.3h0M178.2 564.3h0M176.4 564.1h0M171.6 566.4h0M150.0 566.3h0M166.7 562.4h0M165.2 563.8h0M171.7 562.9h0M182.9 560.2h0M168.0 562.4h0M173.6 561.3h0M165.4 561.4h0M161.3 563.3h0M185.8 558.2h0M180.0 560.9h0M174.8 559.7h0M162.6 563.4h0M180.7 559.9h0M172.1 560.7h0M165.8 562.9h0M165.8 563.3h0M172.5 562.2h0M173.9 560.9h0M166.7 562.7h0M167.3 564.0h0M164.3 563.8h0M171.6 562.2h0M167.5 561.3h0M171.8 562.9h0M179.3 563.8h0M177.6 560.4h0M167.5 564.4h0M170.9 562.2h0M173.7 562.4h0M170.8 563.0h0M116.7 565.1h0M127.3 565.1h0M132.5 563.7h0M136.4 565.1h0M140.6 565.3h0M146.0 504.1h0M144.6 541.0h0M173.5 535.4h0M171.0 545.4h0M175.8 548.9h0M174.3 556.4h0M166.2 555.4h0M155.0 558.9h0M150.2 562.8h0M181.0 528.1h0M183.9 531.0h0M182.9 517.2h0M188.9 490.2h0M188.9 494.1h0M189.7 500.8h0M188.9 460.2h0M207.0 473.9h0M209.1 481.9h0M209.1 493.5h0M209.5 498.3h0M209.1 510.8h0M199.5 503.1h0M196.6 507.3h0M194.1 513.7h0M186.4 520.4h0" stroke="#1f77b4" stroke-width="2.4" stroke-linecap="round"/></g><g clip-path="url(#c31)"><path d="M307.2 566.6L351.5 566.6L351.5 528.1L346.6 522.3L339.9 520.4L333.2 524.3L329.3 532.0L326.4 539.7L320.7 547.4L314.9 555.1L309.1 559.9Z" fill="#1f77b4"/><path d="M350.5 550.7h0M344.2 562.6h0M345.5 559.9h0M348.1 549.2h0M343.4 535.1h0M347.6 532.3h0M349.0 555.6h0M344.2 533.6h0M349.9 537.2h0M350.1 552.3h0M349.3 557.1h0M348.7 565.8h0M340.4 529.2h0M345.4 527.4h0M345.6 523.3h0M347.2 527.6h0M345.5 525.1h0M343.7 524.4h0M339.8 528.1h0M338.4 522.5h0M337.5 523.6h0M333.5 528.7h0M333.5 526.8h0M333.1 533.8h0M329.4 539.9h0M331.7 535.8h0M333.8 535.0h0M324.2 544.6h0M334.3 554.0h0M322.5 548.5h0M332.9 545.2h0M319.3 558.0h0M317.5 553.8h0M321.4 555.7h0M312.4 559.8h0M311.9 559.1h0M318.4 564.0h0M312.3 561.4h0M309.8 565.9h0" stroke="#fff" stroke-width="1.5" stroke-linecap="round"/><path d="M352.0 539.6h0M351.3 559.0h0M351.7 540.3h0M351.6 566.0h0M351.8 554.1h0M351.4 556.6h0M351.3 547.2h0M351.0 557.0h0M351.9 564.0h0M351.0 532.1h0M351.9 551.3h0M351.9 550.2h0M351.4 531.3h0M351.8 553.8h0M351.2 565.5h0M351.3 532.0h0M351.3 541.2h0M351.3 533.0h0M351.3 561.0h0M351.6 545.3h0M351.9 559.0h0M351.5 558.1h0M351.7 551.4h0M351.5 558.7h0M351.6 555.9h0M351.3 553.0h0M351.8 540.2h0M352.0 530.7h0M351.8 531.8h0M352.0 541.9h0M350.9 535.2h0M351.0 537.5h0M350.9 533.3h0M351.9 555.6h0M351.4 541.1h0M351.0 564.8h0M351.7 558.3h0M351.1 547.3h0M351.1 543.1h0M351.8 541.8h0M351.5 536.6h0M351.6 540.4h0M351.4 531.4h0M351.3 532.2h0M351.8 535.8h0M351.3 539.9h0M351.9 559.9h0M351.7 566.0h0M351.9 553.3h0M351.0 564.7h0M351.9 530.7h0M350.9 520.4h0M350.7 527.6h0M348.7 524.6h0M352.0 524.2h0M348.2 524.4h0M351.9 527.4h0M350.6 527.0h0M351.4 523.8h0M347.5 523.9h0M349.2 523.6h0M340.8 518.8h0M343.7 518.9h0M344.5 521.9h0M343.2 521.3h0M343.8 516.7h0M342.4 520.0h0M342.2 521.2h0M342.7 520.0h0M344.9 521.7h0M336.5 522.9h0M333.6 522.0h0M334.4 520.6h0M338.0 522.0h0M336.3 522.8h0M336.4 518.2h0M337.1 521.3h0M338.0 522.1h0M334.2 523.6h0M338.0 518.9h0M330.8 528.3h0M330.7 530.0h0M326.8 523.3h0M330.6 529.8h0M332.4 526.9h0M330.3 527.6h0M332.1 527.5h0M325.1 529.5h0M328.5 528.9h0M327.3 529.6h0M329.0 528.6h0M326.8 537.5h0M324.2 538.5h0M326.7 539.3h0M326.6 535.4h0M325.5 537.4h0M328.0 537.2h0M327.2 535.2h0M323.8 530.5h0M325.0 537.8h0M325.3 539.0h0M324.6 542.5h0M323.7 543.1h0M324.6 542.2h0M323.5 544.2h0M326.7 540.1h0M323.2 544.9h0M323.1 545.0h0M320.4 544.5h0M322.8 545.0h0M323.5 542.7h0M318.7 542.9h0M325.9 541.2h0M325.1 542.1h0M312.6 544.2h0M310.9 551.5h0M315.9 550.1h0M315.4 553.8h0M320.5 548.2h0M315.3 549.4h0M320.9 547.9h0M315.6 555.1h0M312.5 551.3h0M318.6 546.2h0M317.3 552.5h0M313.5 549.8h0M315.9 553.6h0M312.4 554.9h0M307.8 556.4h0M306.0 556.1h0M313.8 555.2h0M311.2 558.3h0M313.9 556.3h0M309.8 559.1h0M310.9 555.8h0M309.7 553.9h0M313.4 556.0h0M308.1 563.1h0M305.6 559.3h0M306.7 566.1h0M304.2 558.7h0M307.7 566.6h0M307.1 560.4h0M307.3 565.3h0M307.7 560.8h0M307.8 562.1h0M338.0 518.2h0M351.1 513.3h0M346.0 521.6h0M338.6 519.2h0M325.8 528.7h0M321.6 530.4h0M350.4 520.4h0M346.7 518.9h0M326.6 533.8h0M316.3 552.9h0M322.6 541.3h0M331.6 515.6h0M321.8 539.7h0M342.7 512.8h0M339.6 513.7h0M322.3 543.8h0M314.5 541.8h0M341.9 517.9h0M323.8 530.1h0M306.3 565.5h0M350.8 512.0h0M337.5 510.6h0M317.9 541.3h0M310.7 558.4h0M323.0 537.6h0M339.8 517.3h0M332.4 521.3h0M347.7 520.4h0M346.7 521.5h0M335.6 502.1h0M333.1 513.1h0M333.8 519.8h0M323.9 526.3h0M330.7 524.1h0M315.2 548.7h0M326.8 518.9h0M339.9 507.5h0M346.9 517.3h0M306.1 565.0h0M334.6 523.3h0M325.6 525.3h0M344.8 519.9h0M345.1 519.9h0M346.1 515.3h0M327.5 526.4h0M316.6 540.4h0M347.4 519.3h0M350.2 523.9h0M320.9 533.9h0M342.3 521.0h0M340.9 519.5h0M319.9 542.1h0M317.6 542.3h0M340.5 518.9h0M321.5 532.2h0M314.5 545.1h0M306.3 566.5h0M316.9 549.1h0M347.4 516.5h0M320.0 540.7h0M323.5 536.4h0M340.2 506.7h0M348.8 522.9h0M350.5 524.8h0M345.2 506.7h0M331.3 517.7h0M333.0 523.6h0M311.3 553.2h0M307.0 565.3h0M342.8 516.3h0M326.0 535.3h0M306.6 564.9h0M327.3 534.3h0M325.7 528.7h0M327.1 519.5h0M330.0 510.1h0M334.6 522.7h0M317.2 539.0h0M323.7 542.7h0M339.4 508.0h0M331.8 517.4h0M322.9 536.2h0M338.1 515.7h0M325.4 529.4h0M318.0 547.4h0M319.8 544.4h0M329.0 522.3h0M334.6 514.0h0M342.2 514.3h0M347.3 519.2h0M318.5 543.9h0M329.0 520.2h0M327.5 532.0h0M339.1 517.2h0M342.3 520.4h0M316.6 542.8h0M349.9 525.3h0M321.4 542.9h0M342.4 511.4h0M318.5 541.6h0M336.9 504.7h0M328.1 533.9h0M309.4 555.5h0M349.3 522.2h0M316.9 546.6h0M310.7 554.9h0M330.1 515.4h0M338.6 518.5h0M318.4 545.8h0M309.4 557.9h0M315.3 553.6h0M331.1 527.8h0M319.2 548.8h0M338.2 514.2h0M342.4 519.7h0M324.7 538.1h0M343.8 519.5h0M326.4 534.9h0M306.5 564.8h0M331.9 524.2h0M337.0 515.5h0M332.1 518.5h0M348.0 514.5h0M350.6 527.1h0M332.3 523.6h0M332.2 525.2h0M337.3 519.4h0M312.2 554.1h0M338.0 500.7h0M329.1 532.1h0M320.4 545.9h0M344.3 513.5h0M344.6 517.1h0M310.6 558.1h0M323.6 527.0h0M317.0 544.3h0M319.2 544.3h0M312.1 553.3h0M330.3 515.4h0M328.4 525.8h0M316.9 547.0h0M348.2 523.1h0M349.6 522.0h0M316.0 551.6h0M326.3 530.4h0M332.9 503.3h0M328.3 530.1h0M345.9 509.0h0M330.5 522.3h0M333.3 519.1h0M344.7 500.8h0M347.4 512.1h0M332.2 506.6h0M350.2 516.9h0M350.1 508.2h0M336.9 500.1h0M347.7 502.8h0M343.1 519.9h0M341.0 516.9h0M349.0 507.8h0M333.0 509.9h0M346.2 509.5h0M347.7 514.6h0M346.9 502.2h0M286.1 565.8h0M282.2 564.4h0M277.3 564.5h0M277.4 566.0h0M287.3 565.3h0M280.1 565.3h0M276.8 565.9h0M297.1 565.2h0M284.2 564.6h0M291.5 565.1h0M297.0 563.7h0M294.5 566.0h0M298.8 565.5h0M281.2 565.0h0M297.1 566.0h0M292.1 564.0h0M280.7 565.8h0M292.2 566.1h0M306.2 563.7h0M289.3 564.3h0M298.0 564.5h0M300.5 563.1h0M298.1 563.7h0M306.0 564.3h0M288.4 566.6h0M289.6 564.2h0M299.2 564.2h0M280.3 566.2h0M291.7 564.3h0M299.0 563.1h0M287.2 566.5h0M307.4 565.1h0M284.6 563.5h0M290.8 564.4h0M304.0 563.3h0M303.5 563.0h0M293.8 565.0h0M301.4 564.5h0M286.0 564.8h0M291.7 564.9h0M282.7 563.5h0M306.9 566.5h0M306.3 566.6h0M275.6 565.1h0M306.2 565.2h0M307.1 564.5h0M304.1 563.5h0M290.9 566.5h0M290.7 566.2h0M291.5 564.6h0M300.9 563.7h0M301.6 564.9h0M281.9 564.1h0M306.6 564.3h0M299.5 563.4h0M306.7 564.4h0M295.6 565.8h0M288.9 565.5h0M296.7 564.5h0M277.0 565.9h0M299.8 564.5h0M304.0 566.4h0M288.8 566.3h0M290.9 565.6h0M300.1 564.9h0M282.3 564.8h0M306.4 564.6h0M297.8 563.2h0M278.8 566.1h0M282.8 565.7h0M299.6 563.4h0M282.1 563.7h0M288.9 564.5h0M298.9 564.6h0M280.8 564.3h0M300.0 565.3h0M298.0 566.4h0M279.3 565.7h0M289.2 566.1h0M278.4 566.6h0M290.4 565.5h0M295.3 565.2h0M305.2 565.5h0M285.2 566.2h0M274.9 563.9h0M276.1 564.3h0M285.6 564.9h0M296.6 565.6h0M275.7 564.3h0M296.1 565.9h0M289.7 563.3h0M281.8 565.0h0M275.3 566.4h0M292.0 566.3h0M300.9 564.7h0M283.3 565.3h0M282.6 565.5h0M276.3 565.2h0M304.4 564.3h0M304.8 563.2h0M297.0 566.5h0M292.5 563.7h0M283.9 563.5h0M306.1 563.6h0M290.7 564.1h0M283.6 565.4h0M274.5 564.2h0M280.5 563.6h0M297.3 563.7h0M292.3 564.9h0M277.5 565.6h0M299.2 564.5h0M278.7 565.6h0M293.2 563.2h0M278.1 566.1h0M304.9 564.8h0M279.0 566.4h0M288.3 566.3h0M300.9 564.2h0M276.4 563.8h0M297.9 565.1h0M291.8 563.9h0M304.2 565.6h0M296.8 565.0h0M278.9 563.6h0M275.2 564.6h0M277.3 563.9h0M306.7 564.0h0M304.7 565.3h0M281.9 566.2h0M293.2 566.4h0M291.9 565.4h0M297.4 566.5h0M302.0 563.2h0M307.1 563.7h0M305.4 564.8h0M281.4 564.7h0M294.8 563.3h0M303.2 565.4h0M296.0 563.6h0M307.6 563.5h0M301.4 561.9h0M305.4 562.8h0M297.4 563.4h0M308.2 561.4h0M303.6 563.2h0M306.8 561.8h0M298.2 561.8h0M298.3 563.6h0M294.5 564.0h0M307.0 560.7h0M299.0 562.6h0M301.3 563.5h0M300.5 564.1h0M295.1 562.5h0M308.0 559.7h0M302.4 563.6h0M300.6 561.9h0M299.6 564.2h0M305.1 562.8h0M240.8 565.1h0M242.7 564.3h0M244.1 565.6h0M250.4 565.1h0M251.8 564.3h0M255.2 565.1h0M256.2 564.3h0M259.5 565.1h0M261.0 564.3h0M262.9 565.1h0M264.9 565.1h0M267.7 565.1h0M270.3 565.1h0M280.6 555.4h0M286.4 551.2h0M283.1 559.5h0M301.4 548.9h0M308.7 531.0h0M311.6 509.3h0M310.1 544.5h0M318.7 527.2h0M323.6 522.3h0M330.9 489.3h0M328.4 496.9h0M334.1 502.1h0M341.4 499.6h0M336.1 459.8h0M349.1 509.8h0M350.5 522.7h0" stroke="#1f77b4" stroke-width="2.4" stroke-linecap="round"/></g><g clip-path="url(#c32)"><path d="M380.8 566.2L492.4 566.2L492.4 559.9L483.8 559.9L472.2 559.3L453.0 559.3L443.3 559.3L433.7 559.9L414.5 560.4L395.2 560.8L380.8 560.8ZM453.9 560.8L471.2 560.8L470.7 547.4L468.0 540.6L463.6 538.1L458.4 539.7L455.3 545.4Z" fill="#1f77b4"/><path d="M490.3 564.0h0M484.6 561.7h0M481.9 562.4h0M470.5 561.9h0M466.8 560.1h0M467.2 560.8h0M447.4 563.6h0M439.9 561.0h0M436.2 562.3h0M429.8 561.4h0M415.9 565.1h0M425.0 564.8h0M408.8 561.6h0M381.4 564.0h0M382.6 563.5h0M459.0 559.4h0M457.5 552.4h0M463.6 556.7h0M469.8 557.7h0M458.1 551.9h0M466.4 559.8h0M467.8 547.7h0M467.8 547.2h0M461.3 545.6h0M463.1 540.5h0M458.1 543.2h0M455.7 551.3h0M461.3 556.8h0" stroke="#fff" stroke-width="1.5" stroke-linecap="round"/><path d="M492.4 565.9h0M492.3 562.7h0M492.8 562.6h0M492.9 564.2h0M492.5 565.2h0M492.8 566.2h0M492.7 563.4h0M492.8 560.7h0M492.3 560.2h0M489.2 555.3h0M491.9 558.9h0M488.4 557.0h0M489.5 557.3h0M488.5 560.1h0M488.7 559.5h0M488.6 558.0h0M487.5 558.9h0M488.6 559.4h0M486.4 560.1h0M478.8 558.2h0M479.0 547.9h0M473.2 546.7h0M479.4 557.2h0M478.2 559.2h0M474.1 559.9h0M472.6 554.5h0M473.4 559.1h0M478.3 558.2h0M479.5 556.3h0M481.5 559.4h0M473.0 559.6h0M472.4 556.1h0M477.7 552.9h0M473.8 558.9h0M453.4 556.1h0M467.8 556.5h0M468.4 558.4h0M471.8 559.4h0M462.8 559.5h0M463.5 555.2h0M454.2 558.0h0M462.6 557.2h0M461.9 558.5h0M453.1 559.0h0M464.0 556.4h0M457.5 559.6h0M463.0 551.0h0M458.1 553.7h0M469.0 557.4h0M471.6 559.1h0M462.2 552.7h0M468.0 558.3h0M461.7 559.1h0M464.4 557.4h0M465.0 557.1h0M457.6 557.9h0M455.3 559.9h0M462.3 559.5h0M454.4 558.3h0M450.5 559.5h0M452.0 549.0h0M450.9 558.0h0M444.5 556.8h0M452.8 559.3h0M450.2 553.0h0M452.7 558.3h0M447.6 558.0h0M451.9 552.7h0M452.1 558.2h0M443.7 556.1h0M447.7 556.1h0M448.5 558.2h0M435.2 560.2h0M441.7 556.3h0M436.1 556.5h0M437.0 558.2h0M435.9 554.9h0M442.1 557.0h0M442.3 558.2h0M437.0 560.1h0M439.0 559.2h0M439.4 554.1h0M441.8 553.7h0M443.1 557.4h0M428.1 560.0h0M429.9 559.5h0M419.9 560.3h0M422.6 560.8h0M422.2 559.6h0M414.9 558.6h0M421.8 554.5h0M418.8 558.6h0M419.2 560.3h0M419.7 560.9h0M418.1 558.9h0M417.0 559.0h0M415.4 560.4h0M426.7 558.5h0M420.2 559.3h0M429.3 551.7h0M429.5 559.5h0M430.2 558.5h0M421.3 556.3h0M419.6 560.0h0M418.8 560.2h0M416.4 557.4h0M415.4 560.2h0M432.7 558.8h0M422.7 559.5h0M401.3 561.0h0M406.3 556.6h0M411.6 560.3h0M400.4 555.4h0M411.8 558.5h0M410.5 560.1h0M410.6 558.7h0M413.7 560.1h0M405.2 560.3h0M396.8 560.5h0M406.7 560.4h0M406.7 558.2h0M411.8 557.5h0M399.6 556.3h0M409.7 552.2h0M401.4 560.5h0M398.3 560.3h0M397.5 561.1h0M405.9 557.5h0M407.5 560.1h0M396.7 560.9h0M400.5 559.0h0M407.6 559.1h0M413.5 560.8h0M413.9 560.3h0M384.8 561.0h0M394.1 561.4h0M382.7 556.4h0M391.8 561.0h0M389.4 561.1h0M386.3 556.8h0M384.8 558.9h0M389.2 559.4h0M385.3 559.7h0M392.2 551.2h0M391.4 558.2h0M384.8 559.1h0M391.6 561.2h0M387.1 561.2h0M394.0 561.0h0M388.6 560.0h0M385.3 560.9h0M384.0 558.9h0M378.8 565.6h0M380.3 565.4h0M377.9 566.2h0M381.0 561.2h0M378.2 562.3h0M380.4 562.0h0M380.3 562.1h0M467.6 560.8h0M463.9 561.3h0M458.9 562.9h0M468.5 560.7h0M460.4 566.4h0M460.9 561.0h0M466.1 561.4h0M455.9 564.7h0M460.2 561.4h0M471.1 560.5h0M463.5 562.4h0M471.0 560.7h0M463.4 561.7h0M465.4 563.2h0M469.2 564.8h0M457.1 561.4h0M455.4 560.8h0M455.3 565.3h0M463.5 561.3h0M457.5 562.9h0M457.4 564.4h0M463.5 562.9h0M457.3 567.1h0M470.3 552.1h0M472.2 559.4h0M471.2 550.9h0M472.7 549.9h0M470.4 555.9h0M475.3 560.2h0M483.4 559.0h0M474.2 549.9h0M474.8 559.1h0M471.9 555.7h0M472.5 560.3h0M472.0 558.6h0M471.4 557.5h0M472.0 550.0h0M472.2 556.1h0M471.9 558.6h0M473.9 559.6h0M469.9 543.8h0M468.7 540.7h0M479.6 541.0h0M473.1 542.6h0M469.9 544.5h0M468.9 544.1h0M472.6 546.4h0M468.1 542.1h0M472.2 544.3h0M469.7 545.3h0M466.0 537.0h0M466.9 538.0h0M468.6 537.2h0M466.1 539.8h0M466.1 539.3h0M464.9 536.7h0M463.3 537.3h0M461.4 539.3h0M459.4 539.1h0M460.9 537.6h0M460.2 539.0h0M462.2 535.5h0M460.1 538.1h0M458.7 540.0h0M451.8 541.9h0M456.3 544.0h0M455.2 541.7h0M454.0 537.6h0M457.0 539.2h0M453.5 542.4h0M455.4 542.7h0M452.8 554.3h0M454.8 546.3h0M452.3 558.5h0M454.6 550.7h0M453.6 545.7h0M454.5 548.3h0M454.7 558.2h0M454.5 553.1h0M448.1 559.1h0M453.7 554.9h0M452.7 558.0h0M449.0 554.3h0M451.5 553.5h0M454.3 549.7h0M448.3 553.0h0M449.6 556.2h0M451.5 546.0h0M454.7 557.4h0M453.2 546.7h0M453.4 558.5h0M489.9 555.1h0M418.9 559.2h0M412.8 556.5h0M488.0 556.3h0M451.2 557.3h0M453.3 559.2h0M483.6 557.2h0M446.1 557.7h0M406.5 556.2h0M436.8 558.7h0M484.0 558.1h0M392.1 555.6h0M384.4 557.1h0M436.1 558.5h0M401.2 556.0h0M476.7 558.7h0M387.5 559.5h0M408.4 557.6h0M411.9 560.0h0M387.9 560.1h0M408.7 558.2h0M424.7 559.1h0M440.8 558.9h0M406.6 560.1h0M415.0 558.7h0M473.0 558.0h0M425.0 560.0h0M448.6 557.0h0M411.2 558.3h0M393.4 558.0h0M488.6 558.7h0M401.7 559.2h0M392.1 556.3h0M435.2 558.1h0M479.0 555.6h0M382.6 555.3h0M420.3 557.9h0M386.9 557.1h0M424.6 559.3h0M450.9 558.3h0M436.7 555.6h0M472.0 557.4h0M417.5 559.8h0M428.8 559.8h0M410.5 559.0h0M381.5 560.5h0M429.4 559.1h0M483.4 555.3h0M418.7 559.8h0M392.8 556.4h0M441.7 558.6h0M381.0 558.3h0M386.0 555.6h0M411.9 558.9h0M434.4 559.0h0M385.0 556.9h0M399.8 557.6h0M385.0 559.6h0M445.6 557.6h0M453.4 558.6h0M431.2 556.2h0M418.6 555.8h0M391.2 560.8h0M394.4 556.8h0M389.6 557.4h0M442.0 556.5h0M393.1 558.1h0M444.6 555.7h0M418.9 560.2h0M471.9 555.2h0M429.0 557.3h0M439.3 555.5h0M448.0 558.6h0M484.0 558.3h0M453.7 556.5h0M448.5 555.6h0M398.8 560.7h0M417.9 558.8h0M488.7 556.6h0M392.2 560.0h0M416.6 559.0h0M444.2 558.7h0M451.2 556.3h0M476.1 556.8h0M436.5 558.7h0M395.0 555.7h0M489.6 556.5h0M446.7 556.2h0M440.6 558.7h0M417.4 559.7h0M411.9 559.1h0M383.5 556.1h0M447.1 558.0h0M383.4 560.6h0M486.2 557.3h0M397.4 558.4h0M485.1 558.4h0M481.2 555.2h0M426.4 558.5h0M386.4 559.0h0M446.0 557.7h0M430.2 555.6h0M492.1 559.0h0M390.5 556.6h0M443.9 557.1h0M421.2 555.4h0M395.5 560.6h0M404.6 559.0h0M474.4 558.8h0M491.5 556.3h0M426.3 557.9h0M390.4 560.2h0M443.2 556.3h0M420.8 558.0h0M486.4 557.6h0M418.0 555.5h0M481.5 559.7h0M416.9 559.8h0M425.5 560.0h0M408.5 556.8h0M468.8 534.3h0M470.7 531.7h0M450.4 554.7h0M467.6 537.7h0M458.9 533.0h0M466.8 536.4h0M461.7 536.4h0M464.2 532.2h0M466.0 535.8h0M452.9 545.3h0M453.4 534.2h0M459.1 532.5h0M464.1 535.0h0M457.5 541.2h0M467.0 533.5h0M471.8 554.8h0M469.2 536.4h0M450.8 550.7h0M454.8 537.9h0M459.3 538.3h0M463.6 531.6h0M454.1 554.6h0M462.6 535.6h0M453.1 543.9h0M453.1 536.2h0M465.8 534.6h0M453.7 546.6h0M452.7 554.0h0M454.9 541.9h0M453.1 546.4h0M454.1 554.2h0M471.4 539.3h0M471.0 545.7h0M467.9 538.0h0M450.1 551.8h0M454.9 538.2h0M452.8 551.2h0M455.1 539.2h0M454.7 541.7h0M452.1 555.4h0M455.9 539.5h0M458.1 530.6h0M466.5 534.0h0M455.6 534.2h0M454.8 541.2h0M465.2 530.3h0M452.0 539.6h0M457.2 540.7h0M471.0 538.1h0M454.1 539.6h0M471.0 529.7h0M462.9 489.0h0M465.9 533.1h0M462.5 510.3h0M472.6 525.7h0M473.7 520.1h0M469.0 528.4h0M470.1 534.6h0M467.6 514.7h0M465.3 511.1h0M471.3 528.4h0M462.0 515.9h0M456.8 533.9h0M470.9 495.7h0M460.8 484.7h0M466.0 516.1h0M466.1 507.6h0M467.8 489.7h0M468.7 496.4h0M461.6 486.9h0M469.2 522.1h0M466.6 504.6h0M466.4 520.7h0M466.4 497.4h0M463.9 511.7h0M468.7 525.7h0M457.0 520.0h0M465.7 503.7h0M491.5 547.6h0M487.1 556.7h0M492.2 556.1h0M487.1 557.9h0M488.2 543.9h0M492.0 553.0h0M492.2 550.5h0M488.8 539.7h0M489.0 553.3h0M488.5 547.1h0M488.9 557.4h0M488.1 550.4h0M487.9 554.4h0M488.6 554.4h0M487.3 555.7h0M488.2 546.8h0M487.6 557.6h0M491.4 551.2h0M489.1 552.3h0M488.0 554.5h0M490.5 544.2h0M488.7 548.2h0M488.7 542.7h0M490.1 555.9h0M487.9 554.7h0M492.1 543.1h0M489.3 557.2h0M488.3 555.3h0M490.3 546.6h0M489.7 555.1h0M490.7 540.7h0M491.7 548.8h0M489.2 544.2h0M489.4 552.8h0M488.8 551.1h0M489.0 549.5h0M490.0 555.7h0M489.6 555.1h0M490.1 557.1h0M491.7 547.7h0M407.2 542.8h0M474.7 553.5h0M443.5 546.7h0M387.8 541.4h0M444.5 549.0h0M435.9 545.7h0M408.5 540.8h0M405.8 541.7h0M433.6 546.1h0M424.5 543.8h0M473.2 542.8h0M401.3 544.1h0M430.7 540.7h0M391.1 548.4h0M427.3 548.2h0M446.2 544.4h0M476.8 551.6h0M442.0 549.2h0M420.7 549.6h0M437.4 540.6h0M398.3 554.9h0M483.9 547.8h0M398.8 540.9h0M383.4 547.7h0M392.6 545.5h0M397.1 550.2h0M409.4 556.3h0M445.8 546.4h0M420.3 543.2h0M484.3 546.5h0M415.2 539.9h0M484.6 543.6h0M408.6 544.3h0M450.7 546.2h0M475.0 551.6h0M463.6 459.8h0M470.3 465.6h0M448.2 484.4h0M435.6 502.1h0M447.2 500.8h0M428.0 519.5h0M463.6 486.2h0M470.3 481.9h0M471.6 486.7h0M469.7 493.1h0M466.4 498.3h0M474.1 503.7h0M476.4 502.7h0M487.6 515.0h0M474.5 524.7h0M479.5 525.4h0M411.6 535.4h0M392.9 541.2h0M398.7 540.4h0M396.2 543.5h0M390.4 547.0h0M411.0 545.1h0M422.2 541.6h0M425.6 543.1h0M438.5 545.4h0M440.8 542.9h0M383.7 553.1h0M481.4 540.2h0M491.1 539.7h0M482.8 545.1h0M474.1 536.8h0" stroke="#1f77b4" stroke-width="2.4" stroke-linecap="round"/></g><g clip-path="url(#c33)"><path d="M572.8 566.2L632.5 566.2L632.5 487.7L629.9 487.7L628.6 512.7L627.1 535.8L624.2 545.4L619.0 550.2L611.3 552.2L601.7 553.1L592.0 554.1L582.4 556.0L575.7 559.9Z" fill="#1f77b4"/><path d="M628.4 528.8h0M628.5 563.6h0M630.1 544.5h0M629.8 529.4h0M630.5 562.2h0M625.2 565.3h0M631.0 514.8h0M630.7 562.2h0M628.8 555.6h0M630.4 551.8h0M628.5 556.4h0M628.8 557.4h0M630.9 517.0h0M621.2 551.6h0M629.6 551.1h0M631.5 495.2h0M624.3 554.5h0M626.8 564.5h0M630.0 557.4h0M629.9 510.3h0M631.5 504.2h0M629.6 508.2h0M632.1 506.0h0M630.5 512.7h0M632.0 490.7h0M632.2 494.6h0M632.1 489.4h0M629.2 515.8h0M631.8 522.2h0M630.9 524.3h0M632.0 531.8h0M631.0 533.1h0M631.7 521.9h0M625.5 543.8h0M625.8 545.5h0M629.7 539.0h0M628.6 542.0h0M623.8 552.4h0M622.0 549.7h0M617.5 558.9h0M614.7 556.6h0M615.5 556.7h0M610.5 563.7h0M611.2 554.4h0M607.1 563.1h0M601.0 554.3h0M600.4 554.4h0M592.7 554.9h0M593.0 559.9h0M586.8 557.1h0M588.7 561.7h0M585.6 561.1h0M581.0 558.1h0M577.8 561.8h0M576.5 565.4h0" stroke="#fff" stroke-width="1.5" stroke-linecap="round"/><path d="M632.6 540.2h0M632.5 550.3h0M632.9 500.2h0M632.4 510.7h0M632.3 494.1h0M632.7 504.1h0M632.1 519.7h0M632.1 499.9h0M632.5 517.7h0M632.9 549.2h0M633.0 545.4h0M632.7 537.3h0M632.7 563.4h0M632.6 517.8h0M632.8 525.5h0M633.0 564.2h0M632.4 550.1h0M632.7 536.8h0M632.4 488.0h0M632.4 545.1h0M632.0 550.1h0M632.5 542.8h0M631.9 538.0h0M632.1 554.8h0M632.4 542.5h0M633.0 511.6h0M632.4 528.6h0M631.9 494.6h0M632.1 513.0h0M632.4 498.4h0M633.0 542.8h0M632.6 555.7h0M632.7 518.9h0M633.0 524.8h0M631.9 513.8h0M632.4 516.3h0M632.8 521.3h0M632.8 503.3h0M632.0 557.7h0M632.7 546.7h0M632.9 543.9h0M632.1 505.0h0M633.0 508.7h0M633.0 506.1h0M632.5 565.5h0M632.5 504.1h0M632.6 560.7h0M633.0 563.3h0M632.5 512.7h0M632.9 536.9h0M632.5 517.0h0M632.4 518.8h0M632.8 544.9h0M631.9 541.3h0M633.0 503.3h0M632.5 521.0h0M632.0 516.7h0M632.9 543.1h0M632.3 557.5h0M632.2 562.1h0M632.5 502.4h0M632.9 498.1h0M633.0 512.1h0M630.5 481.3h0M631.7 485.0h0M629.1 500.4h0M627.0 498.1h0M630.0 492.0h0M629.6 491.2h0M629.4 501.2h0M630.4 490.4h0M628.9 511.8h0M629.1 499.3h0M626.2 495.1h0M629.3 502.3h0M627.9 501.5h0M630.1 496.6h0M628.7 489.3h0M628.7 488.0h0M629.3 508.7h0M629.0 512.2h0M629.5 497.6h0M628.2 502.0h0M630.0 490.2h0M627.0 509.8h0M628.0 515.4h0M627.6 512.8h0M627.7 534.6h0M628.4 524.1h0M627.1 534.4h0M627.5 517.3h0M625.9 530.6h0M622.1 516.4h0M622.4 529.3h0M624.2 530.5h0M626.5 515.8h0M625.8 524.6h0M626.1 524.4h0M627.7 527.1h0M625.7 533.1h0M627.8 525.2h0M624.3 517.6h0M625.9 529.2h0M623.5 529.7h0M625.8 541.1h0M627.1 536.8h0M625.9 540.8h0M625.6 541.0h0M624.0 543.2h0M626.3 539.3h0M624.7 540.0h0M624.3 542.9h0M620.5 547.3h0M622.8 545.9h0M615.9 542.9h0M621.1 548.8h0M623.4 546.7h0M619.8 549.3h0M614.5 549.5h0M614.7 545.5h0M612.6 550.1h0M610.8 550.0h0M618.4 551.0h0M616.9 545.1h0M602.3 549.8h0M605.7 553.0h0M609.1 551.1h0M606.2 550.3h0M609.1 549.7h0M607.2 546.3h0M611.2 552.5h0M608.6 552.9h0M600.2 553.6h0M598.0 550.4h0M593.0 548.6h0M593.2 552.6h0M595.3 551.9h0M598.1 550.4h0M601.1 553.1h0M600.8 550.5h0M584.0 551.2h0M591.4 554.7h0M589.7 554.9h0M586.5 549.5h0M584.7 554.6h0M589.6 554.0h0M589.9 551.7h0M586.4 552.6h0M575.0 558.0h0M580.6 557.5h0M575.7 555.9h0M577.4 554.0h0M581.1 555.8h0M582.5 556.5h0M575.8 560.2h0M575.4 559.9h0M570.7 565.2h0M573.6 565.7h0M573.8 563.7h0M547.2 565.7h0M555.0 564.9h0M541.5 564.0h0M544.7 564.9h0M564.3 564.5h0M560.9 566.1h0M544.5 563.8h0M570.1 566.1h0M524.2 564.5h0M554.7 563.5h0M565.2 565.6h0M553.6 564.1h0M539.7 564.9h0M555.1 565.8h0M537.2 565.4h0M537.1 564.0h0M523.4 564.6h0M548.0 565.5h0M565.9 564.2h0M546.3 565.1h0M567.0 563.1h0M531.3 566.1h0M538.8 565.2h0M563.5 566.0h0M532.6 564.8h0M570.0 564.6h0M565.0 565.8h0M567.9 563.5h0M537.4 564.0h0M560.2 564.4h0M569.3 563.9h0M568.0 564.1h0M564.8 565.1h0M571.9 563.9h0M550.4 564.0h0M526.6 564.7h0M548.5 563.8h0M568.9 565.0h0M547.0 564.5h0M529.6 565.1h0M559.8 565.1h0M568.9 565.2h0M571.5 566.0h0M537.2 565.5h0M530.6 564.1h0M555.3 565.8h0M528.4 564.9h0M566.3 564.2h0M553.2 565.5h0M527.2 564.6h0M521.9 566.1h0M535.9 564.5h0M571.1 565.2h0M553.6 565.6h0M544.2 564.0h0M555.7 564.9h0M569.3 566.0h0M522.3 565.2h0M569.6 563.2h0M571.7 566.2h0M548.0 564.8h0M536.1 565.2h0M546.6 564.0h0M566.2 563.5h0M551.5 565.0h0M566.7 565.5h0M540.4 566.2h0M523.6 565.4h0M565.9 565.9h0M556.0 564.3h0M565.6 563.1h0M567.7 565.4h0M521.5 566.2h0M558.9 565.2h0M573.3 564.3h0M560.1 563.5h0M569.4 564.3h0M560.7 565.9h0M569.6 564.6h0M557.3 566.2h0M565.0 563.6h0M553.5 564.1h0M528.1 565.3h0M561.0 564.0h0M550.2 564.4h0M539.2 564.0h0M550.5 564.3h0M567.7 564.9h0M554.9 564.5h0M553.0 564.5h0M567.3 564.3h0M570.7 563.9h0M549.5 564.8h0M547.4 565.5h0M547.3 565.8h0M564.8 564.7h0M568.2 565.9h0M544.3 565.4h0M562.0 564.0h0M525.5 566.1h0M536.2 564.5h0M530.2 565.6h0M523.8 565.8h0M542.4 566.1h0M568.7 565.2h0M559.4 564.1h0M550.5 564.1h0M540.5 563.9h0M547.9 563.8h0M539.8 565.3h0M554.8 564.5h0M572.4 563.7h0M528.1 566.1h0M542.2 565.6h0M547.4 564.5h0M553.8 564.5h0M523.6 565.9h0M537.5 564.7h0M529.1 565.9h0M562.9 565.0h0M523.4 564.8h0M536.3 565.6h0M553.5 563.4h0M552.8 565.4h0M537.6 564.0h0M526.7 564.2h0M551.9 564.3h0M527.0 564.7h0M521.6 564.3h0M534.1 565.7h0M545.2 566.1h0M538.8 565.4h0M542.7 565.3h0M563.5 565.7h0M554.0 565.7h0M534.3 565.7h0M543.1 565.2h0M558.7 563.5h0M536.5 563.9h0M549.8 563.7h0M568.1 565.4h0M533.9 565.5h0M572.8 564.2h0M531.3 564.6h0M570.7 565.1h0M572.1 563.9h0M557.8 564.9h0M561.6 564.7h0M571.3 563.3h0M535.8 565.9h0M556.1 564.7h0M536.7 564.5h0M529.3 566.0h0M547.5 564.6h0M532.7 564.5h0M529.1 565.2h0M569.6 564.3h0M541.6 564.3h0M570.1 563.7h0M571.8 565.0h0M537.0 565.3h0M555.5 563.6h0M556.1 565.9h0M550.8 563.4h0M554.3 566.0h0M544.0 566.0h0M541.9 565.9h0M557.6 566.0h0M522.3 565.0h0M527.7 565.7h0M560.2 563.5h0M548.9 565.0h0M529.4 564.7h0M549.2 564.2h0M549.9 565.3h0M545.1 565.1h0M533.5 566.2h0M545.7 565.3h0M522.5 566.1h0M570.3 564.8h0M526.8 565.4h0M534.6 565.7h0M557.5 563.7h0M573.6 564.4h0M523.7 564.9h0M566.4 565.2h0M522.0 564.9h0M573.0 563.2h0M534.0 565.7h0M542.1 564.4h0M533.8 564.5h0M537.2 565.4h0M562.0 565.0h0M556.8 563.6h0M530.7 565.0h0M547.2 566.1h0M538.8 565.3h0M528.4 564.6h0M555.1 564.2h0M544.6 563.8h0M620.7 543.7h0M591.0 552.3h0M623.3 535.9h0M603.9 547.1h0M623.4 545.8h0M573.4 560.6h0M595.6 551.3h0M618.2 546.7h0M624.2 537.5h0M579.7 554.3h0M616.4 544.4h0M607.4 539.0h0M625.9 531.8h0M622.6 542.0h0M621.4 544.8h0M618.2 546.8h0M616.4 548.7h0M610.9 537.2h0M592.7 553.1h0M576.8 557.9h0M617.4 549.4h0M619.2 548.2h0M574.8 555.8h0M597.3 552.2h0M605.4 552.2h0M624.9 538.0h0M622.8 536.3h0M626.4 534.8h0M627.3 530.5h0M619.0 544.9h0M621.6 546.0h0M597.0 545.6h0M618.1 549.8h0M604.8 552.7h0M627.0 531.1h0M609.8 545.3h0M608.6 547.6h0M618.2 548.4h0M587.2 553.1h0M625.8 537.2h0M594.5 547.3h0M625.0 535.6h0M604.9 550.3h0M601.5 549.6h0M620.9 540.6h0M573.4 561.7h0M619.6 538.3h0M612.7 548.3h0M618.3 533.0h0M625.2 541.1h0M611.7 537.3h0M585.1 553.7h0M577.3 557.5h0M622.5 530.5h0M582.1 552.7h0M624.1 542.9h0M589.1 554.3h0M587.7 554.5h0M625.1 537.5h0M617.2 550.5h0M607.2 551.6h0M608.0 552.1h0M596.5 547.1h0M572.9 560.1h0M602.8 549.0h0M606.5 548.4h0M578.8 553.3h0M602.6 551.6h0M620.4 535.4h0M600.9 545.6h0M617.0 547.3h0M613.8 541.2h0M620.6 536.3h0M627.0 528.5h0M613.0 534.8h0M603.6 547.1h0M625.2 533.7h0M625.1 537.6h0M613.3 548.8h0M598.2 548.5h0M575.0 558.4h0M587.6 553.6h0M587.9 554.5h0M602.3 549.6h0M573.5 556.9h0M574.4 560.0h0M623.8 545.0h0M580.4 556.1h0M597.8 551.8h0M624.8 529.5h0M622.0 540.0h0M619.0 548.8h0M616.3 550.5h0M608.9 543.6h0M623.0 539.4h0M617.5 536.1h0M616.3 548.4h0M625.9 535.5h0M626.6 535.7h0M611.6 536.5h0M599.8 551.1h0M616.1 550.7h0M607.5 545.7h0M593.6 551.6h0M598.9 551.0h0M591.2 553.8h0M622.9 538.8h0M584.8 552.0h0M610.6 537.0h0M604.2 548.9h0M616.8 542.5h0M625.9 531.8h0M600.9 544.4h0M610.6 544.2h0M605.0 544.7h0M574.4 561.2h0M589.0 551.5h0M623.2 530.8h0M612.3 550.2h0M604.9 541.8h0M592.0 552.8h0M621.7 542.0h0M620.8 548.0h0M624.7 537.9h0M579.9 555.1h0M590.8 549.3h0M614.3 550.1h0M613.6 546.8h0M625.5 530.3h0M581.2 556.2h0M627.5 508.4h0M629.7 483.5h0M628.6 484.4h0M630.9 486.0h0M629.6 493.6h0M627.3 507.8h0M627.9 496.5h0M631.0 484.3h0M629.0 494.9h0M628.5 512.6h0M627.2 506.2h0M631.3 483.7h0M632.3 463.8h0M628.4 498.7h0M630.3 462.9h0M627.3 520.7h0M630.8 477.9h0M627.4 513.8h0M632.3 474.4h0M631.2 477.4h0M629.7 492.2h0M628.9 497.6h0M628.4 514.2h0M630.1 474.1h0M627.5 512.8h0M628.0 492.2h0M629.3 465.7h0M630.3 461.8h0M629.5 468.2h0M630.6 485.0h0M617.4 545.7h0M612.3 547.7h0M603.1 545.9h0M608.3 544.5h0M623.6 538.8h0M618.1 541.5h0M606.7 548.4h0M611.9 544.9h0M606.3 541.4h0M622.9 543.0h0M619.6 534.4h0M608.7 551.2h0M612.7 534.0h0M609.5 551.3h0M611.2 537.2h0M618.0 542.6h0M610.5 538.7h0M624.1 539.0h0M607.8 548.8h0M620.8 540.7h0M613.5 533.4h0M614.0 537.1h0M623.3 529.1h0M603.7 547.1h0M619.2 544.8h0M608.9 535.4h0M605.3 543.9h0M619.6 532.9h0M622.2 541.0h0M603.8 547.7h0M616.0 540.8h0M603.5 542.0h0M620.5 536.1h0M619.7 535.3h0M612.4 546.6h0M614.9 530.5h0M616.5 532.9h0M605.2 552.2h0M610.3 542.1h0M606.1 545.4h0M617.4 545.4h0M612.6 537.4h0M624.3 541.8h0M612.1 533.9h0M622.8 532.1h0M628.2 460.4h0M629.2 461.7h0M619.4 474.8h0M612.8 504.1h0M618.4 502.7h0M620.9 505.6h0M605.1 510.8h0M605.1 516.6h0M619.9 517.2h0M614.7 522.3h0M608.8 525.2h0M621.9 527.2h0M620.9 531.0h0M587.2 532.9h0M589.2 538.1h0M594.4 532.9h0M537.8 556.6h0M562.8 554.1h0M565.5 547.0h0M568.0 547.4h0M570.3 550.6h0M581.5 546.0h0M583.4 545.4h0M585.3 551.2h0" stroke="#1f77b4" stroke-width="2.4" stroke-linecap="round"/></g><g clip-path="url(#c34)"><path d="M726.3 566.2L772.5 566.2L772.5 524.7L766.7 526.2L760.9 526.6L753.2 528.1L745.5 530.4L739.7 533.9L734.0 539.7L730.1 545.4L727.2 554.1Z" fill="#1f77b4"/><path d="M761.7 535.8h0M770.2 526.4h0M768.0 565.3h0M769.2 559.2h0M770.1 536.4h0M764.5 548.0h0M771.7 529.6h0M769.3 555.5h0M767.7 540.5h0M771.2 543.7h0M770.3 537.7h0M769.0 552.2h0M767.8 532.8h0M765.9 531.3h0M767.0 533.8h0M770.7 533.6h0M771.6 525.9h0M764.6 527.8h0M762.1 531.8h0M755.5 529.8h0M760.8 531.4h0M752.5 531.3h0M752.9 532.9h0M747.9 531.8h0M741.9 536.5h0M747.4 535.2h0M740.9 537.0h0M738.0 541.8h0M737.0 538.5h0M736.8 545.3h0M734.3 540.6h0M736.1 548.3h0M731.7 550.2h0M732.1 552.2h0M739.6 557.2h0M733.0 562.1h0M729.1 557.6h0M727.9 560.2h0" stroke="#fff" stroke-width="1.5" stroke-linecap="round"/><path d="M670.8 560.1h0M669.0 553.4h0M668.4 551.8h0M672.7 555.8h0M670.2 550.7h0M668.3 556.3h0M664.7 565.7h0M674.9 563.3h0M671.2 556.1h0M667.2 551.6h0M671.6 562.4h0M661.3 556.2h0M665.8 549.4h0M662.7 558.2h0M673.2 553.7h0M674.1 563.3h0M663.6 561.1h0M672.0 557.8h0M673.8 566.1h0M663.0 564.9h0M664.1 565.8h0M672.4 562.1h0M662.2 553.2h0M671.7 554.3h0M675.0 562.5h0M666.0 561.2h0M671.8 554.9h0M666.6 558.1h0M661.3 557.3h0M662.9 558.0h0M665.9 564.7h0M663.3 565.2h0M669.5 557.9h0M672.0 562.3h0M661.2 553.9h0M668.1 557.1h0M668.7 561.9h0M667.1 564.4h0M665.4 551.2h0M663.8 551.1h0M671.6 555.5h0M671.4 555.5h0M669.9 549.6h0M672.1 564.1h0M664.5 565.5h0M671.9 555.4h0M674.1 563.9h0M667.1 552.4h0M669.1 548.0h0M673.5 560.2h0M664.4 558.2h0M666.0 561.9h0M662.8 554.2h0M665.2 562.0h0M661.7 554.7h0M672.3 557.0h0M669.0 559.5h0M667.0 553.0h0M665.7 548.4h0M665.7 563.4h0M667.4 557.3h0M661.4 554.5h0M661.6 552.7h0M666.2 561.0h0M673.3 564.2h0M671.4 558.8h0M673.7 557.3h0M661.6 561.6h0M661.8 553.1h0M672.4 560.9h0M722.2 564.8h0M708.6 565.4h0M716.1 564.4h0M702.8 565.5h0M724.5 565.6h0M707.5 564.2h0M697.2 564.2h0M699.9 564.3h0M726.0 565.6h0M719.7 565.1h0M684.4 565.6h0M709.1 565.4h0M695.8 565.9h0M684.5 564.7h0M685.5 566.0h0M693.1 564.3h0M712.0 566.0h0M695.4 564.4h0M721.6 566.0h0M696.4 565.5h0M682.7 564.1h0M698.1 566.1h0M704.2 563.9h0M701.9 564.7h0M719.1 565.1h0M692.8 563.9h0M702.2 565.2h0M721.6 564.7h0M715.9 565.0h0M697.7 564.0h0M711.2 565.3h0M679.8 564.6h0M718.6 563.8h0M689.3 566.1h0M713.4 564.8h0M687.9 564.4h0M698.1 565.4h0M715.3 566.2h0M691.7 564.2h0M724.2 564.8h0M719.5 564.6h0M680.0 564.7h0M682.7 564.0h0M702.6 566.0h0M710.9 565.1h0M719.2 564.9h0M708.7 565.1h0M686.0 565.8h0M694.2 565.8h0M714.9 566.2h0M677.5 563.9h0M715.6 564.2h0M692.7 565.8h0M703.1 563.8h0M703.7 566.2h0M692.3 566.1h0M708.5 564.6h0M717.8 565.5h0M688.4 564.8h0M692.5 565.1h0M718.6 565.7h0M705.6 563.8h0M697.5 564.5h0M690.9 564.8h0M690.0 565.7h0M692.8 564.1h0M696.0 565.3h0M724.6 564.8h0M677.5 566.2h0M699.6 565.2h0M704.4 566.0h0M710.3 564.2h0M709.2 563.9h0M684.8 565.3h0M686.8 564.4h0M704.5 564.7h0M703.8 564.8h0M718.9 563.8h0M723.1 565.1h0M707.7 565.6h0M695.2 563.7h0M699.1 564.0h0M708.2 564.5h0M695.8 565.9h0M724.5 565.0h0M708.5 566.0h0M722.5 565.1h0M706.4 564.2h0M714.2 565.0h0M707.1 564.4h0M722.5 563.9h0M699.9 564.4h0M679.0 564.0h0M697.9 563.9h0M710.8 565.8h0M704.8 566.1h0M717.4 565.5h0M701.3 563.8h0M712.0 565.9h0M681.8 564.2h0M698.4 565.1h0M693.0 564.5h0M707.8 564.0h0M677.7 565.9h0M702.0 565.9h0M719.0 565.3h0M677.5 565.3h0M695.3 565.0h0M699.0 566.0h0M687.9 566.1h0M686.1 564.0h0M696.1 565.6h0M681.5 564.3h0M695.0 566.0h0M696.1 564.9h0M711.9 565.1h0M691.6 565.8h0M696.8 565.0h0M717.4 565.6h0M692.6 565.3h0M726.0 564.6h0M706.2 564.1h0M684.1 565.5h0M686.1 564.2h0M692.1 565.1h0M700.2 565.4h0M702.2 565.7h0M681.1 565.6h0M683.8 565.7h0M712.2 565.0h0M712.9 565.2h0M723.5 565.1h0M677.2 565.8h0M725.9 565.6h0M709.9 563.9h0M685.5 564.8h0M690.4 564.6h0M684.7 565.1h0M695.3 564.4h0M713.6 565.4h0M688.4 565.2h0M680.8 564.5h0M726.1 566.2h0M683.4 566.2h0M697.8 564.8h0M683.4 564.4h0M687.4 565.4h0M722.8 563.7h0M685.3 565.2h0M695.7 565.9h0M772.9 543.0h0M772.5 532.8h0M772.9 543.4h0M772.0 550.5h0M772.4 525.7h0M772.3 562.7h0M772.4 554.1h0M772.3 565.8h0M772.7 540.0h0M772.8 529.4h0M772.8 537.9h0M772.5 537.1h0M772.4 534.3h0M772.6 547.7h0M772.8 550.2h0M772.7 554.6h0M772.4 559.9h0M772.3 558.1h0M772.9 558.1h0M772.1 526.7h0M772.7 561.9h0M772.9 556.9h0M772.9 537.1h0M772.6 539.4h0M772.3 552.3h0M772.2 541.2h0M772.5 560.3h0M772.8 533.9h0M772.4 546.8h0M772.6 547.8h0M772.6 554.3h0M773.0 535.9h0M771.9 544.3h0M772.0 530.4h0M772.8 560.1h0M772.3 566.1h0M771.9 538.7h0M772.3 561.5h0M772.9 551.5h0M772.9 534.5h0M772.0 526.9h0M772.7 564.8h0M772.3 536.0h0M772.3 554.2h0M772.9 557.7h0M772.0 547.4h0M772.5 539.7h0M772.5 559.7h0M772.6 564.0h0M772.6 551.0h0M772.9 548.4h0M772.8 563.8h0M771.9 547.8h0M772.5 546.2h0M767.7 525.3h0M769.3 520.2h0M770.4 525.0h0M769.4 523.7h0M772.5 525.0h0M768.6 525.6h0M769.3 526.0h0M767.6 525.5h0M762.0 524.1h0M763.2 524.7h0M763.4 521.9h0M761.0 525.7h0M761.9 521.8h0M763.0 521.2h0M765.3 520.3h0M761.9 521.1h0M756.8 527.3h0M757.6 525.7h0M760.6 527.2h0M757.7 525.4h0M756.2 527.7h0M758.8 527.2h0M755.2 527.8h0M760.8 526.2h0M755.6 526.9h0M757.6 527.1h0M746.3 528.7h0M748.6 525.8h0M751.4 528.3h0M751.8 527.9h0M745.7 527.5h0M752.1 525.1h0M752.5 529.0h0M749.5 529.8h0M752.4 527.7h0M748.6 528.5h0M745.9 530.8h0M740.9 533.0h0M742.5 532.1h0M740.7 533.0h0M745.2 530.1h0M740.8 532.3h0M743.2 530.9h0M743.6 531.5h0M745.4 530.5h0M744.2 530.8h0M737.6 533.9h0M734.8 537.8h0M738.3 532.9h0M737.7 536.3h0M737.8 534.4h0M736.4 536.9h0M732.9 536.6h0M734.9 533.4h0M738.1 536.1h0M734.2 535.7h0M736.2 537.3h0M731.2 544.7h0M729.7 541.2h0M731.5 541.1h0M730.7 545.2h0M730.4 539.1h0M730.4 544.0h0M727.7 543.4h0M732.8 542.4h0M730.5 539.7h0M724.7 551.9h0M724.5 547.8h0M723.6 551.5h0M727.5 550.6h0M730.1 546.5h0M725.1 549.4h0M727.3 553.3h0M726.9 547.9h0M729.4 547.2h0M724.8 546.4h0M726.5 553.1h0M727.0 559.6h0M724.9 557.6h0M723.7 560.5h0M727.0 561.0h0M722.8 561.3h0M720.4 558.4h0M726.4 564.2h0M723.5 555.6h0M723.3 563.4h0M727.0 559.3h0M725.9 556.6h0M726.5 561.8h0M718.6 557.6h0M723.4 560.7h0M727.1 557.9h0M727.4 557.1h0M723.6 545.2h0M761.7 516.2h0M722.2 550.2h0M740.2 529.2h0M748.8 526.8h0M747.3 529.1h0M725.5 558.0h0M722.9 545.3h0M719.1 564.2h0M738.6 531.1h0M734.4 528.4h0M726.0 559.0h0M732.2 537.7h0M755.1 522.3h0M764.4 509.1h0M739.1 517.9h0M733.7 531.2h0M740.0 518.3h0M727.6 544.2h0M724.2 555.1h0M752.0 527.6h0M723.1 556.1h0M761.7 519.6h0M737.1 532.9h0M761.4 517.8h0M722.2 557.9h0M720.6 549.6h0M721.9 555.4h0M754.2 522.0h0M730.3 537.4h0M765.2 510.7h0M756.5 515.8h0M725.0 560.6h0M769.9 521.2h0M731.9 540.2h0M727.7 552.6h0M745.7 522.4h0M723.5 562.0h0M732.5 532.4h0M726.4 560.0h0M734.0 531.3h0M768.6 509.8h0M738.9 534.1h0M755.4 519.6h0M758.0 518.6h0M765.4 523.6h0M753.5 523.2h0M748.5 529.3h0M738.3 535.3h0M733.4 532.9h0M746.8 525.8h0M767.1 518.6h0M725.8 560.9h0M764.3 518.4h0M730.8 538.3h0M751.6 523.2h0M748.8 524.7h0M759.5 512.3h0M724.5 560.9h0M756.2 527.0h0M748.1 521.7h0M764.0 509.8h0M726.2 555.1h0M770.2 517.9h0M736.3 535.7h0M756.4 516.2h0M763.7 523.5h0M724.3 543.5h0M767.3 522.1h0M747.2 529.4h0M753.4 526.1h0M741.0 524.1h0M730.5 540.4h0M749.1 518.4h0M761.5 510.2h0M767.8 515.5h0M770.9 507.0h0M761.0 523.5h0M750.1 523.0h0M753.6 521.8h0M717.1 559.7h0M731.1 531.6h0M733.2 536.1h0M758.8 517.4h0M723.3 554.3h0M716.4 565.8h0M727.5 535.6h0M760.5 514.6h0M726.1 540.0h0M731.7 537.4h0M731.8 539.0h0M743.7 527.5h0M723.7 559.9h0M742.8 518.0h0M766.4 516.5h0M732.1 528.7h0M764.5 515.8h0M725.5 556.4h0M766.1 518.2h0M766.2 514.4h0M735.2 528.0h0M765.1 525.7h0M769.4 510.5h0M756.0 516.9h0M725.4 550.9h0M766.5 523.6h0M763.5 523.0h0M761.9 509.4h0M739.8 532.5h0M754.2 515.6h0M753.9 512.9h0M722.0 549.4h0M731.5 527.1h0M726.1 559.7h0M755.7 525.4h0M764.8 524.2h0M723.0 545.3h0M717.1 561.6h0M733.3 535.4h0M737.9 531.5h0M762.4 518.2h0M756.1 527.0h0M771.5 506.2h0M739.6 533.1h0M752.2 528.1h0M728.2 548.2h0M750.2 527.8h0M747.7 515.2h0M722.7 560.6h0M730.1 533.4h0M761.4 525.1h0M760.2 518.0h0M736.2 535.7h0M761.7 521.7h0M738.3 530.9h0M752.8 527.8h0M770.6 523.4h0M753.3 526.3h0M724.6 546.8h0M749.4 519.8h0M729.9 541.2h0M733.6 524.5h0M721.2 558.6h0M745.5 522.0h0M728.8 549.1h0M737.8 535.4h0M740.8 522.5h0M742.8 522.8h0M768.8 514.9h0M762.4 522.3h0M767.5 524.9h0M752.2 525.1h0M718.4 555.5h0M728.6 547.5h0M748.0 523.4h0M771.5 523.4h0M726.9 552.7h0M768.6 516.0h0M726.1 565.4h0M723.4 565.3h0M762.1 524.8h0M729.9 543.9h0M725.3 551.3h0M728.4 538.6h0M752.0 518.6h0M726.8 543.8h0M729.7 539.1h0M771.4 505.4h0M726.6 547.4h0M728.9 542.5h0M744.4 529.0h0M722.4 555.0h0M762.9 521.7h0M743.0 530.1h0M731.9 540.0h0M722.6 547.6h0M753.7 524.7h0M717.0 563.8h0M729.1 538.3h0M733.9 522.5h0M746.7 522.1h0M724.0 561.7h0M758.6 521.6h0M728.3 536.0h0M726.8 541.8h0M716.9 561.2h0M763.6 518.6h0M766.9 519.2h0M767.8 524.3h0M735.6 536.7h0M738.1 534.7h0M767.1 511.0h0M758.7 522.7h0M743.3 528.7h0M721.9 565.6h0M746.3 525.1h0M753.3 519.8h0M772.1 519.7h0M724.1 561.4h0M758.2 524.6h0M763.5 525.1h0M743.5 521.2h0M739.1 523.0h0M769.4 522.6h0M765.5 516.5h0M753.2 521.9h0M723.8 553.9h0M725.9 557.1h0M750.2 515.6h0M765.7 521.0h0M726.7 540.6h0M767.1 517.7h0M765.3 512.2h0M765.0 525.1h0M727.7 534.0h0M720.9 564.2h0M731.9 536.6h0M743.3 515.4h0M744.9 517.9h0M725.9 557.8h0M716.1 547.1h0M704.2 558.7h0M713.4 557.1h0M711.3 563.3h0M708.2 563.0h0M706.8 547.0h0M696.4 557.7h0M711.4 564.0h0M710.0 552.2h0M703.3 560.6h0M715.1 564.7h0M709.6 547.3h0M716.6 561.1h0M712.2 546.8h0M695.1 559.1h0M699.8 565.1h0M696.3 565.3h0M707.7 546.7h0M702.3 552.3h0M715.6 546.6h0M716.0 559.9h0M705.6 562.9h0M716.6 550.5h0M700.9 552.6h0M705.1 563.3h0M709.5 551.1h0M708.8 546.4h0M715.7 548.2h0M712.5 549.2h0M709.7 561.9h0M708.2 556.5h0M703.6 549.2h0M701.2 554.5h0M695.3 564.4h0M698.8 559.7h0M700.4 559.5h0M707.3 554.4h0M698.1 560.3h0M699.4 551.1h0M697.4 563.7h0M711.7 551.1h0M716.3 544.2h0M699.1 560.6h0M710.6 551.1h0M704.2 554.9h0M707.3 549.1h0M714.4 562.2h0M696.7 561.1h0M710.6 563.8h0M715.5 544.8h0M716.1 560.6h0M703.9 561.0h0M705.8 563.6h0M706.9 565.8h0M699.4 564.7h0M714.5 549.5h0M713.9 558.8h0M708.0 562.2h0M716.5 545.5h0M696.9 553.6h0M761.1 488.9h0M765.1 512.2h0M754.4 500.8h0M766.7 502.4h0M747.4 502.2h0M751.4 497.3h0M771.2 508.6h0M747.3 508.9h0M760.4 497.1h0M754.6 500.1h0M757.4 508.9h0M754.0 503.5h0M760.2 508.0h0M749.8 503.3h0M747.9 503.5h0M766.6 502.4h0M748.2 503.2h0M753.4 492.8h0M751.4 492.6h0M771.9 505.4h0M665.3 533.9h0M677.2 532.9h0M677.8 543.9h0M667.6 543.1h0M667.0 549.3h0M684.9 549.3h0M683.6 550.8h0M688.7 550.8h0M681.6 565.1h0M687.8 565.1h0M691.3 565.1h0M729.7 486.2h0M736.9 477.1h0M751.7 470.0h0M755.1 481.4h0M752.8 485.8h0M752.8 488.7h0M757.1 492.5h0M756.7 495.4h0M765.3 487.7h0M767.3 493.5h0M758.0 501.2h0M752.8 503.1h0M745.9 500.6h0M750.3 504.6h0M770.5 503.1h0M770.1 506.0h0M770.5 516.6h0M734.9 518.5h0M739.7 512.7h0M744.6 507.9h0M744.6 511.8h0M728.6 537.7h0M727.2 542.2h0M713.2 543.9h0M718.2 540.0h0M716.6 543.5h0M697.4 547.4h0M702.2 548.3h0M705.1 549.3h0" stroke="#1f77b4" stroke-width="2.4" stroke-linecap="round"/></g>
<path d="M95.40 18.50H216.50V134.30H95.40ZM95.40 134.30v3.6M154.50 134.30v3.6M213.60 134.30v3.6M95.40 129.04h-3.6M95.40 23.76h-3.6M236.00 18.50H356.70V134.30H236.00ZM237.50 134.30v3.6M295.90 134.30v3.6M354.30 134.30v3.6M236.00 129.04h-3.6M236.00 23.76h-3.6M376.30 18.50H497.10V134.30H376.30ZM381.20 134.30v3.6M436.85 134.30v3.6M492.50 134.30v3.6M376.30 129.04h-3.6M376.30 23.76h-3.6M516.60 18.50H637.60V134.30H516.60ZM521.20 134.30v3.6M577.90 134.30v3.6M634.60 134.30v3.6M516.60 129.04h-3.6M516.60 23.76h-3.6M657.00 18.50H777.50V134.30H657.00ZM661.40 134.30v3.6M716.80 134.30v3.6M772.20 134.30v3.6M657.00 129.04h-3.6M657.00 23.76h-3.6M95.40 164.10H216.50V279.80H95.40ZM95.40 279.80v3.6M154.95 279.80v3.6M214.50 279.80v3.6M95.40 274.54h-3.6M95.40 169.36h-3.6M236.00 164.10H356.70V279.80H236.00ZM236.10 279.80v3.6M296.35 279.80v3.6M356.60 279.80v3.6M236.00 274.54h-3.6M236.00 169.36h-3.6M376.30 164.10H497.10V279.80H376.30ZM379.80 279.80v3.6M437.20 279.80v3.6M494.60 279.80v3.6M376.30 274.54h-3.6M376.30 169.36h-3.6M516.60 164.10H637.60V279.80H516.60ZM520.30 279.80v3.6M577.75 279.80v3.6M635.20 279.80v3.6M516.60 274.54h-3.6M516.60 169.36h-3.6M657.00 164.10H777.50V279.80H657.00ZM657.50 279.80v3.6M715.00 279.80v3.6M772.50 279.80v3.6M657.00 274.54h-3.6M657.00 169.36h-3.6M95.40 309.60H216.50V425.20H95.40ZM95.40 425.20v3.6M154.95 425.20v3.6M214.50 425.20v3.6M95.40 419.95h-3.6M95.40 314.85h-3.6M236.00 309.60H356.70V425.20H236.00ZM236.10 425.20v3.6M296.35 425.20v3.6M356.60 425.20v3.6M236.00 419.95h-3.6M236.00 314.85h-3.6M376.30 309.60H497.10V425.20H376.30ZM379.80 425.20v3.6M437.20 425.20v3.6M494.60 425.20v3.6M376.30 419.95h-3.6M376.30 314.85h-3.6M516.60 309.60H637.60V425.20H516.60ZM520.30 425.20v3.6M577.75 425.20v3.6M635.20 425.20v3.6M516.60 419.95h-3.6M516.60 314.85h-3.6M657.00 309.60H777.50V425.20H657.00ZM657.50 425.20v3.6M715.00 425.20v3.6M772.50 425.20v3.6M657.00 419.95h-3.6M657.00 314.85h-3.6M95.40 455.20H216.50V570.80H95.40ZM95.40 570.80v3.6M154.50 570.80v3.6M213.60 570.80v3.6M95.40 565.55h-3.6M95.40 460.45h-3.6M236.00 455.20H356.70V570.80H236.00ZM237.50 570.80v3.6M295.90 570.80v3.6M354.30 570.80v3.6M236.00 565.55h-3.6M236.00 460.45h-3.6M376.30 455.20H497.10V570.80H376.30ZM381.20 570.80v3.6M436.85 570.80v3.6M492.50 570.80v3.6M376.30 565.55h-3.6M376.30 460.45h-3.6M516.60 455.20H637.60V570.80H516.60ZM521.20 570.80v3.6M577.90 570.80v3.6M634.60 570.80v3.6M516.60 565.55h-3.6M516.60 460.45h-3.6M657.00 455.20H777.50V570.80H657.00ZM661.40 570.80v3.6M716.80 570.80v3.6M772.20 570.80v3.6M657.00 565.55h-3.6M657.00 460.45h-3.6" fill="none" stroke="#000" stroke-width="0.9"/>
<text x="155.95" y="11.90" font-size="13.26" text-anchor="middle" textLength="93.07" lengthAdjust="spacingAndGlyphs">Patient HUP83</text><text x="296.35" y="11.90" font-size="13.26" text-anchor="middle" textLength="101.34" lengthAdjust="spacingAndGlyphs">Patient HUP097</text><text x="436.70" y="11.90" font-size="13.26" text-anchor="middle" textLength="101.34" lengthAdjust="spacingAndGlyphs">Patient HUP204</text><text x="577.10" y="11.90" font-size="13.26" text-anchor="middle" textLength="101.34" lengthAdjust="spacingAndGlyphs">Patient HUP101</text><text x="717.25" y="11.90" font-size="13.26" text-anchor="middle" textLength="101.34" lengthAdjust="spacingAndGlyphs">Patient HUP170</text><text x="95.40" y="150.00" font-size="11.05" text-anchor="middle" textLength="10.80" lengthAdjust="spacingAndGlyphs">-1</text><text x="154.50" y="150.00" font-size="11.05" text-anchor="middle" textLength="6.89" lengthAdjust="spacingAndGlyphs">0</text><text x="213.60" y="150.00" font-size="11.05" text-anchor="middle" textLength="6.89" lengthAdjust="spacingAndGlyphs">1</text><text x="102.00" y="33.10" font-size="11.05" text-anchor="start" textLength="84.59" lengthAdjust="spacingAndGlyphs">r=0.45, p&lt;0.01</text><text x="237.50" y="150.00" font-size="11.05" text-anchor="middle" textLength="10.80" lengthAdjust="spacingAndGlyphs">-1</text><text x="295.90" y="150.00" font-size="11.05" text-anchor="middle" textLength="6.89" lengthAdjust="spacingAndGlyphs">0</text><text x="354.30" y="150.00" font-size="11.05" text-anchor="middle" textLength="6.89" lengthAdjust="spacingAndGlyphs">1</text><text x="242.60" y="33.10" font-size="11.05" text-anchor="start" textLength="84.59" lengthAdjust="spacingAndGlyphs">r=0.72, p&lt;0.01</text><text x="381.20" y="150.00" font-size="11.05" text-anchor="middle" textLength="10.80" lengthAdjust="spacingAndGlyphs">-1</text><text x="436.85" y="150.00" font-size="11.05" text-anchor="middle" textLength="6.89" lengthAdjust="spacingAndGlyphs">0</text><text x="492.50" y="150.00" font-size="11.05" text-anchor="middle" textLength="6.89" lengthAdjust="spacingAndGlyphs">1</text><text x="382.90" y="33.10" font-size="11.05" text-anchor="start" textLength="84.59" lengthAdjust="spacingAndGlyphs">r=0.37, p&lt;0.01</text><text x="521.20" y="150.00" font-size="11.05" text-anchor="middle" textLength="10.80" lengthAdjust="spacingAndGlyphs">-1</text><text x="577.90" y="150.00" font-size="11.05" text-anchor="middle" textLength="6.89" lengthAdjust="spacingAndGlyphs">0</text><text x="634.60" y="150.00" font-size="11.05" text-anchor="middle" textLength="6.89" lengthAdjust="spacingAndGlyphs">1</text><text x="523.20" y="33.10" font-size="11.05" text-anchor="start" textLength="84.59" lengthAdjust="spacingAndGlyphs">r=0.73, p&lt;0.01</text><text x="661.40" y="150.00" font-size="11.05" text-anchor="middle" textLength="10.80" lengthAdjust="spacingAndGlyphs">-1</text><text x="716.80" y="150.00" font-size="11.05" text-anchor="middle" textLength="6.89" lengthAdjust="spacingAndGlyphs">0</text><text x="772.20" y="150.00" font-size="11.05" text-anchor="middle" textLength="6.89" lengthAdjust="spacingAndGlyphs">1</text><text x="663.60" y="33.10" font-size="11.05" text-anchor="start" textLength="84.59" lengthAdjust="spacingAndGlyphs">r=0.41, p&lt;0.01</text><text x="88.00" y="133.04" font-size="11.05" text-anchor="end" textLength="6.89" lengthAdjust="spacingAndGlyphs">0</text><text x="88.00" y="27.76" font-size="11.05" text-anchor="end" textLength="6.89" lengthAdjust="spacingAndGlyphs">1</text><text x="74.20" y="76.40" font-size="13.26" text-anchor="middle" textLength="127.75" lengthAdjust="spacingAndGlyphs" transform="rotate(-90 74.20 76.40)">Feature Importance</text><text x="95.40" y="295.50" font-size="11.05" text-anchor="middle" textLength="10.80" lengthAdjust="spacingAndGlyphs">-1</text><text x="154.95" y="295.50" font-size="11.05" text-anchor="middle" textLength="6.89" lengthAdjust="spacingAndGlyphs">0</text><text x="214.50" y="295.50" font-size="11.05" text-anchor="middle" textLength="6.89" lengthAdjust="spacingAndGlyphs">1</text><text x="102.00" y="178.70" font-size="11.05" text-anchor="start" textLength="84.59" lengthAdjust="spacingAndGlyphs">r=0.33, p&lt;0.01</text><text x="236.10" y="295.50" font-size="11.05" text-anchor="middle" textLength="10.80" lengthAdjust="spacingAndGlyphs">-1</text><text x="296.35" y="295.50" font-size="11.05" text-anchor="middle" textLength="6.89" lengthAdjust="spacingAndGlyphs">0</text><text x="356.60" y="295.50" font-size="11.05" text-anchor="middle" textLength="6.89" lengthAdjust="spacingAndGlyphs">1</text><text x="242.60" y="178.70" font-size="11.05" text-anchor="start" textLength="84.59" lengthAdjust="spacingAndGlyphs">r=0.16, p&lt;0.01</text><text x="379.80" y="295.50" font-size="11.05" text-anchor="middle" textLength="10.80" lengthAdjust="spacingAndGlyphs">-1</text><text x="437.20" y="295.50" font-size="11.05" text-anchor="middle" textLength="6.89" lengthAdjust="spacingAndGlyphs">0</text><text x="494.60" y="295.50" font-size="11.05" text-anchor="middle" textLength="6.89" lengthAdjust="spacingAndGlyphs">1</text><text x="382.90" y="178.70" font-size="11.05" text-anchor="start" textLength="84.59" lengthAdjust="spacingAndGlyphs">r=0.28, p&lt;0.01</text><text x="520.30" y="295.50" font-size="11.05" text-anchor="middle" textLength="10.80" lengthAdjust="spacingAndGlyphs">-1</text><text x="577.75" y="295.50" font-size="11.05" text-anchor="middle" textLength="6.89" lengthAdjust="spacingAndGlyphs">0</text><text x="635.20" y="295.50" font-size="11.05" text-anchor="middle" textLength="6.89" lengthAdjust="spacingAndGlyphs">1</text><text x="523.20" y="178.70" font-size="11.05" text-anchor="start" textLength="84.59" lengthAdjust="spacingAndGlyphs">r=0.12, p&lt;0.01</text><text x="657.50" y="295.50" font-size="11.05" text-anchor="middle" textLength="10.80" lengthAdjust="spacingAndGlyphs">-1</text><text x="715.00" y="295.50" font-size="11.05" text-anchor="middle" textLength="6.89" lengthAdjust="spacingAndGlyphs">0</text><text x="772.50" y="295.50" font-size="11.05" text-anchor="middle" textLength="6.89" lengthAdjust="spacingAndGlyphs">1</text><text x="663.60" y="178.70" font-size="11.05" text-anchor="start" textLength="84.59" lengthAdjust="spacingAndGlyphs">r=0.09, p&lt;0.01</text><text x="88.00" y="278.54" font-size="11.05" text-anchor="end" textLength="6.89" lengthAdjust="spacingAndGlyphs">0</text><text x="88.00" y="173.36" font-size="11.05" text-anchor="end" textLength="6.89" lengthAdjust="spacingAndGlyphs">1</text><text x="74.20" y="221.95" font-size="13.26" text-anchor="middle" textLength="127.75" lengthAdjust="spacingAndGlyphs" transform="rotate(-90 74.20 221.95)">Feature Importance</text><text x="95.40" y="440.90" font-size="11.05" text-anchor="middle" textLength="10.80" lengthAdjust="spacingAndGlyphs">-1</text><text x="154.95" y="440.90" font-size="11.05" text-anchor="middle" textLength="6.89" lengthAdjust="spacingAndGlyphs">0</text><text x="214.50" y="440.90" font-size="11.05" text-anchor="middle" textLength="6.89" lengthAdjust="spacingAndGlyphs">1</text><text x="102.00" y="324.20" font-size="11.05" text-anchor="start" textLength="84.59" lengthAdjust="spacingAndGlyphs">r=0.23, p&lt;0.01</text><text x="236.10" y="440.90" font-size="11.05" text-anchor="middle" textLength="10.80" lengthAdjust="spacingAndGlyphs">-1</text><text x="296.35" y="440.90" font-size="11.05" text-anchor="middle" textLength="6.89" lengthAdjust="spacingAndGlyphs">0</text><text x="356.60" y="440.90" font-size="11.05" text-anchor="middle" textLength="6.89" lengthAdjust="spacingAndGlyphs">1</text><text x="242.60" y="324.20" font-size="11.05" text-anchor="start" textLength="84.59" lengthAdjust="spacingAndGlyphs">r=0.07, p&lt;0.01</text><text x="379.80" y="440.90" font-size="11.05" text-anchor="middle" textLength="10.80" lengthAdjust="spacingAndGlyphs">-1</text><text x="437.20" y="440.90" font-size="11.05" text-anchor="middle" textLength="6.89" lengthAdjust="spacingAndGlyphs">0</text><text x="494.60" y="440.90" font-size="11.05" text-anchor="middle" textLength="6.89" lengthAdjust="spacingAndGlyphs">1</text><text x="382.90" y="324.20" font-size="11.05" text-anchor="start" textLength="84.59" lengthAdjust="spacingAndGlyphs">r=0.05, p&lt;0.01</text><text x="520.30" y="440.90" font-size="11.05" text-anchor="middle" textLength="10.80" lengthAdjust="spacingAndGlyphs">-1</text><text x="577.75" y="440.90" font-size="11.05" text-anchor="middle" textLength="6.89" lengthAdjust="spacingAndGlyphs">0</text><text x="635.20" y="440.90" font-size="11.05" text-anchor="middle" textLength="6.89" lengthAdjust="spacingAndGlyphs">1</text><text x="523.20" y="324.20" font-size="11.05" text-anchor="start" textLength="88.50" lengthAdjust="spacingAndGlyphs">r=-0.00, p&lt;0.01</text><text x="657.50" y="440.90" font-size="11.05" text-anchor="middle" textLength="10.80" lengthAdjust="spacingAndGlyphs">-1</text><text x="715.00" y="440.90" font-size="11.05" text-anchor="middle" textLength="6.89" lengthAdjust="spacingAndGlyphs">0</text><text x="772.50" y="440.90" font-size="11.05" text-anchor="middle" textLength="6.89" lengthAdjust="spacingAndGlyphs">1</text><text x="663.60" y="324.20" font-size="11.05" text-anchor="start" textLength="84.59" lengthAdjust="spacingAndGlyphs">r=0.06, p&lt;0.01</text><text x="88.00" y="423.95" font-size="11.05" text-anchor="end" textLength="6.89" lengthAdjust="spacingAndGlyphs">0</text><text x="88.00" y="318.85" font-size="11.05" text-anchor="end" textLength="6.89" lengthAdjust="spacingAndGlyphs">1</text><text x="74.20" y="367.40" font-size="13.26" text-anchor="middle" textLength="127.75" lengthAdjust="spacingAndGlyphs" transform="rotate(-90 74.20 367.40)">Feature Importance</text><text x="95.40" y="586.50" font-size="11.05" text-anchor="middle" textLength="10.80" lengthAdjust="spacingAndGlyphs">-1</text><text x="154.50" y="586.50" font-size="11.05" text-anchor="middle" textLength="6.89" lengthAdjust="spacingAndGlyphs">0</text><text x="213.60" y="586.50" font-size="11.05" text-anchor="middle" textLength="6.89" lengthAdjust="spacingAndGlyphs">1</text><text x="102.00" y="469.80" font-size="11.05" text-anchor="start" textLength="84.59" lengthAdjust="spacingAndGlyphs">r=0.36, p&lt;0.01</text><text x="237.50" y="586.50" font-size="11.05" text-anchor="middle" textLength="10.80" lengthAdjust="spacingAndGlyphs">-1</text><text x="295.90" y="586.50" font-size="11.05" text-anchor="middle" textLength="6.89" lengthAdjust="spacingAndGlyphs">0</text><text x="354.30" y="586.50" font-size="11.05" text-anchor="middle" textLength="6.89" lengthAdjust="spacingAndGlyphs">1</text><text x="242.60" y="469.80" font-size="11.05" text-anchor="start" textLength="84.59" lengthAdjust="spacingAndGlyphs">r=0.42, p&lt;0.01</text><text x="381.20" y="586.50" font-size="11.05" text-anchor="middle" textLength="10.80" lengthAdjust="spacingAndGlyphs">-1</text><text x="436.85" y="586.50" font-size="11.05" text-anchor="middle" textLength="6.89" lengthAdjust="spacingAndGlyphs">0</text><text x="492.50" y="586.50" font-size="11.05" text-anchor="middle" textLength="6.89" lengthAdjust="spacingAndGlyphs">1</text><text x="382.90" y="469.80" font-size="11.05" text-anchor="start" textLength="84.59" lengthAdjust="spacingAndGlyphs">r=0.12, p&lt;0.01</text><text x="521.20" y="586.50" font-size="11.05" text-anchor="middle" textLength="10.80" lengthAdjust="spacingAndGlyphs">-1</text><text x="577.90" y="586.50" font-size="11.05" text-anchor="middle" textLength="6.89" lengthAdjust="spacingAndGlyphs">0</text><text x="634.60" y="586.50" font-size="11.05" text-anchor="middle" textLength="6.89" lengthAdjust="spacingAndGlyphs">1</text><text x="523.20" y="469.80" font-size="11.05" text-anchor="start" textLength="84.59" lengthAdjust="spacingAndGlyphs">r=0.38, p&lt;0.01</text><text x="661.40" y="586.50" font-size="11.05" text-anchor="middle" textLength="10.80" lengthAdjust="spacingAndGlyphs">-1</text><text x="716.80" y="586.50" font-size="11.05" text-anchor="middle" textLength="6.89" lengthAdjust="spacingAndGlyphs">0</text><text x="772.20" y="586.50" font-size="11.05" text-anchor="middle" textLength="6.89" lengthAdjust="spacingAndGlyphs">1</text><text x="663.60" y="469.80" font-size="11.05" text-anchor="start" textLength="84.59" lengthAdjust="spacingAndGlyphs">r=0.15, p&lt;0.01</text><text x="88.00" y="569.55" font-size="11.05" text-anchor="end" textLength="6.89" lengthAdjust="spacingAndGlyphs">0</text><text x="88.00" y="464.45" font-size="11.05" text-anchor="end" textLength="6.89" lengthAdjust="spacingAndGlyphs">1</text><text x="74.20" y="513.00" font-size="13.26" text-anchor="middle" textLength="127.75" lengthAdjust="spacingAndGlyphs" transform="rotate(-90 74.20 513.00)">Feature Importance</text><text x="155.95" y="602.90" font-size="13.26" text-anchor="middle" textLength="84.62" lengthAdjust="spacingAndGlyphs">Predictability</text><text x="296.35" y="602.90" font-size="13.26" text-anchor="middle" textLength="84.62" lengthAdjust="spacingAndGlyphs">Predictability</text><text x="436.70" y="602.90" font-size="13.26" text-anchor="middle" textLength="84.62" lengthAdjust="spacingAndGlyphs">Predictability</text><text x="577.10" y="602.90" font-size="13.26" text-anchor="middle" textLength="84.62" lengthAdjust="spacingAndGlyphs">Predictability</text><text x="717.25" y="602.90" font-size="13.26" text-anchor="middle" textLength="84.62" lengthAdjust="spacingAndGlyphs">Predictability</text><text x="14.70" y="27.00" font-size="16.32" text-anchor="end" font-weight="bold" textLength="76.58" lengthAdjust="spacingAndGlyphs" transform="rotate(-90 14.70 27.00)">Baseline</text><text x="32.90" y="27.00" font-size="16.32" text-anchor="end" font-weight="bold" textLength="72.66" lengthAdjust="spacingAndGlyphs" transform="rotate(-90 32.90 27.00)">Model A</text><text x="14.70" y="183.30" font-size="16.32" text-anchor="end" font-weight="bold" textLength="76.58" lengthAdjust="spacingAndGlyphs" transform="rotate(-90 14.70 183.30)">Baseline</text><text x="32.90" y="183.30" font-size="16.32" text-anchor="end" font-weight="bold" textLength="72.47" lengthAdjust="spacingAndGlyphs" transform="rotate(-90 32.90 183.30)">Model B</text><text x="14.70" y="340.30" font-size="16.32" text-anchor="end" font-weight="bold" textLength="76.58" lengthAdjust="spacingAndGlyphs" transform="rotate(-90 14.70 340.30)">Baseline</text><text x="32.90" y="340.30" font-size="16.32" text-anchor="end" font-weight="bold" textLength="72.02" lengthAdjust="spacingAndGlyphs" transform="rotate(-90 32.90 340.30)">Model C</text><text x="14.70" y="497.10" font-size="16.32" text-anchor="end" font-weight="bold" textLength="76.58" lengthAdjust="spacingAndGlyphs" transform="rotate(-90 14.70 497.10)">Baseline</text><text x="32.90" y="497.10" font-size="16.32" text-anchor="end" font-weight="bold" textLength="73.56" lengthAdjust="spacingAndGlyphs" transform="rotate(-90 32.90 497.10)">Model D</text>
</svg></body></html>
